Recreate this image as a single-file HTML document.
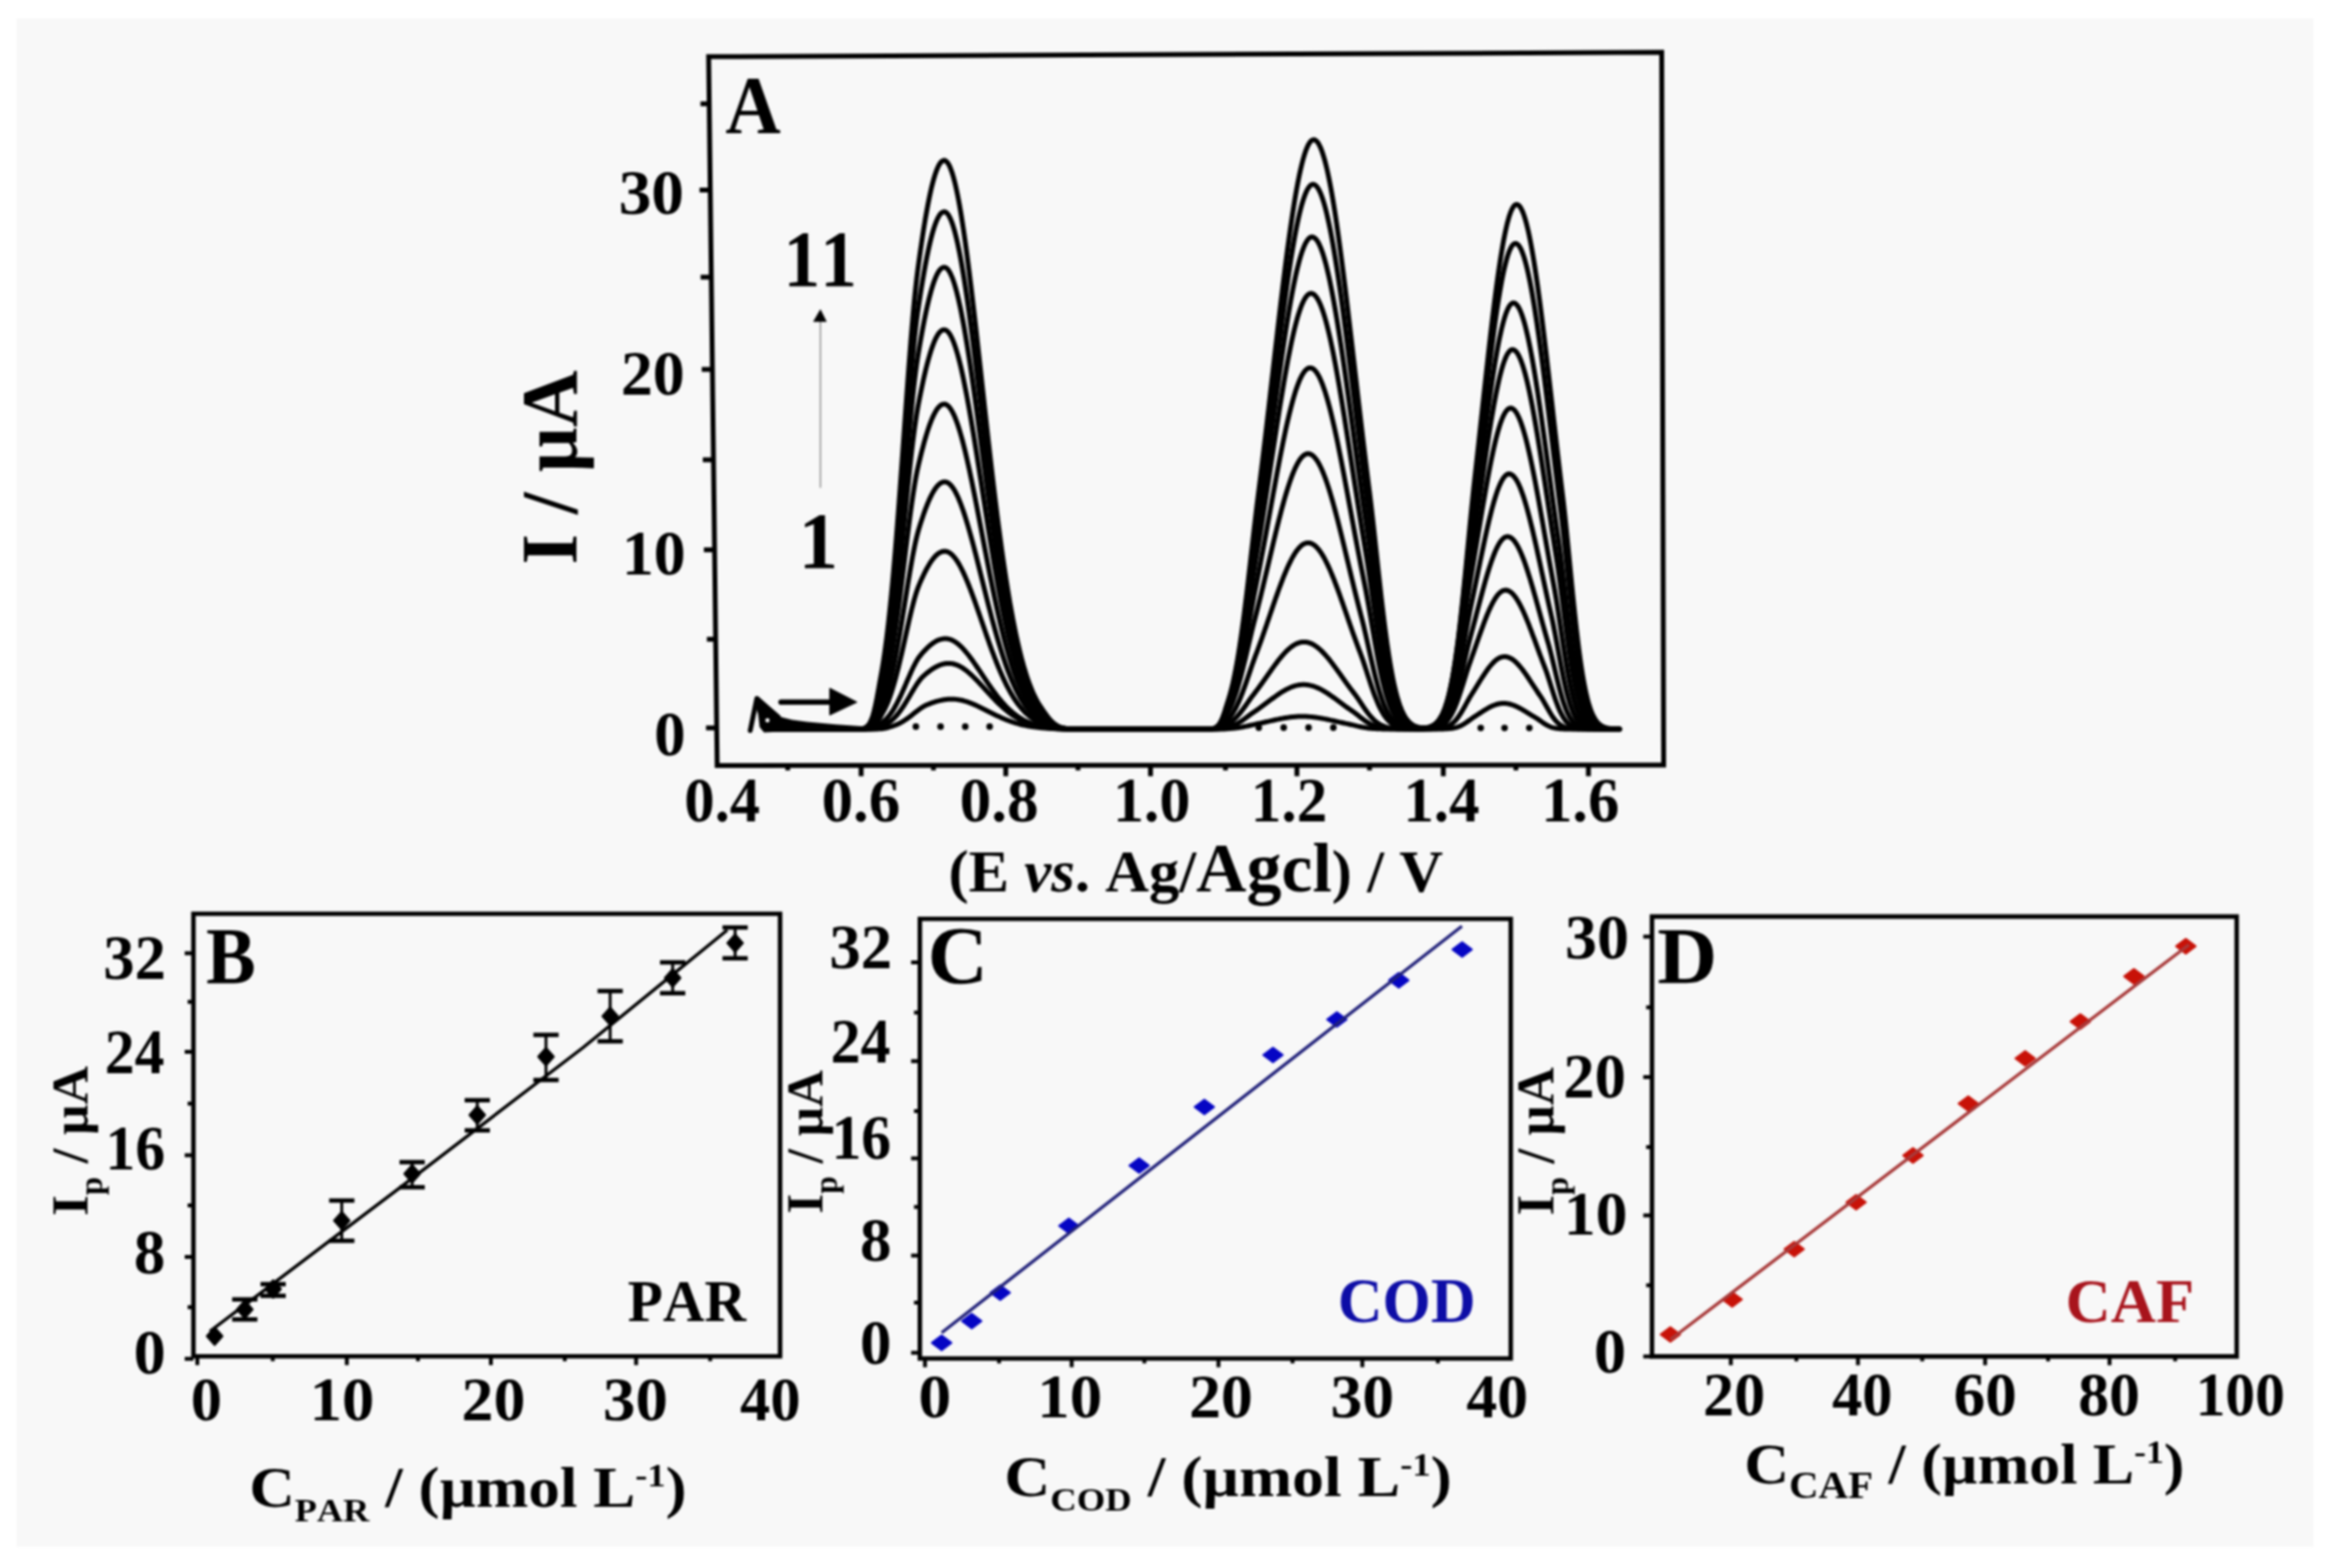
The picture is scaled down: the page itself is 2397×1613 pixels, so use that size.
<!DOCTYPE html>
<html><head><meta charset="utf-8"><title>Figure</title>
<style>html,body{margin:0;padding:0;background:#fff;} svg text{font-kerning:none;}</style>
</head><body>
<div style="width:2397px;height:1613px;overflow:hidden;filter:blur(0.8px)">
<svg xmlns="http://www.w3.org/2000/svg" width="2397" height="1613" viewBox="0 0 2397 1613" font-family="'Liberation Serif', 'Times New Roman', serif" font-weight="bold" style="display:block;font-kerning:none"><rect x="0" y="0" width="2397" height="1613" fill="#ffffff"/><rect x="17" y="19" width="2363" height="1572" fill="#f8f8f8"/><polygon points="729.02,58.30 1709.50,53.80 1711.50,787.00 737.79,787.50" fill="none" stroke="#000" stroke-width="5" stroke-linejoin="miter" stroke-linecap="butt"/><line x1="720.61" y1="106.80" x2="729.61" y2="106.80" stroke="#000" stroke-width="5" stroke-linecap="butt"/><line x1="719.67" y1="195.50" x2="730.67" y2="195.50" stroke="#000" stroke-width="5" stroke-linecap="butt"/><line x1="720.75" y1="285.10" x2="731.75" y2="285.10" stroke="#000" stroke-width="5" stroke-linecap="butt"/><line x1="721.89" y1="380.00" x2="732.89" y2="380.00" stroke="#000" stroke-width="5" stroke-linecap="butt"/><line x1="723.01" y1="473.00" x2="734.01" y2="473.00" stroke="#000" stroke-width="5" stroke-linecap="butt"/><line x1="724.12" y1="565.60" x2="735.12" y2="565.60" stroke="#000" stroke-width="5" stroke-linecap="butt"/><line x1="727.22" y1="657.60" x2="736.22" y2="657.60" stroke="#000" stroke-width="5" stroke-linecap="butt"/><line x1="726.32" y1="748.80" x2="737.32" y2="748.80" stroke="#000" stroke-width="5" stroke-linecap="butt"/><line x1="810.40" y1="786.00" x2="810.40" y2="792.50" stroke="#000" stroke-width="5" stroke-linecap="butt"/><line x1="885.90" y1="786.00" x2="885.90" y2="798.50" stroke="#000" stroke-width="5" stroke-linecap="butt"/><line x1="960.30" y1="786.00" x2="960.30" y2="792.50" stroke="#000" stroke-width="5" stroke-linecap="butt"/><line x1="1034.70" y1="786.00" x2="1034.70" y2="798.50" stroke="#000" stroke-width="5" stroke-linecap="butt"/><line x1="1109.00" y1="786.00" x2="1109.00" y2="792.50" stroke="#000" stroke-width="5" stroke-linecap="butt"/><line x1="1183.60" y1="786.00" x2="1183.60" y2="798.50" stroke="#000" stroke-width="5" stroke-linecap="butt"/><line x1="1260.70" y1="786.00" x2="1260.70" y2="792.50" stroke="#000" stroke-width="5" stroke-linecap="butt"/><line x1="1334.20" y1="786.00" x2="1334.20" y2="798.50" stroke="#000" stroke-width="5" stroke-linecap="butt"/><line x1="1408.90" y1="786.00" x2="1408.90" y2="792.50" stroke="#000" stroke-width="5" stroke-linecap="butt"/><line x1="1484.80" y1="786.00" x2="1484.80" y2="798.50" stroke="#000" stroke-width="5" stroke-linecap="butt"/><line x1="1559.50" y1="786.00" x2="1559.50" y2="792.50" stroke="#000" stroke-width="5" stroke-linecap="butt"/><line x1="1634.10" y1="786.00" x2="1634.10" y2="798.50" stroke="#000" stroke-width="5" stroke-linecap="butt"/><g fill="none" stroke="#000" stroke-width="5" stroke-linejoin="round" stroke-linecap="round"><path d="M790.0,750.00 L791.0,750.00 L792.0,750.00 L793.0,750.00 L794.0,750.00 L795.0,750.00 L796.0,750.00 L797.0,750.00 L798.0,750.00 L799.0,750.00 L800.0,750.00 L801.0,750.00 L802.0,750.00 L803.0,750.00 L804.0,750.00 L805.0,750.00 L806.0,750.00 L807.0,750.00 L808.0,750.00 L809.0,750.00 L810.0,750.00 L811.0,750.00 L812.0,750.00 L813.0,750.00 L814.0,750.00 L815.0,750.00 L816.0,750.00 L817.0,750.00 L818.0,750.00 L819.0,750.00 L820.0,750.00 L821.0,750.00 L822.0,750.00 L823.0,750.00 L824.0,750.00 L825.0,750.00 L826.0,750.00 L827.0,750.00 L828.0,750.00 L829.0,750.00 L830.0,750.00 L831.0,750.00 L832.0,750.00 L833.0,750.00 L834.0,750.00 L835.0,750.00 L836.0,750.00 L837.0,750.00 L838.0,750.00 L839.0,750.00 L840.0,750.00 L841.0,750.00 L842.0,750.00 L843.0,750.00 L844.0,750.00 L845.0,750.00 L846.0,750.00 L847.0,750.00 L848.0,750.00 L849.0,750.00 L850.0,750.00 L851.0,750.00 L852.0,750.00 L853.0,750.00 L854.0,750.00 L855.0,750.00 L856.0,750.00 L857.0,750.00 L858.0,750.00 L859.0,750.00 L860.0,750.00 L861.0,750.00 L862.0,750.00 L863.0,750.00 L864.0,750.00 L865.0,750.00 L866.0,750.00 L867.0,750.00 L868.0,750.00 L869.0,750.00 L870.0,750.00 L871.0,750.00 L872.0,750.00 L873.0,750.00 L874.0,750.00 L875.0,750.00 L876.0,750.00 L877.0,750.00 L878.0,750.00 L879.0,750.00 L880.0,750.00 L881.0,750.00 L882.0,750.00 L883.0,750.00 L884.0,750.00 L885.0,750.00 L886.0,750.00 L887.0,750.00 L888.0,750.00 L889.0,750.00 L890.0,750.00 L891.0,750.00 L892.0,750.00 L893.0,750.00 L894.0,750.00 L895.0,750.00 L896.0,750.00 L897.0,749.99 L898.0,749.99 L899.0,749.98 L900.0,749.97 L901.0,749.96 L902.0,749.94 L903.0,749.91 L904.0,749.87 L905.0,749.82 L906.0,749.75 L907.0,749.66 L908.0,749.55 L909.0,749.41 L910.0,749.24 L911.0,749.04 L912.0,748.81 L913.0,748.55 L914.0,748.26 L915.0,747.96 L916.0,747.64 L917.0,747.33 L918.0,747.02 L919.0,746.70 L920.0,746.36 L921.0,745.99 L922.0,745.59 L923.0,745.17 L924.0,744.72 L925.0,744.23 L926.0,743.72 L927.0,743.19 L928.0,742.62 L929.0,742.03 L930.0,741.40 L931.0,740.76 L932.0,740.08 L933.0,739.39 L934.0,738.67 L935.0,737.94 L936.0,737.19 L937.0,736.42 L938.0,735.65 L939.0,734.86 L940.0,734.07 L941.0,733.29 L942.0,732.50 L943.0,731.72 L944.0,730.96 L945.0,730.21 L946.0,729.48 L947.0,728.78 L948.0,728.10 L949.0,727.46 L950.0,726.86 L951.0,726.29 L952.0,725.78 L953.0,725.31 L954.0,724.89 L955.0,724.48 L956.0,724.09 L957.0,723.70 L958.0,723.33 L959.0,722.97 L960.0,722.63 L961.0,722.29 L962.0,721.97 L963.0,721.67 L964.0,721.38 L965.0,721.11 L966.0,720.85 L967.0,720.62 L968.0,720.39 L969.0,720.19 L970.0,720.00 L971.0,719.84 L972.0,719.69 L973.0,719.56 L974.0,719.45 L975.0,719.36 L976.0,719.29 L977.0,719.24 L978.0,719.21 L979.0,719.20 L980.0,719.21 L981.0,719.25 L982.0,719.30 L983.0,719.38 L984.0,719.48 L985.0,719.61 L986.0,719.75 L987.0,719.92 L988.0,720.11 L989.0,720.32 L990.0,720.55 L991.0,720.80 L992.0,721.07 L993.0,721.35 L994.0,721.66 L995.0,721.98 L996.0,722.32 L997.0,722.68 L998.0,723.05 L999.0,723.44 L1000.0,723.83 L1001.0,724.25 L1002.0,724.67 L1003.0,725.11 L1004.0,725.56 L1005.0,726.01 L1006.0,726.48 L1007.0,726.95 L1008.0,727.43 L1009.0,727.92 L1010.0,728.41 L1011.0,728.91 L1012.0,729.41 L1013.0,729.91 L1014.0,730.42 L1015.0,730.93 L1016.0,731.44 L1017.0,731.94 L1018.0,732.45 L1019.0,732.96 L1020.0,733.46 L1021.0,733.96 L1022.0,734.46 L1023.0,734.95 L1024.0,735.43 L1025.0,735.92 L1026.0,736.39 L1027.0,736.86 L1028.0,737.33 L1029.0,737.78 L1030.0,738.23 L1031.0,738.67 L1032.0,739.10 L1033.0,739.52 L1034.0,739.94 L1035.0,740.34 L1036.0,740.74 L1037.0,741.12 L1038.0,741.50 L1039.0,741.86 L1040.0,742.22 L1041.0,742.57 L1042.0,742.90 L1043.0,743.23 L1044.0,743.54 L1045.0,743.85 L1046.0,744.14 L1047.0,744.43 L1048.0,744.70 L1049.0,744.97 L1050.0,745.23 L1051.0,745.47 L1052.0,745.71 L1053.0,745.94 L1054.0,746.15 L1055.0,746.36 L1056.0,746.56 L1057.0,746.75 L1058.0,746.94 L1059.0,747.11 L1060.0,747.28 L1061.0,747.44 L1062.0,747.59 L1063.0,747.73 L1064.0,747.87 L1065.0,748.00 L1066.0,748.13 L1067.0,748.24 L1068.0,748.35 L1069.0,748.46 L1070.0,748.56 L1071.0,748.65 L1072.0,748.74 L1073.0,748.83 L1074.0,748.91 L1075.0,748.99 L1076.0,749.07 L1077.0,749.15 L1078.0,749.23 L1079.0,749.30 L1080.0,749.38 L1081.0,749.44 L1082.0,749.51 L1083.0,749.57 L1084.0,749.62 L1085.0,749.67 L1086.0,749.72 L1087.0,749.76 L1088.0,749.79 L1089.0,749.82 L1090.0,749.85 L1091.0,749.88 L1092.0,749.90 L1093.0,749.92 L1094.0,749.93 L1095.0,749.94 L1096.0,749.95 L1097.0,749.96 L1098.0,749.97 L1099.0,749.98 L1100.0,749.98 L1101.0,749.99 L1102.0,749.99 L1103.0,749.99 L1104.0,749.99 L1105.0,749.99 L1106.0,750.00 L1107.0,750.00 L1108.0,750.00 L1109.0,750.00 L1110.0,750.00 L1111.0,750.00 L1112.0,750.00 L1113.0,750.00 L1114.0,750.00 L1115.0,750.00 L1116.0,750.00 L1117.0,750.00 L1118.0,750.00 L1119.0,750.00 L1120.0,750.00 L1121.0,750.00 L1122.0,750.00 L1123.0,750.00 L1124.0,750.00 L1125.0,750.00 L1126.0,750.00 L1127.0,750.00 L1128.0,750.00 L1129.0,750.00 L1130.0,750.00 L1131.0,750.00 L1132.0,750.00 L1133.0,750.00 L1134.0,750.00 L1135.0,750.00 L1136.0,750.00 L1137.0,750.00 L1138.0,750.00 L1139.0,750.00 L1140.0,750.00 L1141.0,750.00 L1142.0,750.00 L1143.0,750.00 L1144.0,750.00 L1145.0,750.00 L1146.0,750.00 L1147.0,750.00 L1148.0,750.00 L1149.0,750.00 L1150.0,750.00 L1151.0,750.00 L1152.0,750.00 L1153.0,750.00 L1154.0,750.00 L1155.0,750.00 L1156.0,750.00 L1157.0,750.00 L1158.0,750.00 L1159.0,750.00 L1160.0,750.00 L1161.0,750.00 L1162.0,750.00 L1163.0,750.00 L1164.0,750.00 L1165.0,750.00 L1166.0,750.00 L1167.0,750.00 L1168.0,750.00 L1169.0,750.00 L1170.0,750.00 L1171.0,750.00 L1172.0,750.00 L1173.0,750.00 L1174.0,750.00 L1175.0,750.00 L1176.0,750.00 L1177.0,750.00 L1178.0,750.00 L1179.0,750.00 L1180.0,750.00 L1181.0,750.00 L1182.0,750.00 L1183.0,750.00 L1184.0,750.00 L1185.0,750.00 L1186.0,750.00 L1187.0,750.00 L1188.0,750.00 L1189.0,750.00 L1190.0,750.00 L1191.0,750.00 L1192.0,750.00 L1193.0,750.00 L1194.0,750.00 L1195.0,750.00 L1196.0,750.00 L1197.0,750.00 L1198.0,750.00 L1199.0,750.00 L1200.0,750.00 L1201.0,750.00 L1202.0,750.00 L1203.0,750.00 L1204.0,750.00 L1205.0,750.00 L1206.0,750.00 L1207.0,750.00 L1208.0,750.00 L1209.0,750.00 L1210.0,750.00 L1211.0,750.00 L1212.0,750.00 L1213.0,750.00 L1214.0,750.00 L1215.0,750.00 L1216.0,750.00 L1217.0,750.00 L1218.0,750.00 L1219.0,750.00 L1220.0,750.00 L1221.0,750.00 L1222.0,750.00 L1223.0,750.00 L1224.0,750.00 L1225.0,750.00 L1226.0,750.00 L1227.0,750.00 L1228.0,750.00 L1229.0,750.00 L1230.0,750.00 L1231.0,750.00 L1232.0,750.00 L1233.0,750.00 L1234.0,750.00 L1235.0,750.00 L1236.0,750.00 L1237.0,750.00 L1238.0,750.00 L1239.0,750.00 L1240.0,750.00 L1241.0,750.00 L1242.0,750.00 L1243.0,750.00 L1244.0,750.00 L1245.0,750.00 L1246.0,750.00 L1247.0,750.00 L1248.0,750.00 L1249.0,750.00 L1250.0,750.00 L1251.0,750.00 L1252.0,750.00 L1253.0,750.00 L1254.0,749.99 L1255.0,749.99 L1256.0,749.98 L1257.0,749.96 L1258.0,749.95 L1259.0,749.92 L1260.0,749.88 L1261.0,749.83 L1262.0,749.78 L1263.0,749.70 L1264.0,749.63 L1265.0,749.54 L1266.0,749.45 L1267.0,749.37 L1268.0,749.28 L1269.0,749.19 L1270.0,749.09 L1271.0,748.98 L1272.0,748.87 L1273.0,748.74 L1274.0,748.60 L1275.0,748.45 L1276.0,748.30 L1277.0,748.13 L1278.0,747.95 L1279.0,747.77 L1280.0,747.57 L1281.0,747.37 L1282.0,747.16 L1283.0,746.95 L1284.0,746.73 L1285.0,746.50 L1286.0,746.28 L1287.0,746.05 L1288.0,745.82 L1289.0,745.59 L1290.0,745.37 L1291.0,745.15 L1292.0,744.94 L1293.0,744.74 L1294.0,744.53 L1295.0,744.32 L1296.0,744.11 L1297.0,743.89 L1298.0,743.67 L1299.0,743.45 L1300.0,743.23 L1301.0,743.01 L1302.0,742.78 L1303.0,742.56 L1304.0,742.33 L1305.0,742.10 L1306.0,741.87 L1307.0,741.65 L1308.0,741.42 L1309.0,741.20 L1310.0,740.97 L1311.0,740.75 L1312.0,740.53 L1313.0,740.32 L1314.0,740.10 L1315.0,739.89 L1316.0,739.69 L1317.0,739.49 L1318.0,739.29 L1319.0,739.10 L1320.0,738.92 L1321.0,738.74 L1322.0,738.57 L1323.0,738.41 L1324.0,738.25 L1325.0,738.10 L1326.0,737.96 L1327.0,737.83 L1328.0,737.71 L1329.0,737.59 L1330.0,737.49 L1331.0,737.39 L1332.0,737.31 L1333.0,737.23 L1334.0,737.17 L1335.0,737.11 L1336.0,737.07 L1337.0,737.04 L1338.0,737.01 L1339.0,737.00 L1340.0,737.00 L1341.0,737.01 L1342.0,737.03 L1343.0,737.06 L1344.0,737.10 L1345.0,737.15 L1346.0,737.21 L1347.0,737.29 L1348.0,737.37 L1349.0,737.46 L1350.0,737.56 L1351.0,737.67 L1352.0,737.79 L1353.0,737.92 L1354.0,738.05 L1355.0,738.19 L1356.0,738.35 L1357.0,738.51 L1358.0,738.67 L1359.0,738.84 L1360.0,739.02 L1361.0,739.21 L1362.0,739.40 L1363.0,739.59 L1364.0,739.79 L1365.0,740.00 L1366.0,740.21 L1367.0,740.42 L1368.0,740.63 L1369.0,740.85 L1370.0,741.07 L1371.0,741.29 L1372.0,741.52 L1373.0,741.74 L1374.0,741.96 L1375.0,742.19 L1376.0,742.41 L1377.0,742.64 L1378.0,742.86 L1379.0,743.08 L1380.0,743.30 L1381.0,743.52 L1382.0,743.74 L1383.0,743.95 L1384.0,744.17 L1385.0,744.38 L1386.0,744.58 L1387.0,744.79 L1388.0,745.00 L1389.0,745.22 L1390.0,745.45 L1391.0,745.69 L1392.0,745.93 L1393.0,746.17 L1394.0,746.41 L1395.0,746.65 L1396.0,746.88 L1397.0,747.11 L1398.0,747.33 L1399.0,747.55 L1400.0,747.75 L1401.0,747.95 L1402.0,748.14 L1403.0,748.31 L1404.0,748.48 L1405.0,748.64 L1406.0,748.78 L1407.0,748.91 L1408.0,749.03 L1409.0,749.15 L1410.0,749.25 L1411.0,749.34 L1412.0,749.42 L1413.0,749.50 L1414.0,749.56 L1415.0,749.62 L1416.0,749.68 L1417.0,749.72 L1418.0,749.76 L1419.0,749.80 L1420.0,749.83 L1421.0,749.86 L1422.0,749.88 L1423.0,749.90 L1424.0,749.91 L1425.0,749.93 L1426.0,749.94 L1427.0,749.95 L1428.0,749.96 L1429.0,749.97 L1430.0,749.97 L1431.0,749.98 L1432.0,749.98 L1433.0,749.99 L1434.0,749.99 L1435.0,749.99 L1436.0,749.99 L1437.0,749.99 L1438.0,750.00 L1439.0,750.00 L1440.0,750.00 L1441.0,750.00 L1442.0,750.00 L1443.0,750.00 L1444.0,750.00 L1445.0,750.00 L1446.0,750.00 L1447.0,750.00 L1448.0,750.00 L1449.0,750.00 L1450.0,750.00 L1451.0,750.00 L1452.0,750.00 L1453.0,750.00 L1454.0,750.00 L1455.0,750.00 L1456.0,750.00 L1457.0,750.00 L1458.0,750.00 L1459.0,750.00 L1460.0,750.00 L1461.0,750.00 L1462.0,750.00 L1463.0,750.00 L1464.0,750.00 L1465.0,750.00 L1466.0,750.00 L1467.0,750.00 L1468.0,750.00 L1469.0,750.00 L1470.0,750.00 L1471.0,750.00 L1472.0,750.00 L1473.0,750.00 L1474.0,749.99 L1475.0,749.99 L1476.0,749.99 L1477.0,749.99 L1478.0,749.98 L1479.0,749.98 L1480.0,749.97 L1481.0,749.96 L1482.0,749.95 L1483.0,749.93 L1484.0,749.91 L1485.0,749.88 L1486.0,749.85 L1487.0,749.81 L1488.0,749.77 L1489.0,749.71 L1490.0,749.63 L1491.0,749.55 L1492.0,749.44 L1493.0,749.32 L1494.0,749.17 L1495.0,749.00 L1496.0,748.81 L1497.0,748.58 L1498.0,748.32 L1499.0,748.02 L1500.0,747.68 L1501.0,747.31 L1502.0,746.89 L1503.0,746.43 L1504.0,745.92 L1505.0,745.38 L1506.0,744.79 L1507.0,744.17 L1508.0,743.51 L1509.0,742.82 L1510.0,742.11 L1511.0,741.39 L1512.0,740.65 L1513.0,739.92 L1514.0,739.19 L1515.0,738.48 L1516.0,737.81 L1517.0,737.17 L1518.0,736.54 L1519.0,735.90 L1520.0,735.26 L1521.0,734.61 L1522.0,733.96 L1523.0,733.30 L1524.0,732.65 L1525.0,732.01 L1526.0,731.37 L1527.0,730.74 L1528.0,730.12 L1529.0,729.52 L1530.0,728.93 L1531.0,728.36 L1532.0,727.81 L1533.0,727.29 L1534.0,726.79 L1535.0,726.32 L1536.0,725.88 L1537.0,725.47 L1538.0,725.10 L1539.0,724.76 L1540.0,724.46 L1541.0,724.20 L1542.0,723.98 L1543.0,723.80 L1544.0,723.66 L1545.0,723.56 L1546.0,723.51 L1547.0,723.50 L1548.0,723.53 L1549.0,723.60 L1550.0,723.71 L1551.0,723.86 L1552.0,724.05 L1553.0,724.27 L1554.0,724.53 L1555.0,724.83 L1556.0,725.15 L1557.0,725.51 L1558.0,725.90 L1559.0,726.32 L1560.0,726.77 L1561.0,727.24 L1562.0,727.74 L1563.0,728.26 L1564.0,728.79 L1565.0,729.35 L1566.0,729.92 L1567.0,730.50 L1568.0,731.10 L1569.0,731.70 L1570.0,732.31 L1571.0,732.93 L1572.0,733.55 L1573.0,734.17 L1574.0,734.79 L1575.0,735.41 L1576.0,736.02 L1577.0,736.63 L1578.0,737.22 L1579.0,737.82 L1580.0,738.40 L1581.0,739.02 L1582.0,739.69 L1583.0,740.38 L1584.0,741.10 L1585.0,741.82 L1586.0,742.54 L1587.0,743.25 L1588.0,743.94 L1589.0,744.59 L1590.0,745.21 L1591.0,745.80 L1592.0,746.33 L1593.0,746.83 L1594.0,747.27 L1595.0,747.68 L1596.0,748.03 L1597.0,748.35 L1598.0,748.62 L1599.0,748.86 L1600.0,749.06 L1601.0,749.24 L1602.0,749.38 L1603.0,749.50 L1604.0,749.60 L1605.0,749.69 L1606.0,749.75 L1607.0,749.81 L1608.0,749.85 L1609.0,749.89 L1610.0,749.91 L1611.0,749.93 L1612.0,749.95 L1613.0,749.96 L1614.0,749.97 L1615.0,749.98 L1616.0,749.99 L1617.0,749.99 L1618.0,749.99 L1619.0,749.99 L1620.0,750.00 L1621.0,750.00 L1622.0,750.00 L1623.0,750.00 L1624.0,750.00 L1625.0,750.00 L1626.0,750.00 L1627.0,750.00 L1628.0,750.00 L1629.0,750.00 L1630.0,750.00 L1631.0,750.00 L1632.0,750.00 L1633.0,750.00 L1634.0,750.00 L1635.0,750.00 L1636.0,750.00 L1637.0,750.00 L1638.0,750.00 L1639.0,750.00 L1640.0,750.00 L1641.0,750.00 L1642.0,750.00 L1643.0,750.00 L1644.0,750.00 L1645.0,750.00 L1646.0,750.00 L1647.0,750.00 L1648.0,750.00 L1649.0,750.00 L1650.0,750.00 L1651.0,750.00 L1652.0,750.00 L1653.0,750.00 L1654.0,750.00 L1655.0,750.00 L1656.0,750.00 L1657.0,750.00 L1658.0,750.00 L1659.0,750.00 L1660.0,750.00 L1661.0,750.00 L1662.0,750.00 L1663.0,750.00 L1664.0,750.00 L1665.0,750.00 L1666.0,750.00"/><path d="M790.0,750.00 L791.0,750.00 L792.0,750.00 L793.0,750.00 L794.0,750.00 L795.0,750.00 L796.0,750.00 L797.0,750.00 L798.0,750.00 L799.0,750.00 L800.0,750.00 L801.0,750.00 L802.0,750.00 L803.0,750.00 L804.0,750.00 L805.0,750.00 L806.0,750.00 L807.0,750.00 L808.0,750.00 L809.0,750.00 L810.0,750.00 L811.0,750.00 L812.0,750.00 L813.0,750.00 L814.0,750.00 L815.0,750.00 L816.0,750.00 L817.0,750.00 L818.0,750.00 L819.0,750.00 L820.0,750.00 L821.0,750.00 L822.0,750.00 L823.0,750.00 L824.0,750.00 L825.0,750.00 L826.0,750.00 L827.0,750.00 L828.0,750.00 L829.0,750.00 L830.0,750.00 L831.0,750.00 L832.0,750.00 L833.0,750.00 L834.0,750.00 L835.0,750.00 L836.0,750.00 L837.0,750.00 L838.0,750.00 L839.0,750.00 L840.0,750.00 L841.0,750.00 L842.0,750.00 L843.0,750.00 L844.0,750.00 L845.0,750.00 L846.0,750.00 L847.0,750.00 L848.0,750.00 L849.0,750.00 L850.0,750.00 L851.0,750.00 L852.0,750.00 L853.0,750.00 L854.0,750.00 L855.0,750.00 L856.0,750.00 L857.0,750.00 L858.0,750.00 L859.0,750.00 L860.0,750.00 L861.0,750.00 L862.0,750.00 L863.0,750.00 L864.0,750.00 L865.0,750.00 L866.0,750.00 L867.0,750.00 L868.0,750.00 L869.0,750.00 L870.0,750.00 L871.0,750.00 L872.0,750.00 L873.0,750.00 L874.0,750.00 L875.0,750.00 L876.0,750.00 L877.0,750.00 L878.0,750.00 L879.0,750.00 L880.0,750.00 L881.0,750.00 L882.0,750.00 L883.0,750.00 L884.0,750.00 L885.0,750.00 L886.0,750.00 L887.0,750.00 L888.0,750.00 L889.0,750.00 L890.0,750.00 L891.0,749.99 L892.0,749.99 L893.0,749.98 L894.0,749.97 L895.0,749.96 L896.0,749.93 L897.0,749.90 L898.0,749.85 L899.0,749.79 L900.0,749.70 L901.0,749.58 L902.0,749.43 L903.0,749.23 L904.0,748.98 L905.0,748.67 L906.0,748.30 L907.0,747.86 L908.0,747.35 L909.0,746.79 L910.0,746.17 L911.0,745.51 L912.0,744.83 L913.0,744.15 L914.0,743.49 L915.0,742.80 L916.0,742.06 L917.0,741.27 L918.0,740.41 L919.0,739.50 L920.0,738.53 L921.0,737.50 L922.0,736.41 L923.0,735.25 L924.0,734.04 L925.0,732.77 L926.0,731.44 L927.0,730.05 L928.0,728.61 L929.0,727.12 L930.0,725.59 L931.0,724.01 L932.0,722.40 L933.0,720.76 L934.0,719.09 L935.0,717.40 L936.0,715.70 L937.0,713.99 L938.0,712.29 L939.0,710.61 L940.0,708.94 L941.0,707.31 L942.0,705.71 L943.0,704.16 L944.0,702.67 L945.0,701.25 L946.0,699.90 L947.0,698.64 L948.0,697.46 L949.0,696.39 L950.0,695.42 L951.0,694.53 L952.0,693.67 L953.0,692.82 L954.0,692.00 L955.0,691.21 L956.0,690.44 L957.0,689.70 L958.0,688.99 L959.0,688.31 L960.0,687.66 L961.0,687.05 L962.0,686.47 L963.0,685.92 L964.0,685.41 L965.0,684.94 L966.0,684.51 L967.0,684.11 L968.0,683.76 L969.0,683.44 L970.0,683.17 L971.0,682.93 L972.0,682.74 L973.0,682.59 L974.0,682.49 L975.0,682.42 L976.0,682.40 L977.0,682.42 L978.0,682.50 L979.0,682.62 L980.0,682.79 L981.0,683.00 L982.0,683.27 L983.0,683.58 L984.0,683.93 L985.0,684.33 L986.0,684.78 L987.0,685.27 L988.0,685.80 L989.0,686.37 L990.0,686.99 L991.0,687.64 L992.0,688.33 L993.0,689.05 L994.0,689.81 L995.0,690.60 L996.0,691.43 L997.0,692.28 L998.0,693.16 L999.0,694.07 L1000.0,695.01 L1001.0,695.97 L1002.0,696.94 L1003.0,697.94 L1004.0,698.96 L1005.0,699.99 L1006.0,701.04 L1007.0,702.10 L1008.0,703.16 L1009.0,704.24 L1010.0,705.33 L1011.0,706.42 L1012.0,707.51 L1013.0,708.61 L1014.0,709.71 L1015.0,710.81 L1016.0,711.90 L1017.0,712.99 L1018.0,714.07 L1019.0,715.15 L1020.0,716.22 L1021.0,717.28 L1022.0,718.33 L1023.0,719.37 L1024.0,720.40 L1025.0,721.41 L1026.0,722.40 L1027.0,723.38 L1028.0,724.35 L1029.0,725.30 L1030.0,726.23 L1031.0,727.14 L1032.0,728.03 L1033.0,728.90 L1034.0,729.75 L1035.0,730.58 L1036.0,731.39 L1037.0,732.18 L1038.0,732.95 L1039.0,733.70 L1040.0,734.42 L1041.0,735.13 L1042.0,735.81 L1043.0,736.47 L1044.0,737.11 L1045.0,737.73 L1046.0,738.32 L1047.0,738.90 L1048.0,739.45 L1049.0,739.99 L1050.0,740.50 L1051.0,740.99 L1052.0,741.47 L1053.0,741.92 L1054.0,742.36 L1055.0,742.78 L1056.0,743.18 L1057.0,743.56 L1058.0,743.93 L1059.0,744.28 L1060.0,744.61 L1061.0,744.92 L1062.0,745.23 L1063.0,745.51 L1064.0,745.79 L1065.0,746.05 L1066.0,746.29 L1067.0,746.52 L1068.0,746.74 L1069.0,746.95 L1070.0,747.15 L1071.0,747.34 L1072.0,747.51 L1073.0,747.69 L1074.0,747.87 L1075.0,748.04 L1076.0,748.21 L1077.0,748.38 L1078.0,748.54 L1079.0,748.69 L1080.0,748.83 L1081.0,748.97 L1082.0,749.09 L1083.0,749.21 L1084.0,749.31 L1085.0,749.41 L1086.0,749.49 L1087.0,749.57 L1088.0,749.63 L1089.0,749.69 L1090.0,749.74 L1091.0,749.78 L1092.0,749.82 L1093.0,749.85 L1094.0,749.88 L1095.0,749.90 L1096.0,749.92 L1097.0,749.94 L1098.0,749.95 L1099.0,749.96 L1100.0,749.97 L1101.0,749.98 L1102.0,749.98 L1103.0,749.99 L1104.0,749.99 L1105.0,749.99 L1106.0,749.99 L1107.0,750.00 L1108.0,750.00 L1109.0,750.00 L1110.0,750.00 L1111.0,750.00 L1112.0,750.00 L1113.0,750.00 L1114.0,750.00 L1115.0,750.00 L1116.0,750.00 L1117.0,750.00 L1118.0,750.00 L1119.0,750.00 L1120.0,750.00 L1121.0,750.00 L1122.0,750.00 L1123.0,750.00 L1124.0,750.00 L1125.0,750.00 L1126.0,750.00 L1127.0,750.00 L1128.0,750.00 L1129.0,750.00 L1130.0,750.00 L1131.0,750.00 L1132.0,750.00 L1133.0,750.00 L1134.0,750.00 L1135.0,750.00 L1136.0,750.00 L1137.0,750.00 L1138.0,750.00 L1139.0,750.00 L1140.0,750.00 L1141.0,750.00 L1142.0,750.00 L1143.0,750.00 L1144.0,750.00 L1145.0,750.00 L1146.0,750.00 L1147.0,750.00 L1148.0,750.00 L1149.0,750.00 L1150.0,750.00 L1151.0,750.00 L1152.0,750.00 L1153.0,750.00 L1154.0,750.00 L1155.0,750.00 L1156.0,750.00 L1157.0,750.00 L1158.0,750.00 L1159.0,750.00 L1160.0,750.00 L1161.0,750.00 L1162.0,750.00 L1163.0,750.00 L1164.0,750.00 L1165.0,750.00 L1166.0,750.00 L1167.0,750.00 L1168.0,750.00 L1169.0,750.00 L1170.0,750.00 L1171.0,750.00 L1172.0,750.00 L1173.0,750.00 L1174.0,750.00 L1175.0,750.00 L1176.0,750.00 L1177.0,750.00 L1178.0,750.00 L1179.0,750.00 L1180.0,750.00 L1181.0,750.00 L1182.0,750.00 L1183.0,750.00 L1184.0,750.00 L1185.0,750.00 L1186.0,750.00 L1187.0,750.00 L1188.0,750.00 L1189.0,750.00 L1190.0,750.00 L1191.0,750.00 L1192.0,750.00 L1193.0,750.00 L1194.0,750.00 L1195.0,750.00 L1196.0,750.00 L1197.0,750.00 L1198.0,750.00 L1199.0,750.00 L1200.0,750.00 L1201.0,750.00 L1202.0,750.00 L1203.0,750.00 L1204.0,750.00 L1205.0,750.00 L1206.0,750.00 L1207.0,750.00 L1208.0,750.00 L1209.0,750.00 L1210.0,750.00 L1211.0,750.00 L1212.0,750.00 L1213.0,750.00 L1214.0,750.00 L1215.0,750.00 L1216.0,750.00 L1217.0,750.00 L1218.0,750.00 L1219.0,750.00 L1220.0,750.00 L1221.0,750.00 L1222.0,750.00 L1223.0,750.00 L1224.0,750.00 L1225.0,750.00 L1226.0,750.00 L1227.0,750.00 L1228.0,750.00 L1229.0,750.00 L1230.0,750.00 L1231.0,750.00 L1232.0,750.00 L1233.0,750.00 L1234.0,750.00 L1235.0,750.00 L1236.0,750.00 L1237.0,750.00 L1238.0,750.00 L1239.0,750.00 L1240.0,750.00 L1241.0,750.00 L1242.0,750.00 L1243.0,750.00 L1244.0,750.00 L1245.0,750.00 L1246.0,750.00 L1247.0,749.99 L1248.0,749.99 L1249.0,749.98 L1250.0,749.97 L1251.0,749.95 L1252.0,749.92 L1253.0,749.88 L1254.0,749.82 L1255.0,749.73 L1256.0,749.62 L1257.0,749.47 L1258.0,749.29 L1259.0,749.07 L1260.0,748.82 L1261.0,748.54 L1262.0,748.25 L1263.0,747.97 L1264.0,747.70 L1265.0,747.41 L1266.0,747.11 L1267.0,746.77 L1268.0,746.41 L1269.0,746.02 L1270.0,745.60 L1271.0,745.15 L1272.0,744.67 L1273.0,744.16 L1274.0,743.62 L1275.0,743.04 L1276.0,742.45 L1277.0,741.82 L1278.0,741.17 L1279.0,740.49 L1280.0,739.80 L1281.0,739.08 L1282.0,738.35 L1283.0,737.61 L1284.0,736.86 L1285.0,736.10 L1286.0,735.35 L1287.0,734.60 L1288.0,733.86 L1289.0,733.13 L1290.0,732.43 L1291.0,731.75 L1292.0,731.07 L1293.0,730.38 L1294.0,729.69 L1295.0,728.98 L1296.0,728.27 L1297.0,727.55 L1298.0,726.82 L1299.0,726.08 L1300.0,725.34 L1301.0,724.60 L1302.0,723.85 L1303.0,723.10 L1304.0,722.35 L1305.0,721.60 L1306.0,720.85 L1307.0,720.10 L1308.0,719.36 L1309.0,718.62 L1310.0,717.88 L1311.0,717.16 L1312.0,716.44 L1313.0,715.73 L1314.0,715.03 L1315.0,714.34 L1316.0,713.67 L1317.0,713.01 L1318.0,712.37 L1319.0,711.74 L1320.0,711.13 L1321.0,710.54 L1322.0,709.97 L1323.0,709.42 L1324.0,708.90 L1325.0,708.40 L1326.0,707.92 L1327.0,707.47 L1328.0,707.05 L1329.0,706.65 L1330.0,706.29 L1331.0,705.95 L1332.0,705.64 L1333.0,705.36 L1334.0,705.11 L1335.0,704.90 L1336.0,704.72 L1337.0,704.57 L1338.0,704.45 L1339.0,704.37 L1340.0,704.32 L1341.0,704.30 L1342.0,704.32 L1343.0,704.37 L1344.0,704.45 L1345.0,704.56 L1346.0,704.71 L1347.0,704.89 L1348.0,705.10 L1349.0,705.34 L1350.0,705.61 L1351.0,705.91 L1352.0,706.24 L1353.0,706.60 L1354.0,706.99 L1355.0,707.40 L1356.0,707.84 L1357.0,708.31 L1358.0,708.80 L1359.0,709.31 L1360.0,709.85 L1361.0,710.40 L1362.0,710.98 L1363.0,711.58 L1364.0,712.19 L1365.0,712.83 L1366.0,713.47 L1367.0,714.13 L1368.0,714.81 L1369.0,715.50 L1370.0,716.19 L1371.0,716.90 L1372.0,717.62 L1373.0,718.34 L1374.0,719.07 L1375.0,719.80 L1376.0,720.54 L1377.0,721.28 L1378.0,722.02 L1379.0,722.77 L1380.0,723.51 L1381.0,724.25 L1382.0,724.98 L1383.0,725.72 L1384.0,726.45 L1385.0,727.17 L1386.0,727.89 L1387.0,728.60 L1388.0,729.30 L1389.0,729.99 L1390.0,730.68 L1391.0,731.35 L1392.0,732.03 L1393.0,732.75 L1394.0,733.49 L1395.0,734.26 L1396.0,735.04 L1397.0,735.83 L1398.0,736.63 L1399.0,737.42 L1400.0,738.21 L1401.0,738.99 L1402.0,739.75 L1403.0,740.48 L1404.0,741.20 L1405.0,741.89 L1406.0,742.55 L1407.0,743.18 L1408.0,743.78 L1409.0,744.35 L1410.0,744.88 L1411.0,745.38 L1412.0,745.84 L1413.0,746.27 L1414.0,746.67 L1415.0,747.03 L1416.0,747.36 L1417.0,747.67 L1418.0,747.94 L1419.0,748.19 L1420.0,748.42 L1421.0,748.62 L1422.0,748.80 L1423.0,748.96 L1424.0,749.10 L1425.0,749.23 L1426.0,749.34 L1427.0,749.43 L1428.0,749.52 L1429.0,749.59 L1430.0,749.65 L1431.0,749.71 L1432.0,749.75 L1433.0,749.79 L1434.0,749.83 L1435.0,749.86 L1436.0,749.88 L1437.0,749.90 L1438.0,749.92 L1439.0,749.93 L1440.0,749.95 L1441.0,749.96 L1442.0,749.96 L1443.0,749.97 L1444.0,749.98 L1445.0,749.98 L1446.0,749.98 L1447.0,749.99 L1448.0,749.99 L1449.0,749.99 L1450.0,749.99 L1451.0,750.00 L1452.0,750.00 L1453.0,750.00 L1454.0,750.00 L1455.0,750.00 L1456.0,750.00 L1457.0,750.00 L1458.0,750.00 L1459.0,750.00 L1460.0,750.00 L1461.0,750.00 L1462.0,749.99 L1463.0,749.99 L1464.0,749.99 L1465.0,749.99 L1466.0,749.98 L1467.0,749.98 L1468.0,749.97 L1469.0,749.96 L1470.0,749.95 L1471.0,749.94 L1472.0,749.92 L1473.0,749.90 L1474.0,749.87 L1475.0,749.83 L1476.0,749.79 L1477.0,749.74 L1478.0,749.67 L1479.0,749.59 L1480.0,749.50 L1481.0,749.39 L1482.0,749.25 L1483.0,749.09 L1484.0,748.89 L1485.0,748.67 L1486.0,748.40 L1487.0,748.09 L1488.0,747.74 L1489.0,747.32 L1490.0,746.85 L1491.0,746.32 L1492.0,745.71 L1493.0,745.03 L1494.0,744.27 L1495.0,743.42 L1496.0,742.49 L1497.0,741.46 L1498.0,740.34 L1499.0,739.13 L1500.0,737.82 L1501.0,736.43 L1502.0,734.94 L1503.0,733.38 L1504.0,731.74 L1505.0,730.04 L1506.0,728.28 L1507.0,726.49 L1508.0,724.67 L1509.0,722.84 L1510.0,721.02 L1511.0,719.22 L1512.0,717.48 L1513.0,715.80 L1514.0,714.21 L1515.0,712.65 L1516.0,711.07 L1517.0,709.47 L1518.0,707.86 L1519.0,706.25 L1520.0,704.63 L1521.0,703.01 L1522.0,701.40 L1523.0,699.80 L1524.0,698.21 L1525.0,696.63 L1526.0,695.08 L1527.0,693.56 L1528.0,692.07 L1529.0,690.62 L1530.0,689.21 L1531.0,687.84 L1532.0,686.53 L1533.0,685.27 L1534.0,684.07 L1535.0,682.94 L1536.0,681.87 L1537.0,680.87 L1538.0,679.95 L1539.0,679.11 L1540.0,678.35 L1541.0,677.68 L1542.0,677.09 L1543.0,676.59 L1544.0,676.19 L1545.0,675.87 L1546.0,675.65 L1547.0,675.53 L1548.0,675.50 L1549.0,675.56 L1550.0,675.71 L1551.0,675.94 L1552.0,676.26 L1553.0,676.66 L1554.0,677.15 L1555.0,677.71 L1556.0,678.36 L1557.0,679.08 L1558.0,679.87 L1559.0,680.74 L1560.0,681.67 L1561.0,682.67 L1562.0,683.74 L1563.0,684.86 L1564.0,686.04 L1565.0,687.27 L1566.0,688.55 L1567.0,689.87 L1568.0,691.23 L1569.0,692.62 L1570.0,694.05 L1571.0,695.51 L1572.0,696.99 L1573.0,698.49 L1574.0,700.01 L1575.0,701.53 L1576.0,703.07 L1577.0,704.61 L1578.0,706.15 L1579.0,707.69 L1580.0,709.22 L1581.0,710.74 L1582.0,712.25 L1583.0,713.74 L1584.0,715.21 L1585.0,716.67 L1586.0,718.15 L1587.0,719.73 L1588.0,721.41 L1589.0,723.15 L1590.0,724.93 L1591.0,726.73 L1592.0,728.52 L1593.0,730.29 L1594.0,732.02 L1595.0,733.69 L1596.0,735.30 L1597.0,736.82 L1598.0,738.25 L1599.0,739.59 L1600.0,740.83 L1601.0,741.97 L1602.0,743.00 L1603.0,743.94 L1604.0,744.79 L1605.0,745.54 L1606.0,746.20 L1607.0,746.79 L1608.0,747.30 L1609.0,747.74 L1610.0,748.12 L1611.0,748.45 L1612.0,748.73 L1613.0,748.96 L1614.0,749.15 L1615.0,749.32 L1616.0,749.45 L1617.0,749.56 L1618.0,749.65 L1619.0,749.73 L1620.0,749.79 L1621.0,749.83 L1622.0,749.87 L1623.0,749.90 L1624.0,749.92 L1625.0,749.94 L1626.0,749.96 L1627.0,749.97 L1628.0,749.98 L1629.0,749.98 L1630.0,749.99 L1631.0,749.99 L1632.0,749.99 L1633.0,749.99 L1634.0,750.00 L1635.0,750.00 L1636.0,750.00 L1637.0,750.00 L1638.0,750.00 L1639.0,750.00 L1640.0,750.00 L1641.0,750.00 L1642.0,750.00 L1643.0,750.00 L1644.0,750.00 L1645.0,750.00 L1646.0,750.00 L1647.0,750.00 L1648.0,750.00 L1649.0,750.00 L1650.0,750.00 L1651.0,750.00 L1652.0,750.00 L1653.0,750.00 L1654.0,750.00 L1655.0,750.00 L1656.0,750.00 L1657.0,750.00 L1658.0,750.00 L1659.0,750.00 L1660.0,750.00 L1661.0,750.00 L1662.0,750.00 L1663.0,750.00 L1664.0,750.00 L1665.0,750.00 L1666.0,750.00"/><path d="M790.0,750.00 L791.0,750.00 L792.0,750.00 L793.0,750.00 L794.0,750.00 L795.0,750.00 L796.0,750.00 L797.0,750.00 L798.0,750.00 L799.0,750.00 L800.0,750.00 L801.0,750.00 L802.0,750.00 L803.0,750.00 L804.0,750.00 L805.0,750.00 L806.0,750.00 L807.0,750.00 L808.0,750.00 L809.0,750.00 L810.0,750.00 L811.0,750.00 L812.0,750.00 L813.0,750.00 L814.0,750.00 L815.0,750.00 L816.0,750.00 L817.0,750.00 L818.0,750.00 L819.0,750.00 L820.0,750.00 L821.0,750.00 L822.0,750.00 L823.0,750.00 L824.0,750.00 L825.0,750.00 L826.0,750.00 L827.0,750.00 L828.0,750.00 L829.0,750.00 L830.0,750.00 L831.0,750.00 L832.0,750.00 L833.0,750.00 L834.0,750.00 L835.0,750.00 L836.0,750.00 L837.0,750.00 L838.0,750.00 L839.0,750.00 L840.0,750.00 L841.0,750.00 L842.0,750.00 L843.0,750.00 L844.0,750.00 L845.0,750.00 L846.0,750.00 L847.0,750.00 L848.0,750.00 L849.0,750.00 L850.0,750.00 L851.0,750.00 L852.0,750.00 L853.0,750.00 L854.0,750.00 L855.0,750.00 L856.0,750.00 L857.0,750.00 L858.0,750.00 L859.0,750.00 L860.0,750.00 L861.0,750.00 L862.0,750.00 L863.0,750.00 L864.0,750.00 L865.0,750.00 L866.0,750.00 L867.0,750.00 L868.0,750.00 L869.0,750.00 L870.0,750.00 L871.0,750.00 L872.0,750.00 L873.0,750.00 L874.0,750.00 L875.0,750.00 L876.0,750.00 L877.0,750.00 L878.0,750.00 L879.0,750.00 L880.0,750.00 L881.0,750.00 L882.0,750.00 L883.0,750.00 L884.0,750.00 L885.0,750.00 L886.0,749.99 L887.0,749.99 L888.0,749.98 L889.0,749.98 L890.0,749.96 L891.0,749.94 L892.0,749.91 L893.0,749.86 L894.0,749.80 L895.0,749.71 L896.0,749.59 L897.0,749.43 L898.0,749.22 L899.0,748.95 L900.0,748.61 L901.0,748.19 L902.0,747.69 L903.0,747.09 L904.0,746.41 L905.0,745.64 L906.0,744.80 L907.0,743.90 L908.0,742.97 L909.0,742.04 L910.0,741.14 L911.0,740.20 L912.0,739.20 L913.0,738.12 L914.0,736.97 L915.0,735.73 L916.0,734.41 L917.0,733.02 L918.0,731.54 L919.0,729.97 L920.0,728.33 L921.0,726.60 L922.0,724.80 L923.0,722.92 L924.0,720.96 L925.0,718.94 L926.0,716.85 L927.0,714.71 L928.0,712.52 L929.0,710.28 L930.0,708.00 L931.0,705.70 L932.0,703.38 L933.0,701.05 L934.0,698.72 L935.0,696.41 L936.0,694.13 L937.0,691.88 L938.0,689.68 L939.0,687.54 L940.0,685.48 L941.0,683.51 L942.0,681.63 L943.0,679.87 L944.0,678.22 L945.0,676.71 L946.0,675.34 L947.0,674.10 L948.0,672.91 L949.0,671.74 L950.0,670.61 L951.0,669.51 L952.0,668.44 L953.0,667.42 L954.0,666.43 L955.0,665.49 L956.0,664.58 L957.0,663.73 L958.0,662.91 L959.0,662.15 L960.0,661.43 L961.0,660.76 L962.0,660.15 L963.0,659.59 L964.0,659.08 L965.0,658.62 L966.0,658.22 L967.0,657.87 L968.0,657.59 L969.0,657.36 L970.0,657.18 L971.0,657.07 L972.0,657.01 L973.0,657.01 L974.0,657.07 L975.0,657.21 L976.0,657.40 L977.0,657.66 L978.0,657.99 L979.0,658.38 L980.0,658.83 L981.0,659.35 L982.0,659.92 L983.0,660.56 L984.0,661.25 L985.0,662.00 L986.0,662.81 L987.0,663.67 L988.0,664.58 L989.0,665.54 L990.0,666.55 L991.0,667.61 L992.0,668.71 L993.0,669.85 L994.0,671.03 L995.0,672.25 L996.0,673.51 L997.0,674.80 L998.0,676.11 L999.0,677.46 L1000.0,678.83 L1001.0,680.23 L1002.0,681.65 L1003.0,683.08 L1004.0,684.53 L1005.0,686.00 L1006.0,687.48 L1007.0,688.96 L1008.0,690.46 L1009.0,691.96 L1010.0,693.46 L1011.0,694.96 L1012.0,696.45 L1013.0,697.95 L1014.0,699.44 L1015.0,700.92 L1016.0,702.39 L1017.0,703.85 L1018.0,705.29 L1019.0,706.73 L1020.0,708.14 L1021.0,709.54 L1022.0,710.92 L1023.0,712.28 L1024.0,713.61 L1025.0,714.93 L1026.0,716.22 L1027.0,717.49 L1028.0,718.73 L1029.0,719.94 L1030.0,721.13 L1031.0,722.29 L1032.0,723.42 L1033.0,724.53 L1034.0,725.61 L1035.0,726.65 L1036.0,727.67 L1037.0,728.66 L1038.0,729.62 L1039.0,730.55 L1040.0,731.45 L1041.0,732.32 L1042.0,733.16 L1043.0,733.98 L1044.0,734.76 L1045.0,735.52 L1046.0,736.25 L1047.0,736.95 L1048.0,737.62 L1049.0,738.27 L1050.0,738.89 L1051.0,739.49 L1052.0,740.06 L1053.0,740.61 L1054.0,741.13 L1055.0,741.63 L1056.0,742.11 L1057.0,742.56 L1058.0,743.00 L1059.0,743.41 L1060.0,743.81 L1061.0,744.18 L1062.0,744.53 L1063.0,744.87 L1064.0,745.19 L1065.0,745.49 L1066.0,745.78 L1067.0,746.05 L1068.0,746.31 L1069.0,746.55 L1070.0,746.79 L1071.0,747.03 L1072.0,747.27 L1073.0,747.51 L1074.0,747.74 L1075.0,747.96 L1076.0,748.17 L1077.0,748.36 L1078.0,748.55 L1079.0,748.72 L1080.0,748.88 L1081.0,749.03 L1082.0,749.16 L1083.0,749.28 L1084.0,749.38 L1085.0,749.47 L1086.0,749.56 L1087.0,749.63 L1088.0,749.69 L1089.0,749.74 L1090.0,749.79 L1091.0,749.83 L1092.0,749.86 L1093.0,749.89 L1094.0,749.91 L1095.0,749.93 L1096.0,749.94 L1097.0,749.95 L1098.0,749.96 L1099.0,749.97 L1100.0,749.98 L1101.0,749.98 L1102.0,749.99 L1103.0,749.99 L1104.0,749.99 L1105.0,749.99 L1106.0,750.00 L1107.0,750.00 L1108.0,750.00 L1109.0,750.00 L1110.0,750.00 L1111.0,750.00 L1112.0,750.00 L1113.0,750.00 L1114.0,750.00 L1115.0,750.00 L1116.0,750.00 L1117.0,750.00 L1118.0,750.00 L1119.0,750.00 L1120.0,750.00 L1121.0,750.00 L1122.0,750.00 L1123.0,750.00 L1124.0,750.00 L1125.0,750.00 L1126.0,750.00 L1127.0,750.00 L1128.0,750.00 L1129.0,750.00 L1130.0,750.00 L1131.0,750.00 L1132.0,750.00 L1133.0,750.00 L1134.0,750.00 L1135.0,750.00 L1136.0,750.00 L1137.0,750.00 L1138.0,750.00 L1139.0,750.00 L1140.0,750.00 L1141.0,750.00 L1142.0,750.00 L1143.0,750.00 L1144.0,750.00 L1145.0,750.00 L1146.0,750.00 L1147.0,750.00 L1148.0,750.00 L1149.0,750.00 L1150.0,750.00 L1151.0,750.00 L1152.0,750.00 L1153.0,750.00 L1154.0,750.00 L1155.0,750.00 L1156.0,750.00 L1157.0,750.00 L1158.0,750.00 L1159.0,750.00 L1160.0,750.00 L1161.0,750.00 L1162.0,750.00 L1163.0,750.00 L1164.0,750.00 L1165.0,750.00 L1166.0,750.00 L1167.0,750.00 L1168.0,750.00 L1169.0,750.00 L1170.0,750.00 L1171.0,750.00 L1172.0,750.00 L1173.0,750.00 L1174.0,750.00 L1175.0,750.00 L1176.0,750.00 L1177.0,750.00 L1178.0,750.00 L1179.0,750.00 L1180.0,750.00 L1181.0,750.00 L1182.0,750.00 L1183.0,750.00 L1184.0,750.00 L1185.0,750.00 L1186.0,750.00 L1187.0,750.00 L1188.0,750.00 L1189.0,750.00 L1190.0,750.00 L1191.0,750.00 L1192.0,750.00 L1193.0,750.00 L1194.0,750.00 L1195.0,750.00 L1196.0,750.00 L1197.0,750.00 L1198.0,750.00 L1199.0,750.00 L1200.0,750.00 L1201.0,750.00 L1202.0,750.00 L1203.0,750.00 L1204.0,750.00 L1205.0,750.00 L1206.0,750.00 L1207.0,750.00 L1208.0,750.00 L1209.0,750.00 L1210.0,750.00 L1211.0,750.00 L1212.0,750.00 L1213.0,750.00 L1214.0,750.00 L1215.0,750.00 L1216.0,750.00 L1217.0,750.00 L1218.0,750.00 L1219.0,750.00 L1220.0,750.00 L1221.0,750.00 L1222.0,750.00 L1223.0,750.00 L1224.0,750.00 L1225.0,750.00 L1226.0,750.00 L1227.0,750.00 L1228.0,750.00 L1229.0,750.00 L1230.0,750.00 L1231.0,750.00 L1232.0,750.00 L1233.0,750.00 L1234.0,750.00 L1235.0,750.00 L1236.0,750.00 L1237.0,750.00 L1238.0,750.00 L1239.0,750.00 L1240.0,750.00 L1241.0,750.00 L1242.0,750.00 L1243.0,749.99 L1244.0,749.99 L1245.0,749.98 L1246.0,749.97 L1247.0,749.95 L1248.0,749.92 L1249.0,749.87 L1250.0,749.81 L1251.0,749.71 L1252.0,749.57 L1253.0,749.38 L1254.0,749.14 L1255.0,748.84 L1256.0,748.47 L1257.0,748.03 L1258.0,747.54 L1259.0,747.01 L1260.0,746.46 L1261.0,745.92 L1262.0,745.41 L1263.0,744.87 L1264.0,744.29 L1265.0,743.65 L1266.0,742.96 L1267.0,742.22 L1268.0,741.43 L1269.0,740.58 L1270.0,739.67 L1271.0,738.71 L1272.0,737.70 L1273.0,736.63 L1274.0,735.51 L1275.0,734.33 L1276.0,733.11 L1277.0,731.85 L1278.0,730.54 L1279.0,729.20 L1280.0,727.83 L1281.0,726.43 L1282.0,725.01 L1283.0,723.58 L1284.0,722.15 L1285.0,720.72 L1286.0,719.31 L1287.0,717.91 L1288.0,716.55 L1289.0,715.22 L1290.0,713.94 L1291.0,712.66 L1292.0,711.35 L1293.0,710.03 L1294.0,708.69 L1295.0,707.34 L1296.0,705.97 L1297.0,704.59 L1298.0,703.19 L1299.0,701.79 L1300.0,700.38 L1301.0,698.97 L1302.0,697.55 L1303.0,696.12 L1304.0,694.70 L1305.0,693.28 L1306.0,691.86 L1307.0,690.45 L1308.0,689.04 L1309.0,687.64 L1310.0,686.26 L1311.0,684.89 L1312.0,683.53 L1313.0,682.20 L1314.0,680.88 L1315.0,679.59 L1316.0,678.32 L1317.0,677.08 L1318.0,675.87 L1319.0,674.69 L1320.0,673.54 L1321.0,672.43 L1322.0,671.36 L1323.0,670.33 L1324.0,669.34 L1325.0,668.39 L1326.0,667.49 L1327.0,666.64 L1328.0,665.83 L1329.0,665.08 L1330.0,664.38 L1331.0,663.73 L1332.0,663.13 L1333.0,662.59 L1334.0,662.11 L1335.0,661.69 L1336.0,661.33 L1337.0,661.02 L1338.0,660.78 L1339.0,660.59 L1340.0,660.47 L1341.0,660.41 L1342.0,660.41 L1343.0,660.47 L1344.0,660.59 L1345.0,660.77 L1346.0,661.01 L1347.0,661.30 L1348.0,661.66 L1349.0,662.07 L1350.0,662.54 L1351.0,663.07 L1352.0,663.65 L1353.0,664.28 L1354.0,664.97 L1355.0,665.71 L1356.0,666.50 L1357.0,667.33 L1358.0,668.21 L1359.0,669.14 L1360.0,670.11 L1361.0,671.12 L1362.0,672.17 L1363.0,673.26 L1364.0,674.38 L1365.0,675.54 L1366.0,676.73 L1367.0,677.95 L1368.0,679.19 L1369.0,680.46 L1370.0,681.75 L1371.0,683.07 L1372.0,684.40 L1373.0,685.75 L1374.0,687.11 L1375.0,688.49 L1376.0,689.87 L1377.0,691.27 L1378.0,692.67 L1379.0,694.07 L1380.0,695.48 L1381.0,696.89 L1382.0,698.29 L1383.0,699.69 L1384.0,701.09 L1385.0,702.48 L1386.0,703.86 L1387.0,705.23 L1388.0,706.59 L1389.0,707.94 L1390.0,709.27 L1391.0,710.58 L1392.0,711.88 L1393.0,713.16 L1394.0,714.45 L1395.0,715.79 L1396.0,717.19 L1397.0,718.63 L1398.0,720.10 L1399.0,721.60 L1400.0,723.11 L1401.0,724.61 L1402.0,726.11 L1403.0,727.59 L1404.0,729.05 L1405.0,730.48 L1406.0,731.86 L1407.0,733.20 L1408.0,734.50 L1409.0,735.73 L1410.0,736.91 L1411.0,738.04 L1412.0,739.10 L1413.0,740.09 L1414.0,741.03 L1415.0,741.90 L1416.0,742.71 L1417.0,743.46 L1418.0,744.15 L1419.0,744.79 L1420.0,745.37 L1421.0,745.90 L1422.0,746.38 L1423.0,746.82 L1424.0,747.21 L1425.0,747.56 L1426.0,747.87 L1427.0,748.15 L1428.0,748.40 L1429.0,748.62 L1430.0,748.81 L1431.0,748.98 L1432.0,749.13 L1433.0,749.26 L1434.0,749.37 L1435.0,749.46 L1436.0,749.55 L1437.0,749.62 L1438.0,749.68 L1439.0,749.73 L1440.0,749.78 L1441.0,749.82 L1442.0,749.85 L1443.0,749.87 L1444.0,749.90 L1445.0,749.91 L1446.0,749.93 L1447.0,749.94 L1448.0,749.95 L1449.0,749.96 L1450.0,749.97 L1451.0,749.97 L1452.0,749.98 L1453.0,749.98 L1454.0,749.98 L1455.0,749.98 L1456.0,749.98 L1457.0,749.98 L1458.0,749.98 L1459.0,749.97 L1460.0,749.97 L1461.0,749.96 L1462.0,749.95 L1463.0,749.94 L1464.0,749.92 L1465.0,749.90 L1466.0,749.87 L1467.0,749.84 L1468.0,749.80 L1469.0,749.75 L1470.0,749.69 L1471.0,749.61 L1472.0,749.52 L1473.0,749.41 L1474.0,749.28 L1475.0,749.13 L1476.0,748.94 L1477.0,748.72 L1478.0,748.46 L1479.0,748.16 L1480.0,747.81 L1481.0,747.40 L1482.0,746.92 L1483.0,746.37 L1484.0,745.75 L1485.0,745.04 L1486.0,744.23 L1487.0,743.31 L1488.0,742.29 L1489.0,741.14 L1490.0,739.87 L1491.0,738.46 L1492.0,736.91 L1493.0,735.22 L1494.0,733.37 L1495.0,731.37 L1496.0,729.22 L1497.0,726.92 L1498.0,724.46 L1499.0,721.86 L1500.0,719.13 L1501.0,716.27 L1502.0,713.30 L1503.0,710.23 L1504.0,707.08 L1505.0,703.88 L1506.0,700.64 L1507.0,697.40 L1508.0,694.17 L1509.0,690.99 L1510.0,687.89 L1511.0,684.90 L1512.0,682.05 L1513.0,679.28 L1514.0,676.49 L1515.0,673.67 L1516.0,670.83 L1517.0,667.97 L1518.0,665.10 L1519.0,662.23 L1520.0,659.36 L1521.0,656.50 L1522.0,653.66 L1523.0,650.83 L1524.0,648.04 L1525.0,645.29 L1526.0,642.57 L1527.0,639.91 L1528.0,637.31 L1529.0,634.77 L1530.0,632.30 L1531.0,629.91 L1532.0,627.61 L1533.0,625.40 L1534.0,623.29 L1535.0,621.28 L1536.0,619.39 L1537.0,617.61 L1538.0,615.96 L1539.0,614.44 L1540.0,613.05 L1541.0,611.79 L1542.0,610.68 L1543.0,609.71 L1544.0,608.90 L1545.0,608.23 L1546.0,607.71 L1547.0,607.35 L1548.0,607.15 L1549.0,607.10 L1550.0,607.20 L1551.0,607.44 L1552.0,607.83 L1553.0,608.35 L1554.0,609.01 L1555.0,609.80 L1556.0,610.74 L1557.0,611.80 L1558.0,612.99 L1559.0,614.30 L1560.0,615.74 L1561.0,617.29 L1562.0,618.96 L1563.0,620.73 L1564.0,622.60 L1565.0,624.58 L1566.0,626.64 L1567.0,628.79 L1568.0,631.02 L1569.0,633.33 L1570.0,635.71 L1571.0,638.15 L1572.0,640.64 L1573.0,643.19 L1574.0,645.78 L1575.0,648.41 L1576.0,651.07 L1577.0,653.76 L1578.0,656.46 L1579.0,659.19 L1580.0,661.91 L1581.0,664.65 L1582.0,667.38 L1583.0,670.10 L1584.0,672.81 L1585.0,675.50 L1586.0,678.17 L1587.0,680.81 L1588.0,683.42 L1589.0,686.00 L1590.0,688.61 L1591.0,691.41 L1592.0,694.35 L1593.0,697.41 L1594.0,700.54 L1595.0,703.72 L1596.0,706.91 L1597.0,710.08 L1598.0,713.20 L1599.0,716.25 L1600.0,719.19 L1601.0,722.02 L1602.0,724.71 L1603.0,727.26 L1604.0,729.66 L1605.0,731.89 L1606.0,733.95 L1607.0,735.86 L1608.0,737.59 L1609.0,739.17 L1610.0,740.60 L1611.0,741.87 L1612.0,743.01 L1613.0,744.02 L1614.0,744.91 L1615.0,745.69 L1616.0,746.37 L1617.0,746.95 L1618.0,747.46 L1619.0,747.89 L1620.0,748.25 L1621.0,748.56 L1622.0,748.83 L1623.0,749.04 L1624.0,749.23 L1625.0,749.38 L1626.0,749.50 L1627.0,749.60 L1628.0,749.68 L1629.0,749.75 L1630.0,749.80 L1631.0,749.85 L1632.0,749.88 L1633.0,749.91 L1634.0,749.93 L1635.0,749.95 L1636.0,749.96 L1637.0,749.97 L1638.0,749.98 L1639.0,749.98 L1640.0,749.99 L1641.0,749.99 L1642.0,749.99 L1643.0,749.99 L1644.0,750.00 L1645.0,750.00 L1646.0,750.00 L1647.0,750.00 L1648.0,750.00 L1649.0,750.00 L1650.0,750.00 L1651.0,750.00 L1652.0,750.00 L1653.0,750.00 L1654.0,750.00 L1655.0,750.00 L1656.0,750.00 L1657.0,750.00 L1658.0,750.00 L1659.0,750.00 L1660.0,750.00 L1661.0,750.00 L1662.0,750.00 L1663.0,750.00 L1664.0,750.00 L1665.0,750.00 L1666.0,750.00"/><path d="M790.0,750.00 L791.0,750.00 L792.0,750.00 L793.0,750.00 L794.0,750.00 L795.0,750.00 L796.0,750.00 L797.0,750.00 L798.0,750.00 L799.0,750.00 L800.0,750.00 L801.0,750.00 L802.0,750.00 L803.0,750.00 L804.0,750.00 L805.0,750.00 L806.0,750.00 L807.0,750.00 L808.0,750.00 L809.0,750.00 L810.0,750.00 L811.0,750.00 L812.0,750.00 L813.0,750.00 L814.0,750.00 L815.0,750.00 L816.0,750.00 L817.0,750.00 L818.0,750.00 L819.0,750.00 L820.0,750.00 L821.0,750.00 L822.0,750.00 L823.0,750.00 L824.0,750.00 L825.0,750.00 L826.0,750.00 L827.0,750.00 L828.0,750.00 L829.0,750.00 L830.0,750.00 L831.0,750.00 L832.0,750.00 L833.0,750.00 L834.0,750.00 L835.0,750.00 L836.0,750.00 L837.0,750.00 L838.0,750.00 L839.0,750.00 L840.0,750.00 L841.0,750.00 L842.0,750.00 L843.0,750.00 L844.0,750.00 L845.0,750.00 L846.0,750.00 L847.0,750.00 L848.0,750.00 L849.0,750.00 L850.0,750.00 L851.0,750.00 L852.0,750.00 L853.0,750.00 L854.0,750.00 L855.0,750.00 L856.0,750.00 L857.0,750.00 L858.0,750.00 L859.0,750.00 L860.0,750.00 L861.0,750.00 L862.0,750.00 L863.0,750.00 L864.0,750.00 L865.0,750.00 L866.0,750.00 L867.0,750.00 L868.0,750.00 L869.0,750.00 L870.0,750.00 L871.0,750.00 L872.0,750.00 L873.0,750.00 L874.0,750.00 L875.0,750.00 L876.0,750.00 L877.0,750.00 L878.0,750.00 L879.0,750.00 L880.0,750.00 L881.0,750.00 L882.0,750.00 L883.0,749.99 L884.0,749.99 L885.0,749.98 L886.0,749.97 L887.0,749.95 L888.0,749.93 L889.0,749.89 L890.0,749.83 L891.0,749.75 L892.0,749.64 L893.0,749.48 L894.0,749.26 L895.0,748.97 L896.0,748.59 L897.0,748.10 L898.0,747.48 L899.0,746.72 L900.0,745.80 L901.0,744.71 L902.0,743.44 L903.0,742.01 L904.0,740.43 L905.0,738.73 L906.0,736.94 L907.0,735.13 L908.0,733.34 L909.0,731.59 L910.0,729.71 L911.0,727.68 L912.0,725.51 L913.0,723.20 L914.0,720.72 L915.0,718.09 L916.0,715.31 L917.0,712.37 L918.0,709.26 L919.0,706.01 L920.0,702.60 L921.0,699.04 L922.0,695.33 L923.0,691.49 L924.0,687.53 L925.0,683.44 L926.0,679.25 L927.0,674.96 L928.0,670.59 L929.0,666.16 L930.0,661.68 L931.0,657.17 L932.0,652.65 L933.0,648.14 L934.0,643.67 L935.0,639.25 L936.0,634.90 L937.0,630.66 L938.0,626.53 L939.0,622.56 L940.0,618.75 L941.0,615.14 L942.0,611.73 L943.0,608.57 L944.0,605.65 L945.0,603.01 L946.0,600.62 L947.0,598.30 L948.0,596.04 L949.0,593.85 L950.0,591.71 L951.0,589.65 L952.0,587.66 L953.0,585.74 L954.0,583.90 L955.0,582.15 L956.0,580.47 L957.0,578.89 L958.0,577.39 L959.0,575.99 L960.0,574.68 L961.0,573.47 L962.0,572.37 L963.0,571.36 L964.0,570.45 L965.0,569.65 L966.0,568.96 L967.0,568.38 L968.0,567.90 L969.0,567.54 L970.0,567.28 L971.0,567.14 L972.0,567.10 L973.0,567.19 L974.0,567.40 L975.0,567.74 L976.0,568.21 L977.0,568.80 L978.0,569.51 L979.0,570.34 L980.0,571.29 L981.0,572.35 L982.0,573.54 L983.0,574.83 L984.0,576.24 L985.0,577.75 L986.0,579.37 L987.0,581.09 L988.0,582.91 L989.0,584.82 L990.0,586.82 L991.0,588.91 L992.0,591.08 L993.0,593.33 L994.0,595.65 L995.0,598.05 L996.0,600.51 L997.0,603.03 L998.0,605.61 L999.0,608.24 L1000.0,610.92 L1001.0,613.64 L1002.0,616.40 L1003.0,619.20 L1004.0,622.02 L1005.0,624.87 L1006.0,627.74 L1007.0,630.63 L1008.0,633.53 L1009.0,636.44 L1010.0,639.35 L1011.0,642.26 L1012.0,645.16 L1013.0,648.06 L1014.0,650.95 L1015.0,653.82 L1016.0,656.67 L1017.0,659.50 L1018.0,662.30 L1019.0,665.08 L1020.0,667.82 L1021.0,670.53 L1022.0,673.21 L1023.0,675.84 L1024.0,678.44 L1025.0,680.99 L1026.0,683.50 L1027.0,685.95 L1028.0,688.36 L1029.0,690.73 L1030.0,693.03 L1031.0,695.29 L1032.0,697.50 L1033.0,699.65 L1034.0,701.74 L1035.0,703.78 L1036.0,705.76 L1037.0,707.69 L1038.0,709.56 L1039.0,711.38 L1040.0,713.14 L1041.0,714.84 L1042.0,716.49 L1043.0,718.08 L1044.0,719.62 L1045.0,721.11 L1046.0,722.54 L1047.0,723.91 L1048.0,725.24 L1049.0,726.51 L1050.0,727.74 L1051.0,728.91 L1052.0,730.04 L1053.0,731.12 L1054.0,732.15 L1055.0,733.14 L1056.0,734.08 L1057.0,734.98 L1058.0,735.85 L1059.0,736.67 L1060.0,737.45 L1061.0,738.19 L1062.0,738.90 L1063.0,739.57 L1064.0,740.21 L1065.0,740.82 L1066.0,741.39 L1067.0,741.93 L1068.0,742.45 L1069.0,742.93 L1070.0,743.40 L1071.0,743.86 L1072.0,744.33 L1073.0,744.79 L1074.0,745.25 L1075.0,745.69 L1076.0,746.11 L1077.0,746.51 L1078.0,746.89 L1079.0,747.24 L1080.0,747.57 L1081.0,747.87 L1082.0,748.15 L1083.0,748.39 L1084.0,748.62 L1085.0,748.82 L1086.0,749.00 L1087.0,749.15 L1088.0,749.29 L1089.0,749.40 L1090.0,749.50 L1091.0,749.59 L1092.0,749.66 L1093.0,749.73 L1094.0,749.78 L1095.0,749.82 L1096.0,749.86 L1097.0,749.89 L1098.0,749.91 L1099.0,749.93 L1100.0,749.94 L1101.0,749.96 L1102.0,749.97 L1103.0,749.97 L1104.0,749.98 L1105.0,749.99 L1106.0,749.99 L1107.0,749.99 L1108.0,749.99 L1109.0,750.00 L1110.0,750.00 L1111.0,750.00 L1112.0,750.00 L1113.0,750.00 L1114.0,750.00 L1115.0,750.00 L1116.0,750.00 L1117.0,750.00 L1118.0,750.00 L1119.0,750.00 L1120.0,750.00 L1121.0,750.00 L1122.0,750.00 L1123.0,750.00 L1124.0,750.00 L1125.0,750.00 L1126.0,750.00 L1127.0,750.00 L1128.0,750.00 L1129.0,750.00 L1130.0,750.00 L1131.0,750.00 L1132.0,750.00 L1133.0,750.00 L1134.0,750.00 L1135.0,750.00 L1136.0,750.00 L1137.0,750.00 L1138.0,750.00 L1139.0,750.00 L1140.0,750.00 L1141.0,750.00 L1142.0,750.00 L1143.0,750.00 L1144.0,750.00 L1145.0,750.00 L1146.0,750.00 L1147.0,750.00 L1148.0,750.00 L1149.0,750.00 L1150.0,750.00 L1151.0,750.00 L1152.0,750.00 L1153.0,750.00 L1154.0,750.00 L1155.0,750.00 L1156.0,750.00 L1157.0,750.00 L1158.0,750.00 L1159.0,750.00 L1160.0,750.00 L1161.0,750.00 L1162.0,750.00 L1163.0,750.00 L1164.0,750.00 L1165.0,750.00 L1166.0,750.00 L1167.0,750.00 L1168.0,750.00 L1169.0,750.00 L1170.0,750.00 L1171.0,750.00 L1172.0,750.00 L1173.0,750.00 L1174.0,750.00 L1175.0,750.00 L1176.0,750.00 L1177.0,750.00 L1178.0,750.00 L1179.0,750.00 L1180.0,750.00 L1181.0,750.00 L1182.0,750.00 L1183.0,750.00 L1184.0,750.00 L1185.0,750.00 L1186.0,750.00 L1187.0,750.00 L1188.0,750.00 L1189.0,750.00 L1190.0,750.00 L1191.0,750.00 L1192.0,750.00 L1193.0,750.00 L1194.0,750.00 L1195.0,750.00 L1196.0,750.00 L1197.0,750.00 L1198.0,750.00 L1199.0,750.00 L1200.0,750.00 L1201.0,750.00 L1202.0,750.00 L1203.0,750.00 L1204.0,750.00 L1205.0,750.00 L1206.0,750.00 L1207.0,750.00 L1208.0,750.00 L1209.0,750.00 L1210.0,750.00 L1211.0,750.00 L1212.0,750.00 L1213.0,750.00 L1214.0,750.00 L1215.0,750.00 L1216.0,750.00 L1217.0,750.00 L1218.0,750.00 L1219.0,750.00 L1220.0,750.00 L1221.0,750.00 L1222.0,750.00 L1223.0,750.00 L1224.0,750.00 L1225.0,750.00 L1226.0,750.00 L1227.0,750.00 L1228.0,750.00 L1229.0,750.00 L1230.0,750.00 L1231.0,750.00 L1232.0,750.00 L1233.0,750.00 L1234.0,750.00 L1235.0,750.00 L1236.0,750.00 L1237.0,750.00 L1238.0,750.00 L1239.0,750.00 L1240.0,750.00 L1241.0,750.00 L1242.0,750.00 L1243.0,749.99 L1244.0,749.98 L1245.0,749.97 L1246.0,749.95 L1247.0,749.92 L1248.0,749.87 L1249.0,749.80 L1250.0,749.68 L1251.0,749.52 L1252.0,749.29 L1253.0,748.99 L1254.0,748.58 L1255.0,748.05 L1256.0,747.41 L1257.0,746.63 L1258.0,745.72 L1259.0,744.70 L1260.0,743.61 L1261.0,742.48 L1262.0,741.37 L1263.0,740.32 L1264.0,739.22 L1265.0,738.03 L1266.0,736.74 L1267.0,735.35 L1268.0,733.86 L1269.0,732.26 L1270.0,730.55 L1271.0,728.74 L1272.0,726.81 L1273.0,724.77 L1274.0,722.62 L1275.0,720.37 L1276.0,718.02 L1277.0,715.56 L1278.0,713.02 L1279.0,710.39 L1280.0,707.68 L1281.0,704.90 L1282.0,702.06 L1283.0,699.18 L1284.0,696.26 L1285.0,693.32 L1286.0,690.37 L1287.0,687.43 L1288.0,684.51 L1289.0,681.64 L1290.0,678.82 L1291.0,676.08 L1292.0,673.43 L1293.0,670.79 L1294.0,668.12 L1295.0,665.41 L1296.0,662.66 L1297.0,659.89 L1298.0,657.08 L1299.0,654.25 L1300.0,651.39 L1301.0,648.52 L1302.0,645.62 L1303.0,642.71 L1304.0,639.79 L1305.0,636.87 L1306.0,633.94 L1307.0,631.01 L1308.0,628.08 L1309.0,625.16 L1310.0,622.25 L1311.0,619.36 L1312.0,616.49 L1313.0,613.64 L1314.0,610.82 L1315.0,608.03 L1316.0,605.27 L1317.0,602.56 L1318.0,599.89 L1319.0,597.27 L1320.0,594.70 L1321.0,592.19 L1322.0,589.75 L1323.0,587.36 L1324.0,585.05 L1325.0,582.81 L1326.0,580.65 L1327.0,578.57 L1328.0,576.57 L1329.0,574.66 L1330.0,572.85 L1331.0,571.13 L1332.0,569.50 L1333.0,567.98 L1334.0,566.56 L1335.0,565.25 L1336.0,564.05 L1337.0,562.96 L1338.0,561.98 L1339.0,561.12 L1340.0,560.37 L1341.0,559.74 L1342.0,559.23 L1343.0,558.84 L1344.0,558.58 L1345.0,558.43 L1346.0,558.41 L1347.0,558.50 L1348.0,558.71 L1349.0,559.05 L1350.0,559.50 L1351.0,560.06 L1352.0,560.75 L1353.0,561.55 L1354.0,562.46 L1355.0,563.48 L1356.0,564.61 L1357.0,565.85 L1358.0,567.20 L1359.0,568.64 L1360.0,570.19 L1361.0,571.84 L1362.0,573.58 L1363.0,575.41 L1364.0,577.33 L1365.0,579.33 L1366.0,581.42 L1367.0,583.58 L1368.0,585.82 L1369.0,588.13 L1370.0,590.51 L1371.0,592.95 L1372.0,595.44 L1373.0,598.00 L1374.0,600.60 L1375.0,603.25 L1376.0,605.94 L1377.0,608.67 L1378.0,611.43 L1379.0,614.23 L1380.0,617.05 L1381.0,619.89 L1382.0,622.75 L1383.0,625.63 L1384.0,628.52 L1385.0,631.41 L1386.0,634.31 L1387.0,637.20 L1388.0,640.09 L1389.0,642.98 L1390.0,645.85 L1391.0,648.71 L1392.0,651.55 L1393.0,654.37 L1394.0,657.17 L1395.0,659.94 L1396.0,662.68 L1397.0,665.40 L1398.0,668.08 L1399.0,670.72 L1400.0,673.35 L1401.0,676.08 L1402.0,678.93 L1403.0,681.87 L1404.0,684.89 L1405.0,687.95 L1406.0,691.04 L1407.0,694.15 L1408.0,697.25 L1409.0,700.32 L1410.0,703.35 L1411.0,706.33 L1412.0,709.23 L1413.0,712.06 L1414.0,714.79 L1415.0,717.43 L1416.0,719.95 L1417.0,722.36 L1418.0,724.66 L1419.0,726.83 L1420.0,728.88 L1421.0,730.80 L1422.0,732.60 L1423.0,734.28 L1424.0,735.84 L1425.0,737.28 L1426.0,738.61 L1427.0,739.82 L1428.0,740.94 L1429.0,741.96 L1430.0,742.88 L1431.0,743.72 L1432.0,744.47 L1433.0,745.15 L1434.0,745.76 L1435.0,746.30 L1436.0,746.78 L1437.0,747.21 L1438.0,747.59 L1439.0,747.92 L1440.0,748.22 L1441.0,748.47 L1442.0,748.69 L1443.0,748.89 L1444.0,749.05 L1445.0,749.20 L1446.0,749.32 L1447.0,749.43 L1448.0,749.52 L1449.0,749.60 L1450.0,749.66 L1451.0,749.72 L1452.0,749.76 L1453.0,749.80 L1454.0,749.83 L1455.0,749.85 L1456.0,749.87 L1457.0,749.89 L1458.0,749.89 L1459.0,749.90 L1460.0,749.89 L1461.0,749.89 L1462.0,749.87 L1463.0,749.85 L1464.0,749.83 L1465.0,749.79 L1466.0,749.75 L1467.0,749.70 L1468.0,749.63 L1469.0,749.55 L1470.0,749.45 L1471.0,749.33 L1472.0,749.18 L1473.0,749.01 L1474.0,748.80 L1475.0,748.56 L1476.0,748.27 L1477.0,747.93 L1478.0,747.54 L1479.0,747.09 L1480.0,746.56 L1481.0,745.96 L1482.0,745.26 L1483.0,744.47 L1484.0,743.57 L1485.0,742.55 L1486.0,741.40 L1487.0,740.12 L1488.0,738.69 L1489.0,737.10 L1490.0,735.34 L1491.0,733.40 L1492.0,731.29 L1493.0,728.98 L1494.0,726.48 L1495.0,723.78 L1496.0,720.89 L1497.0,717.80 L1498.0,714.52 L1499.0,711.06 L1500.0,707.42 L1501.0,703.62 L1502.0,699.68 L1503.0,695.60 L1504.0,691.43 L1505.0,687.18 L1506.0,682.87 L1507.0,678.55 L1508.0,674.24 L1509.0,669.97 L1510.0,665.79 L1511.0,661.74 L1512.0,657.84 L1513.0,654.12 L1514.0,650.42 L1515.0,646.69 L1516.0,642.92 L1517.0,639.12 L1518.0,635.31 L1519.0,631.49 L1520.0,627.66 L1521.0,623.84 L1522.0,620.03 L1523.0,616.24 L1524.0,612.49 L1525.0,608.77 L1526.0,605.09 L1527.0,601.47 L1528.0,597.92 L1529.0,594.44 L1530.0,591.04 L1531.0,587.73 L1532.0,584.52 L1533.0,581.41 L1534.0,578.43 L1535.0,575.56 L1536.0,572.83 L1537.0,570.24 L1538.0,567.80 L1539.0,565.51 L1540.0,563.38 L1541.0,561.42 L1542.0,559.63 L1543.0,558.02 L1544.0,556.59 L1545.0,555.35 L1546.0,554.30 L1547.0,553.45 L1548.0,552.79 L1549.0,552.33 L1550.0,552.06 L1551.0,552.00 L1552.0,552.13 L1553.0,552.44 L1554.0,552.93 L1555.0,553.60 L1556.0,554.45 L1557.0,555.47 L1558.0,556.66 L1559.0,558.03 L1560.0,559.55 L1561.0,561.25 L1562.0,563.09 L1563.0,565.09 L1564.0,567.24 L1565.0,569.53 L1566.0,571.95 L1567.0,574.50 L1568.0,577.17 L1569.0,579.96 L1570.0,582.86 L1571.0,585.86 L1572.0,588.95 L1573.0,592.13 L1574.0,595.39 L1575.0,598.73 L1576.0,602.12 L1577.0,605.57 L1578.0,609.08 L1579.0,612.62 L1580.0,616.20 L1581.0,619.80 L1582.0,623.42 L1583.0,627.06 L1584.0,630.70 L1585.0,634.34 L1586.0,637.97 L1587.0,641.59 L1588.0,645.18 L1589.0,648.75 L1590.0,652.29 L1591.0,655.79 L1592.0,659.25 L1593.0,662.67 L1594.0,666.24 L1595.0,670.03 L1596.0,674.00 L1597.0,678.11 L1598.0,682.30 L1599.0,686.54 L1600.0,690.79 L1601.0,695.01 L1602.0,699.16 L1603.0,703.22 L1604.0,707.15 L1605.0,710.92 L1606.0,714.53 L1607.0,717.96 L1608.0,721.18 L1609.0,724.20 L1610.0,727.01 L1611.0,729.61 L1612.0,731.99 L1613.0,734.18 L1614.0,736.16 L1615.0,737.94 L1616.0,739.55 L1617.0,740.98 L1618.0,742.25 L1619.0,743.38 L1620.0,744.36 L1621.0,745.22 L1622.0,745.97 L1623.0,746.62 L1624.0,747.18 L1625.0,747.65 L1626.0,748.06 L1627.0,748.40 L1628.0,748.69 L1629.0,748.93 L1630.0,749.13 L1631.0,749.29 L1632.0,749.43 L1633.0,749.54 L1634.0,749.64 L1635.0,749.71 L1636.0,749.77 L1637.0,749.82 L1638.0,749.86 L1639.0,749.89 L1640.0,749.91 L1641.0,749.93 L1642.0,749.95 L1643.0,749.96 L1644.0,749.97 L1645.0,749.98 L1646.0,749.98 L1647.0,749.99 L1648.0,749.99 L1649.0,749.99 L1650.0,749.99 L1651.0,750.00 L1652.0,750.00 L1653.0,750.00 L1654.0,750.00 L1655.0,750.00 L1656.0,750.00 L1657.0,750.00 L1658.0,750.00 L1659.0,750.00 L1660.0,750.00 L1661.0,750.00 L1662.0,750.00 L1663.0,750.00 L1664.0,750.00 L1665.0,750.00 L1666.0,750.00"/><path d="M790.0,750.00 L791.0,750.00 L792.0,750.00 L793.0,750.00 L794.0,750.00 L795.0,750.00 L796.0,750.00 L797.0,750.00 L798.0,750.00 L799.0,750.00 L800.0,750.00 L801.0,750.00 L802.0,750.00 L803.0,750.00 L804.0,750.00 L805.0,750.00 L806.0,750.00 L807.0,750.00 L808.0,750.00 L809.0,750.00 L810.0,750.00 L811.0,750.00 L812.0,750.00 L813.0,750.00 L814.0,750.00 L815.0,750.00 L816.0,750.00 L817.0,750.00 L818.0,750.00 L819.0,750.00 L820.0,750.00 L821.0,750.00 L822.0,750.00 L823.0,750.00 L824.0,750.00 L825.0,750.00 L826.0,750.00 L827.0,750.00 L828.0,750.00 L829.0,750.00 L830.0,750.00 L831.0,750.00 L832.0,750.00 L833.0,750.00 L834.0,750.00 L835.0,750.00 L836.0,750.00 L837.0,750.00 L838.0,750.00 L839.0,750.00 L840.0,750.00 L841.0,750.00 L842.0,750.00 L843.0,750.00 L844.0,750.00 L845.0,750.00 L846.0,750.00 L847.0,750.00 L848.0,750.00 L849.0,750.00 L850.0,750.00 L851.0,750.00 L852.0,750.00 L853.0,750.00 L854.0,750.00 L855.0,750.00 L856.0,750.00 L857.0,750.00 L858.0,750.00 L859.0,750.00 L860.0,750.00 L861.0,750.00 L862.0,750.00 L863.0,750.00 L864.0,750.00 L865.0,750.00 L866.0,750.00 L867.0,750.00 L868.0,750.00 L869.0,750.00 L870.0,750.00 L871.0,750.00 L872.0,750.00 L873.0,750.00 L874.0,750.00 L875.0,750.00 L876.0,750.00 L877.0,750.00 L878.0,750.00 L879.0,750.00 L880.0,750.00 L881.0,750.00 L882.0,749.99 L883.0,749.99 L884.0,749.98 L885.0,749.97 L886.0,749.95 L887.0,749.92 L888.0,749.87 L889.0,749.81 L890.0,749.71 L891.0,749.58 L892.0,749.39 L893.0,749.13 L894.0,748.78 L895.0,748.32 L896.0,747.72 L897.0,746.96 L898.0,746.01 L899.0,744.86 L900.0,743.47 L901.0,741.85 L902.0,740.00 L903.0,737.92 L904.0,735.66 L905.0,733.25 L906.0,730.76 L907.0,728.26 L908.0,725.83 L909.0,723.34 L910.0,720.67 L911.0,717.79 L912.0,714.71 L913.0,711.43 L914.0,707.93 L915.0,704.22 L916.0,700.29 L917.0,696.15 L918.0,691.79 L919.0,687.21 L920.0,682.43 L921.0,677.44 L922.0,672.27 L923.0,666.90 L924.0,661.37 L925.0,655.68 L926.0,649.84 L927.0,643.89 L928.0,637.83 L929.0,631.68 L930.0,625.48 L931.0,619.25 L932.0,613.01 L933.0,606.79 L934.0,600.62 L935.0,594.54 L936.0,588.57 L937.0,582.74 L938.0,577.09 L939.0,571.65 L940.0,566.44 L941.0,561.51 L942.0,556.87 L943.0,552.56 L944.0,548.60 L945.0,545.03 L946.0,541.75 L947.0,538.57 L948.0,535.46 L949.0,532.44 L950.0,529.51 L951.0,526.67 L952.0,523.93 L953.0,521.30 L954.0,518.77 L955.0,516.36 L956.0,514.06 L957.0,511.88 L958.0,509.83 L959.0,507.90 L960.0,506.11 L961.0,504.45 L962.0,502.93 L963.0,501.54 L964.0,500.30 L965.0,499.21 L966.0,498.25 L967.0,497.45 L968.0,496.80 L969.0,496.30 L970.0,495.95 L971.0,495.75 L972.0,495.70 L973.0,495.82 L974.0,496.12 L975.0,496.58 L976.0,497.22 L977.0,498.03 L978.0,499.00 L979.0,500.14 L980.0,501.45 L981.0,502.91 L982.0,504.53 L983.0,506.31 L984.0,508.24 L985.0,510.32 L986.0,512.54 L987.0,514.90 L988.0,517.40 L989.0,520.03 L990.0,522.78 L991.0,525.65 L992.0,528.63 L993.0,531.72 L994.0,534.92 L995.0,538.21 L996.0,541.60 L997.0,545.07 L998.0,548.62 L999.0,552.24 L1000.0,555.93 L1001.0,559.68 L1002.0,563.48 L1003.0,567.33 L1004.0,571.23 L1005.0,575.16 L1006.0,579.12 L1007.0,583.10 L1008.0,587.10 L1009.0,591.11 L1010.0,595.13 L1011.0,599.15 L1012.0,603.17 L1013.0,607.18 L1014.0,611.17 L1015.0,615.14 L1016.0,619.09 L1017.0,623.01 L1018.0,626.89 L1019.0,630.74 L1020.0,634.54 L1021.0,638.30 L1022.0,642.01 L1023.0,645.67 L1024.0,649.27 L1025.0,652.82 L1026.0,656.30 L1027.0,659.72 L1028.0,663.07 L1029.0,666.36 L1030.0,669.58 L1031.0,672.72 L1032.0,675.80 L1033.0,678.80 L1034.0,681.72 L1035.0,684.57 L1036.0,687.34 L1037.0,690.04 L1038.0,692.66 L1039.0,695.20 L1040.0,697.66 L1041.0,700.05 L1042.0,702.36 L1043.0,704.60 L1044.0,706.76 L1045.0,708.84 L1046.0,710.85 L1047.0,712.79 L1048.0,714.66 L1049.0,716.45 L1050.0,718.18 L1051.0,719.84 L1052.0,721.43 L1053.0,722.95 L1054.0,724.41 L1055.0,725.81 L1056.0,727.15 L1057.0,728.43 L1058.0,729.65 L1059.0,730.81 L1060.0,731.92 L1061.0,732.98 L1062.0,733.99 L1063.0,734.95 L1064.0,735.86 L1065.0,736.72 L1066.0,737.54 L1067.0,738.32 L1068.0,739.05 L1069.0,739.75 L1070.0,740.41 L1071.0,741.05 L1072.0,741.69 L1073.0,742.33 L1074.0,742.97 L1075.0,743.59 L1076.0,744.19 L1077.0,744.76 L1078.0,745.31 L1079.0,745.82 L1080.0,746.30 L1081.0,746.74 L1082.0,747.15 L1083.0,747.52 L1084.0,747.85 L1085.0,748.15 L1086.0,748.42 L1087.0,748.66 L1088.0,748.87 L1089.0,749.05 L1090.0,749.20 L1091.0,749.34 L1092.0,749.45 L1093.0,749.55 L1094.0,749.63 L1095.0,749.70 L1096.0,749.76 L1097.0,749.81 L1098.0,749.85 L1099.0,749.88 L1100.0,749.90 L1101.0,749.93 L1102.0,749.94 L1103.0,749.96 L1104.0,749.97 L1105.0,749.97 L1106.0,749.98 L1107.0,749.98 L1108.0,749.99 L1109.0,749.99 L1110.0,749.99 L1111.0,750.00 L1112.0,750.00 L1113.0,750.00 L1114.0,750.00 L1115.0,750.00 L1116.0,750.00 L1117.0,750.00 L1118.0,750.00 L1119.0,750.00 L1120.0,750.00 L1121.0,750.00 L1122.0,750.00 L1123.0,750.00 L1124.0,750.00 L1125.0,750.00 L1126.0,750.00 L1127.0,750.00 L1128.0,750.00 L1129.0,750.00 L1130.0,750.00 L1131.0,750.00 L1132.0,750.00 L1133.0,750.00 L1134.0,750.00 L1135.0,750.00 L1136.0,750.00 L1137.0,750.00 L1138.0,750.00 L1139.0,750.00 L1140.0,750.00 L1141.0,750.00 L1142.0,750.00 L1143.0,750.00 L1144.0,750.00 L1145.0,750.00 L1146.0,750.00 L1147.0,750.00 L1148.0,750.00 L1149.0,750.00 L1150.0,750.00 L1151.0,750.00 L1152.0,750.00 L1153.0,750.00 L1154.0,750.00 L1155.0,750.00 L1156.0,750.00 L1157.0,750.00 L1158.0,750.00 L1159.0,750.00 L1160.0,750.00 L1161.0,750.00 L1162.0,750.00 L1163.0,750.00 L1164.0,750.00 L1165.0,750.00 L1166.0,750.00 L1167.0,750.00 L1168.0,750.00 L1169.0,750.00 L1170.0,750.00 L1171.0,750.00 L1172.0,750.00 L1173.0,750.00 L1174.0,750.00 L1175.0,750.00 L1176.0,750.00 L1177.0,750.00 L1178.0,750.00 L1179.0,750.00 L1180.0,750.00 L1181.0,750.00 L1182.0,750.00 L1183.0,750.00 L1184.0,750.00 L1185.0,750.00 L1186.0,750.00 L1187.0,750.00 L1188.0,750.00 L1189.0,750.00 L1190.0,750.00 L1191.0,750.00 L1192.0,750.00 L1193.0,750.00 L1194.0,750.00 L1195.0,750.00 L1196.0,750.00 L1197.0,750.00 L1198.0,750.00 L1199.0,750.00 L1200.0,750.00 L1201.0,750.00 L1202.0,750.00 L1203.0,750.00 L1204.0,750.00 L1205.0,750.00 L1206.0,750.00 L1207.0,750.00 L1208.0,750.00 L1209.0,750.00 L1210.0,750.00 L1211.0,750.00 L1212.0,750.00 L1213.0,750.00 L1214.0,750.00 L1215.0,750.00 L1216.0,750.00 L1217.0,750.00 L1218.0,750.00 L1219.0,750.00 L1220.0,750.00 L1221.0,750.00 L1222.0,750.00 L1223.0,750.00 L1224.0,750.00 L1225.0,750.00 L1226.0,750.00 L1227.0,750.00 L1228.0,750.00 L1229.0,750.00 L1230.0,750.00 L1231.0,750.00 L1232.0,750.00 L1233.0,750.00 L1234.0,750.00 L1235.0,750.00 L1236.0,750.00 L1237.0,750.00 L1238.0,750.00 L1239.0,750.00 L1240.0,749.99 L1241.0,749.99 L1242.0,749.98 L1243.0,749.96 L1244.0,749.93 L1245.0,749.89 L1246.0,749.82 L1247.0,749.71 L1248.0,749.55 L1249.0,749.33 L1250.0,749.01 L1251.0,748.59 L1252.0,748.02 L1253.0,747.30 L1254.0,746.40 L1255.0,745.31 L1256.0,744.04 L1257.0,742.61 L1258.0,741.05 L1259.0,739.42 L1260.0,737.79 L1261.0,736.24 L1262.0,734.70 L1263.0,733.02 L1264.0,731.21 L1265.0,729.26 L1266.0,727.16 L1267.0,724.92 L1268.0,722.52 L1269.0,719.96 L1270.0,717.25 L1271.0,714.38 L1272.0,711.36 L1273.0,708.18 L1274.0,704.86 L1275.0,701.39 L1276.0,697.78 L1277.0,694.05 L1278.0,690.20 L1279.0,686.23 L1280.0,682.18 L1281.0,678.05 L1282.0,673.85 L1283.0,669.61 L1284.0,665.34 L1285.0,661.07 L1286.0,656.81 L1287.0,652.59 L1288.0,648.43 L1289.0,644.35 L1290.0,640.39 L1291.0,636.55 L1292.0,632.73 L1293.0,628.85 L1294.0,624.92 L1295.0,620.94 L1296.0,616.91 L1297.0,612.84 L1298.0,608.74 L1299.0,604.60 L1300.0,600.43 L1301.0,596.24 L1302.0,592.03 L1303.0,587.80 L1304.0,583.56 L1305.0,579.31 L1306.0,575.06 L1307.0,570.81 L1308.0,566.58 L1309.0,562.35 L1310.0,558.15 L1311.0,553.98 L1312.0,549.83 L1313.0,545.73 L1314.0,541.66 L1315.0,537.65 L1316.0,533.69 L1317.0,529.79 L1318.0,525.96 L1319.0,522.20 L1320.0,518.52 L1321.0,514.92 L1322.0,511.42 L1323.0,508.01 L1324.0,504.70 L1325.0,501.50 L1326.0,498.41 L1327.0,495.44 L1328.0,492.59 L1329.0,489.86 L1330.0,487.27 L1331.0,484.82 L1332.0,482.51 L1333.0,480.34 L1334.0,478.32 L1335.0,476.45 L1336.0,474.74 L1337.0,473.18 L1338.0,471.79 L1339.0,470.56 L1340.0,469.50 L1341.0,468.61 L1342.0,467.88 L1343.0,467.33 L1344.0,466.95 L1345.0,466.74 L1346.0,466.71 L1347.0,466.84 L1348.0,467.15 L1349.0,467.62 L1350.0,468.26 L1351.0,469.07 L1352.0,470.04 L1353.0,471.17 L1354.0,472.47 L1355.0,473.93 L1356.0,475.54 L1357.0,477.30 L1358.0,479.22 L1359.0,481.28 L1360.0,483.49 L1361.0,485.83 L1362.0,488.31 L1363.0,490.93 L1364.0,493.67 L1365.0,496.53 L1366.0,499.51 L1367.0,502.60 L1368.0,505.81 L1369.0,509.11 L1370.0,512.51 L1371.0,516.00 L1372.0,519.58 L1373.0,523.24 L1374.0,526.98 L1375.0,530.78 L1376.0,534.65 L1377.0,538.57 L1378.0,542.55 L1379.0,546.58 L1380.0,550.64 L1381.0,554.75 L1382.0,558.88 L1383.0,563.03 L1384.0,567.21 L1385.0,571.40 L1386.0,575.59 L1387.0,579.79 L1388.0,583.99 L1389.0,588.18 L1390.0,592.36 L1391.0,596.52 L1392.0,600.67 L1393.0,604.78 L1394.0,608.87 L1395.0,612.93 L1396.0,616.94 L1397.0,620.92 L1398.0,624.85 L1399.0,628.74 L1400.0,632.58 L1401.0,636.38 L1402.0,640.34 L1403.0,644.45 L1404.0,648.70 L1405.0,653.06 L1406.0,657.49 L1407.0,661.97 L1408.0,666.47 L1409.0,670.96 L1410.0,675.43 L1411.0,679.84 L1412.0,684.18 L1413.0,688.43 L1414.0,692.57 L1415.0,696.58 L1416.0,700.45 L1417.0,704.17 L1418.0,707.73 L1419.0,711.13 L1420.0,714.35 L1421.0,717.40 L1422.0,720.27 L1423.0,722.97 L1424.0,725.49 L1425.0,727.84 L1426.0,730.03 L1427.0,732.04 L1428.0,733.90 L1429.0,735.61 L1430.0,737.17 L1431.0,738.60 L1432.0,739.90 L1433.0,741.07 L1434.0,742.13 L1435.0,743.09 L1436.0,743.94 L1437.0,744.71 L1438.0,745.39 L1439.0,745.99 L1440.0,746.53 L1441.0,747.00 L1442.0,747.41 L1443.0,747.78 L1444.0,748.10 L1445.0,748.37 L1446.0,748.61 L1447.0,748.82 L1448.0,749.00 L1449.0,749.15 L1450.0,749.28 L1451.0,749.39 L1452.0,749.49 L1453.0,749.56 L1454.0,749.63 L1455.0,749.68 L1456.0,749.72 L1457.0,749.75 L1458.0,749.77 L1459.0,749.78 L1460.0,749.78 L1461.0,749.77 L1462.0,749.76 L1463.0,749.73 L1464.0,749.69 L1465.0,749.63 L1466.0,749.56 L1467.0,749.48 L1468.0,749.37 L1469.0,749.24 L1470.0,749.09 L1471.0,748.90 L1472.0,748.68 L1473.0,748.42 L1474.0,748.11 L1475.0,747.75 L1476.0,747.33 L1477.0,746.84 L1478.0,746.28 L1479.0,745.63 L1480.0,744.88 L1481.0,744.03 L1482.0,743.05 L1483.0,741.95 L1484.0,740.71 L1485.0,739.32 L1486.0,737.75 L1487.0,736.02 L1488.0,734.09 L1489.0,731.96 L1490.0,729.62 L1491.0,727.05 L1492.0,724.26 L1493.0,721.23 L1494.0,717.96 L1495.0,714.45 L1496.0,710.69 L1497.0,706.69 L1498.0,702.46 L1499.0,697.99 L1500.0,693.32 L1501.0,688.44 L1502.0,683.39 L1503.0,678.17 L1504.0,672.83 L1505.0,667.39 L1506.0,661.88 L1507.0,656.34 L1508.0,650.81 L1509.0,645.32 L1510.0,639.93 L1511.0,634.68 L1512.0,629.61 L1513.0,624.77 L1514.0,620.05 L1515.0,615.28 L1516.0,610.47 L1517.0,605.62 L1518.0,600.74 L1519.0,595.85 L1520.0,590.95 L1521.0,586.05 L1522.0,581.15 L1523.0,576.28 L1524.0,571.43 L1525.0,566.63 L1526.0,561.87 L1527.0,557.17 L1528.0,552.54 L1529.0,547.99 L1530.0,543.54 L1531.0,539.18 L1532.0,534.94 L1533.0,530.82 L1534.0,526.84 L1535.0,522.99 L1536.0,519.30 L1537.0,515.77 L1538.0,512.42 L1539.0,509.24 L1540.0,506.25 L1541.0,503.46 L1542.0,500.87 L1543.0,498.50 L1544.0,496.34 L1545.0,494.41 L1546.0,492.71 L1547.0,491.24 L1548.0,490.01 L1549.0,489.02 L1550.0,488.28 L1551.0,487.78 L1552.0,487.53 L1553.0,487.53 L1554.0,487.75 L1555.0,488.20 L1556.0,488.88 L1557.0,489.77 L1558.0,490.89 L1559.0,492.22 L1560.0,493.77 L1561.0,495.52 L1562.0,497.48 L1563.0,499.64 L1564.0,502.00 L1565.0,504.54 L1566.0,507.27 L1567.0,510.17 L1568.0,513.24 L1569.0,516.47 L1570.0,519.86 L1571.0,523.39 L1572.0,527.06 L1573.0,530.85 L1574.0,534.77 L1575.0,538.80 L1576.0,542.93 L1577.0,547.16 L1578.0,551.47 L1579.0,555.86 L1580.0,560.31 L1581.0,564.82 L1582.0,569.37 L1583.0,573.97 L1584.0,578.59 L1585.0,583.24 L1586.0,587.90 L1587.0,592.57 L1588.0,597.23 L1589.0,601.89 L1590.0,606.52 L1591.0,611.13 L1592.0,615.70 L1593.0,620.24 L1594.0,624.73 L1595.0,629.17 L1596.0,633.55 L1597.0,638.08 L1598.0,642.88 L1599.0,647.92 L1600.0,653.15 L1601.0,658.49 L1602.0,663.92 L1603.0,669.37 L1604.0,674.79 L1605.0,680.16 L1606.0,685.42 L1607.0,690.54 L1608.0,695.48 L1609.0,700.23 L1610.0,704.77 L1611.0,709.06 L1612.0,713.11 L1613.0,716.90 L1614.0,720.42 L1615.0,723.69 L1616.0,726.69 L1617.0,729.44 L1618.0,731.94 L1619.0,734.21 L1620.0,736.25 L1621.0,738.08 L1622.0,739.71 L1623.0,741.16 L1624.0,742.43 L1625.0,743.55 L1626.0,744.53 L1627.0,745.37 L1628.0,746.11 L1629.0,746.74 L1630.0,747.28 L1631.0,747.74 L1632.0,748.13 L1633.0,748.46 L1634.0,748.74 L1635.0,748.97 L1636.0,749.16 L1637.0,749.32 L1638.0,749.45 L1639.0,749.56 L1640.0,749.65 L1641.0,749.72 L1642.0,749.78 L1643.0,749.83 L1644.0,749.86 L1645.0,749.89 L1646.0,749.92 L1647.0,749.94 L1648.0,749.95 L1649.0,749.96 L1650.0,749.97 L1651.0,749.98 L1652.0,749.98 L1653.0,749.99 L1654.0,749.99 L1655.0,749.99 L1656.0,749.99 L1657.0,750.00 L1658.0,750.00 L1659.0,750.00 L1660.0,750.00 L1661.0,750.00 L1662.0,750.00 L1663.0,750.00 L1664.0,750.00 L1665.0,750.00 L1666.0,750.00"/><path d="M790.0,750.00 L791.0,750.00 L792.0,750.00 L793.0,750.00 L794.0,750.00 L795.0,750.00 L796.0,750.00 L797.0,750.00 L798.0,750.00 L799.0,750.00 L800.0,750.00 L801.0,750.00 L802.0,750.00 L803.0,750.00 L804.0,750.00 L805.0,750.00 L806.0,750.00 L807.0,750.00 L808.0,750.00 L809.0,750.00 L810.0,750.00 L811.0,750.00 L812.0,750.00 L813.0,750.00 L814.0,750.00 L815.0,750.00 L816.0,750.00 L817.0,750.00 L818.0,750.00 L819.0,750.00 L820.0,750.00 L821.0,750.00 L822.0,750.00 L823.0,750.00 L824.0,750.00 L825.0,750.00 L826.0,750.00 L827.0,750.00 L828.0,750.00 L829.0,750.00 L830.0,750.00 L831.0,750.00 L832.0,750.00 L833.0,750.00 L834.0,750.00 L835.0,750.00 L836.0,750.00 L837.0,750.00 L838.0,750.00 L839.0,750.00 L840.0,750.00 L841.0,750.00 L842.0,750.00 L843.0,750.00 L844.0,750.00 L845.0,750.00 L846.0,750.00 L847.0,750.00 L848.0,750.00 L849.0,750.00 L850.0,750.00 L851.0,750.00 L852.0,750.00 L853.0,750.00 L854.0,750.00 L855.0,750.00 L856.0,750.00 L857.0,750.00 L858.0,750.00 L859.0,750.00 L860.0,750.00 L861.0,750.00 L862.0,750.00 L863.0,750.00 L864.0,750.00 L865.0,750.00 L866.0,750.00 L867.0,750.00 L868.0,750.00 L869.0,750.00 L870.0,750.00 L871.0,750.00 L872.0,750.00 L873.0,750.00 L874.0,750.00 L875.0,750.00 L876.0,750.00 L877.0,750.00 L878.0,750.00 L879.0,750.00 L880.0,749.99 L881.0,749.99 L882.0,749.98 L883.0,749.97 L884.0,749.96 L885.0,749.93 L886.0,749.90 L887.0,749.84 L888.0,749.75 L889.0,749.63 L890.0,749.46 L891.0,749.22 L892.0,748.88 L893.0,748.44 L894.0,747.85 L895.0,747.08 L896.0,746.10 L897.0,744.89 L898.0,743.40 L899.0,741.63 L900.0,739.54 L901.0,737.15 L902.0,734.47 L903.0,731.54 L904.0,728.41 L905.0,725.16 L906.0,721.88 L907.0,718.70 L908.0,715.48 L909.0,712.02 L910.0,708.30 L911.0,704.33 L912.0,700.08 L913.0,695.56 L914.0,690.75 L915.0,685.67 L916.0,680.31 L917.0,674.66 L918.0,668.74 L919.0,662.54 L920.0,656.08 L921.0,649.37 L922.0,642.41 L923.0,635.23 L924.0,627.83 L925.0,620.25 L926.0,612.50 L927.0,604.61 L928.0,596.60 L929.0,588.51 L930.0,580.37 L931.0,572.21 L932.0,564.07 L933.0,555.98 L934.0,547.99 L935.0,540.14 L936.0,532.46 L937.0,524.99 L938.0,517.78 L939.0,510.87 L940.0,504.30 L941.0,498.11 L942.0,492.32 L943.0,486.99 L944.0,482.14 L945.0,477.76 L946.0,473.56 L947.0,469.46 L948.0,465.46 L949.0,461.59 L950.0,457.83 L951.0,454.20 L952.0,450.70 L953.0,447.34 L954.0,444.12 L955.0,441.06 L956.0,438.14 L957.0,435.39 L958.0,432.80 L959.0,430.38 L960.0,428.14 L961.0,426.07 L962.0,424.17 L963.0,422.47 L964.0,420.95 L965.0,419.62 L966.0,418.48 L967.0,417.53 L968.0,416.78 L969.0,416.22 L970.0,415.87 L971.0,415.71 L972.0,415.76 L973.0,416.02 L974.0,416.52 L975.0,417.23 L976.0,418.17 L977.0,419.33 L978.0,420.71 L979.0,422.30 L980.0,424.10 L981.0,426.11 L982.0,428.32 L983.0,430.74 L984.0,433.34 L985.0,436.14 L986.0,439.12 L987.0,442.28 L988.0,445.62 L989.0,449.12 L990.0,452.78 L991.0,456.59 L992.0,460.55 L993.0,464.64 L994.0,468.87 L995.0,473.22 L996.0,477.69 L997.0,482.26 L998.0,486.94 L999.0,491.71 L1000.0,496.56 L1001.0,501.48 L1002.0,506.48 L1003.0,511.53 L1004.0,516.64 L1005.0,521.79 L1006.0,526.98 L1007.0,532.20 L1008.0,537.43 L1009.0,542.68 L1010.0,547.94 L1011.0,553.20 L1012.0,558.45 L1013.0,563.68 L1014.0,568.89 L1015.0,574.08 L1016.0,579.23 L1017.0,584.34 L1018.0,589.41 L1019.0,594.42 L1020.0,599.38 L1021.0,604.28 L1022.0,609.12 L1023.0,613.89 L1024.0,618.58 L1025.0,623.20 L1026.0,627.74 L1027.0,632.19 L1028.0,636.56 L1029.0,640.84 L1030.0,645.03 L1031.0,649.12 L1032.0,653.13 L1033.0,657.03 L1034.0,660.84 L1035.0,664.55 L1036.0,668.16 L1037.0,671.67 L1038.0,675.08 L1039.0,678.39 L1040.0,681.60 L1041.0,684.71 L1042.0,687.72 L1043.0,690.63 L1044.0,693.44 L1045.0,696.16 L1046.0,698.78 L1047.0,701.30 L1048.0,703.74 L1049.0,706.08 L1050.0,708.33 L1051.0,710.49 L1052.0,712.56 L1053.0,714.55 L1054.0,716.46 L1055.0,718.28 L1056.0,720.03 L1057.0,721.70 L1058.0,723.29 L1059.0,724.81 L1060.0,726.26 L1061.0,727.64 L1062.0,728.96 L1063.0,730.21 L1064.0,731.40 L1065.0,732.53 L1066.0,733.60 L1067.0,734.62 L1068.0,735.58 L1069.0,736.49 L1070.0,737.36 L1071.0,738.19 L1072.0,739.04 L1073.0,739.88 L1074.0,740.71 L1075.0,741.52 L1076.0,742.31 L1077.0,743.06 L1078.0,743.77 L1079.0,744.45 L1080.0,745.08 L1081.0,745.66 L1082.0,746.20 L1083.0,746.69 L1084.0,747.13 L1085.0,747.53 L1086.0,747.88 L1087.0,748.20 L1088.0,748.47 L1089.0,748.72 L1090.0,748.93 L1091.0,749.11 L1092.0,749.26 L1093.0,749.39 L1094.0,749.50 L1095.0,749.60 L1096.0,749.67 L1097.0,749.74 L1098.0,749.79 L1099.0,749.83 L1100.0,749.87 L1101.0,749.90 L1102.0,749.92 L1103.0,749.94 L1104.0,749.95 L1105.0,749.96 L1106.0,749.97 L1107.0,749.98 L1108.0,749.98 L1109.0,749.99 L1110.0,749.99 L1111.0,749.99 L1112.0,750.00 L1113.0,750.00 L1114.0,750.00 L1115.0,750.00 L1116.0,750.00 L1117.0,750.00 L1118.0,750.00 L1119.0,750.00 L1120.0,750.00 L1121.0,750.00 L1122.0,750.00 L1123.0,750.00 L1124.0,750.00 L1125.0,750.00 L1126.0,750.00 L1127.0,750.00 L1128.0,750.00 L1129.0,750.00 L1130.0,750.00 L1131.0,750.00 L1132.0,750.00 L1133.0,750.00 L1134.0,750.00 L1135.0,750.00 L1136.0,750.00 L1137.0,750.00 L1138.0,750.00 L1139.0,750.00 L1140.0,750.00 L1141.0,750.00 L1142.0,750.00 L1143.0,750.00 L1144.0,750.00 L1145.0,750.00 L1146.0,750.00 L1147.0,750.00 L1148.0,750.00 L1149.0,750.00 L1150.0,750.00 L1151.0,750.00 L1152.0,750.00 L1153.0,750.00 L1154.0,750.00 L1155.0,750.00 L1156.0,750.00 L1157.0,750.00 L1158.0,750.00 L1159.0,750.00 L1160.0,750.00 L1161.0,750.00 L1162.0,750.00 L1163.0,750.00 L1164.0,750.00 L1165.0,750.00 L1166.0,750.00 L1167.0,750.00 L1168.0,750.00 L1169.0,750.00 L1170.0,750.00 L1171.0,750.00 L1172.0,750.00 L1173.0,750.00 L1174.0,750.00 L1175.0,750.00 L1176.0,750.00 L1177.0,750.00 L1178.0,750.00 L1179.0,750.00 L1180.0,750.00 L1181.0,750.00 L1182.0,750.00 L1183.0,750.00 L1184.0,750.00 L1185.0,750.00 L1186.0,750.00 L1187.0,750.00 L1188.0,750.00 L1189.0,750.00 L1190.0,750.00 L1191.0,750.00 L1192.0,750.00 L1193.0,750.00 L1194.0,750.00 L1195.0,750.00 L1196.0,750.00 L1197.0,750.00 L1198.0,750.00 L1199.0,750.00 L1200.0,750.00 L1201.0,750.00 L1202.0,750.00 L1203.0,750.00 L1204.0,750.00 L1205.0,750.00 L1206.0,750.00 L1207.0,750.00 L1208.0,750.00 L1209.0,750.00 L1210.0,750.00 L1211.0,750.00 L1212.0,750.00 L1213.0,750.00 L1214.0,750.00 L1215.0,750.00 L1216.0,750.00 L1217.0,750.00 L1218.0,750.00 L1219.0,750.00 L1220.0,750.00 L1221.0,750.00 L1222.0,750.00 L1223.0,750.00 L1224.0,750.00 L1225.0,750.00 L1226.0,750.00 L1227.0,750.00 L1228.0,750.00 L1229.0,750.00 L1230.0,750.00 L1231.0,750.00 L1232.0,750.00 L1233.0,750.00 L1234.0,750.00 L1235.0,750.00 L1236.0,750.00 L1237.0,750.00 L1238.0,750.00 L1239.0,750.00 L1240.0,749.99 L1241.0,749.99 L1242.0,749.98 L1243.0,749.96 L1244.0,749.94 L1245.0,749.90 L1246.0,749.83 L1247.0,749.73 L1248.0,749.58 L1249.0,749.35 L1250.0,749.04 L1251.0,748.60 L1252.0,748.02 L1253.0,747.25 L1254.0,746.28 L1255.0,745.07 L1256.0,743.63 L1257.0,741.96 L1258.0,740.08 L1259.0,738.05 L1260.0,735.94 L1261.0,733.83 L1262.0,731.84 L1263.0,729.84 L1264.0,727.67 L1265.0,725.32 L1266.0,722.79 L1267.0,720.08 L1268.0,717.18 L1269.0,714.08 L1270.0,710.78 L1271.0,707.28 L1272.0,703.58 L1273.0,699.69 L1274.0,695.60 L1275.0,691.32 L1276.0,686.85 L1277.0,682.21 L1278.0,677.40 L1279.0,672.44 L1280.0,667.34 L1281.0,662.11 L1282.0,656.79 L1283.0,651.37 L1284.0,645.89 L1285.0,640.38 L1286.0,634.85 L1287.0,629.33 L1288.0,623.85 L1289.0,618.44 L1290.0,613.13 L1291.0,607.95 L1292.0,602.92 L1293.0,598.00 L1294.0,593.00 L1295.0,587.94 L1296.0,582.81 L1297.0,577.63 L1298.0,572.39 L1299.0,567.10 L1300.0,561.76 L1301.0,556.39 L1302.0,550.98 L1303.0,545.54 L1304.0,540.07 L1305.0,534.59 L1306.0,529.10 L1307.0,523.60 L1308.0,518.10 L1309.0,512.61 L1310.0,507.14 L1311.0,501.68 L1312.0,496.26 L1313.0,490.87 L1314.0,485.52 L1315.0,480.23 L1316.0,474.99 L1317.0,469.82 L1318.0,464.72 L1319.0,459.70 L1320.0,454.77 L1321.0,449.93 L1322.0,445.19 L1323.0,440.57 L1324.0,436.06 L1325.0,431.67 L1326.0,427.42 L1327.0,423.30 L1328.0,419.33 L1329.0,415.51 L1330.0,411.84 L1331.0,408.34 L1332.0,405.01 L1333.0,401.86 L1334.0,398.88 L1335.0,396.09 L1336.0,393.49 L1337.0,391.08 L1338.0,388.87 L1339.0,386.87 L1340.0,385.07 L1341.0,383.48 L1342.0,382.10 L1343.0,380.94 L1344.0,379.99 L1345.0,379.27 L1346.0,378.76 L1347.0,378.47 L1348.0,378.40 L1349.0,378.56 L1350.0,378.92 L1351.0,379.50 L1352.0,380.30 L1353.0,381.31 L1354.0,382.53 L1355.0,383.96 L1356.0,385.59 L1357.0,387.43 L1358.0,389.47 L1359.0,391.71 L1360.0,394.14 L1361.0,396.75 L1362.0,399.56 L1363.0,402.54 L1364.0,405.70 L1365.0,409.02 L1366.0,412.51 L1367.0,416.16 L1368.0,419.97 L1369.0,423.91 L1370.0,428.00 L1371.0,432.22 L1372.0,436.57 L1373.0,441.04 L1374.0,445.62 L1375.0,450.31 L1376.0,455.10 L1377.0,459.98 L1378.0,464.94 L1379.0,469.99 L1380.0,475.10 L1381.0,480.28 L1382.0,485.51 L1383.0,490.79 L1384.0,496.12 L1385.0,501.48 L1386.0,506.87 L1387.0,512.28 L1388.0,517.70 L1389.0,523.13 L1390.0,528.57 L1391.0,534.00 L1392.0,539.42 L1393.0,544.82 L1394.0,550.20 L1395.0,555.55 L1396.0,560.87 L1397.0,566.15 L1398.0,571.39 L1399.0,576.57 L1400.0,581.71 L1401.0,586.79 L1402.0,591.80 L1403.0,596.76 L1404.0,601.69 L1405.0,606.84 L1406.0,612.19 L1407.0,617.71 L1408.0,623.36 L1409.0,629.10 L1410.0,634.90 L1411.0,640.72 L1412.0,646.54 L1413.0,652.31 L1414.0,658.02 L1415.0,663.64 L1416.0,669.13 L1417.0,674.49 L1418.0,679.69 L1419.0,684.71 L1420.0,689.53 L1421.0,694.16 L1422.0,698.58 L1423.0,702.77 L1424.0,706.75 L1425.0,710.49 L1426.0,714.02 L1427.0,717.32 L1428.0,720.40 L1429.0,723.26 L1430.0,725.91 L1431.0,728.36 L1432.0,730.62 L1433.0,732.69 L1434.0,734.58 L1435.0,736.30 L1436.0,737.86 L1437.0,739.27 L1438.0,740.55 L1439.0,741.70 L1440.0,742.72 L1441.0,743.64 L1442.0,744.46 L1443.0,745.18 L1444.0,745.83 L1445.0,746.39 L1446.0,746.89 L1447.0,747.32 L1448.0,747.70 L1449.0,748.03 L1450.0,748.32 L1451.0,748.56 L1452.0,748.77 L1453.0,748.95 L1454.0,749.10 L1455.0,749.22 L1456.0,749.33 L1457.0,749.41 L1458.0,749.47 L1459.0,749.51 L1460.0,749.54 L1461.0,749.54 L1462.0,749.53 L1463.0,749.51 L1464.0,749.46 L1465.0,749.39 L1466.0,749.30 L1467.0,749.18 L1468.0,749.04 L1469.0,748.86 L1470.0,748.65 L1471.0,748.40 L1472.0,748.09 L1473.0,747.74 L1474.0,747.32 L1475.0,746.83 L1476.0,746.27 L1477.0,745.62 L1478.0,744.87 L1479.0,744.01 L1480.0,743.03 L1481.0,741.91 L1482.0,740.65 L1483.0,739.23 L1484.0,737.63 L1485.0,735.85 L1486.0,733.86 L1487.0,731.66 L1488.0,729.23 L1489.0,726.55 L1490.0,723.62 L1491.0,720.42 L1492.0,716.94 L1493.0,713.19 L1494.0,709.14 L1495.0,704.81 L1496.0,700.18 L1497.0,695.27 L1498.0,690.08 L1499.0,684.62 L1500.0,678.90 L1501.0,672.94 L1502.0,666.77 L1503.0,660.41 L1504.0,653.89 L1505.0,647.25 L1506.0,640.52 L1507.0,633.74 L1508.0,626.96 L1509.0,620.23 L1510.0,613.60 L1511.0,607.11 L1512.0,600.82 L1513.0,594.79 L1514.0,589.00 L1515.0,583.19 L1516.0,577.32 L1517.0,571.41 L1518.0,565.46 L1519.0,559.48 L1520.0,553.48 L1521.0,547.48 L1522.0,541.49 L1523.0,535.51 L1524.0,529.55 L1525.0,523.63 L1526.0,517.77 L1527.0,511.96 L1528.0,506.23 L1529.0,500.58 L1530.0,495.04 L1531.0,489.60 L1532.0,484.29 L1533.0,479.11 L1534.0,474.08 L1535.0,469.20 L1536.0,464.50 L1537.0,459.98 L1538.0,455.65 L1539.0,451.52 L1540.0,447.61 L1541.0,443.92 L1542.0,440.47 L1543.0,437.26 L1544.0,434.30 L1545.0,431.59 L1546.0,429.15 L1547.0,426.98 L1548.0,425.09 L1549.0,423.49 L1550.0,422.16 L1551.0,421.13 L1552.0,420.39 L1553.0,419.95 L1554.0,419.80 L1555.0,419.93 L1556.0,420.34 L1557.0,421.01 L1558.0,421.94 L1559.0,423.14 L1560.0,424.60 L1561.0,426.31 L1562.0,428.28 L1563.0,430.50 L1564.0,432.95 L1565.0,435.65 L1566.0,438.58 L1567.0,441.72 L1568.0,445.09 L1569.0,448.66 L1570.0,452.44 L1571.0,456.40 L1572.0,460.55 L1573.0,464.87 L1574.0,469.36 L1575.0,474.00 L1576.0,478.78 L1577.0,483.69 L1578.0,488.73 L1579.0,493.89 L1580.0,499.14 L1581.0,504.49 L1582.0,509.92 L1583.0,515.42 L1584.0,520.98 L1585.0,526.59 L1586.0,532.24 L1587.0,537.92 L1588.0,543.61 L1589.0,549.32 L1590.0,555.03 L1591.0,560.73 L1592.0,566.42 L1593.0,572.07 L1594.0,577.70 L1595.0,583.28 L1596.0,588.81 L1597.0,594.29 L1598.0,599.70 L1599.0,605.06 L1600.0,610.69 L1601.0,616.65 L1602.0,622.87 L1603.0,629.30 L1604.0,635.86 L1605.0,642.50 L1606.0,649.17 L1607.0,655.81 L1608.0,662.37 L1609.0,668.80 L1610.0,675.07 L1611.0,681.13 L1612.0,686.96 L1613.0,692.53 L1614.0,697.82 L1615.0,702.82 L1616.0,707.51 L1617.0,711.89 L1618.0,715.95 L1619.0,719.71 L1620.0,723.16 L1621.0,726.31 L1622.0,729.18 L1623.0,731.78 L1624.0,734.12 L1625.0,736.21 L1626.0,738.07 L1627.0,739.73 L1628.0,741.19 L1629.0,742.48 L1630.0,743.60 L1631.0,744.58 L1632.0,745.42 L1633.0,746.15 L1634.0,746.78 L1635.0,747.32 L1636.0,747.77 L1637.0,748.16 L1638.0,748.48 L1639.0,748.76 L1640.0,748.98 L1641.0,749.17 L1642.0,749.33 L1643.0,749.46 L1644.0,749.57 L1645.0,749.65 L1646.0,749.72 L1647.0,749.78 L1648.0,749.83 L1649.0,749.86 L1650.0,749.89 L1651.0,749.92 L1652.0,749.93 L1653.0,749.95 L1654.0,749.96 L1655.0,749.97 L1656.0,749.98 L1657.0,749.98 L1658.0,749.99 L1659.0,749.99 L1660.0,749.99 L1661.0,749.99 L1662.0,750.00 L1663.0,750.00 L1664.0,750.00 L1665.0,750.00 L1666.0,750.00"/><path d="M790.0,750.00 L791.0,750.00 L792.0,750.00 L793.0,750.00 L794.0,750.00 L795.0,750.00 L796.0,750.00 L797.0,750.00 L798.0,750.00 L799.0,750.00 L800.0,750.00 L801.0,750.00 L802.0,750.00 L803.0,750.00 L804.0,750.00 L805.0,750.00 L806.0,750.00 L807.0,750.00 L808.0,750.00 L809.0,750.00 L810.0,750.00 L811.0,750.00 L812.0,750.00 L813.0,750.00 L814.0,750.00 L815.0,750.00 L816.0,750.00 L817.0,750.00 L818.0,750.00 L819.0,750.00 L820.0,750.00 L821.0,750.00 L822.0,750.00 L823.0,750.00 L824.0,750.00 L825.0,750.00 L826.0,750.00 L827.0,750.00 L828.0,750.00 L829.0,750.00 L830.0,750.00 L831.0,750.00 L832.0,750.00 L833.0,750.00 L834.0,750.00 L835.0,750.00 L836.0,750.00 L837.0,750.00 L838.0,750.00 L839.0,750.00 L840.0,750.00 L841.0,750.00 L842.0,750.00 L843.0,750.00 L844.0,750.00 L845.0,750.00 L846.0,750.00 L847.0,750.00 L848.0,750.00 L849.0,750.00 L850.0,750.00 L851.0,750.00 L852.0,750.00 L853.0,750.00 L854.0,750.00 L855.0,750.00 L856.0,750.00 L857.0,750.00 L858.0,750.00 L859.0,750.00 L860.0,750.00 L861.0,750.00 L862.0,750.00 L863.0,750.00 L864.0,750.00 L865.0,750.00 L866.0,750.00 L867.0,750.00 L868.0,750.00 L869.0,750.00 L870.0,750.00 L871.0,750.00 L872.0,750.00 L873.0,750.00 L874.0,750.00 L875.0,750.00 L876.0,750.00 L877.0,750.00 L878.0,750.00 L879.0,750.00 L880.0,749.99 L881.0,749.99 L882.0,749.98 L883.0,749.96 L884.0,749.94 L885.0,749.90 L886.0,749.85 L887.0,749.77 L888.0,749.65 L889.0,749.48 L890.0,749.25 L891.0,748.92 L892.0,748.47 L893.0,747.87 L894.0,747.08 L895.0,746.06 L896.0,744.78 L897.0,743.20 L898.0,741.28 L899.0,738.99 L900.0,736.33 L901.0,733.29 L902.0,729.92 L903.0,726.25 L904.0,722.37 L905.0,718.37 L906.0,714.38 L907.0,710.52 L908.0,706.50 L909.0,702.19 L910.0,697.56 L911.0,692.61 L912.0,687.33 L913.0,681.71 L914.0,675.76 L915.0,669.46 L916.0,662.81 L917.0,655.83 L918.0,648.50 L919.0,640.85 L920.0,632.88 L921.0,624.60 L922.0,616.02 L923.0,607.18 L924.0,598.08 L925.0,588.76 L926.0,579.24 L927.0,569.55 L928.0,559.73 L929.0,549.82 L930.0,539.85 L931.0,529.86 L932.0,519.91 L933.0,510.03 L934.0,500.27 L935.0,490.69 L936.0,481.32 L937.0,472.23 L938.0,463.46 L939.0,455.06 L940.0,447.07 L941.0,439.55 L942.0,432.54 L943.0,426.08 L944.0,420.21 L945.0,414.90 L946.0,409.77 L947.0,404.76 L948.0,399.89 L949.0,395.16 L950.0,390.57 L951.0,386.14 L952.0,381.87 L953.0,377.78 L954.0,373.85 L955.0,370.11 L956.0,366.56 L957.0,363.21 L958.0,360.05 L959.0,357.10 L960.0,354.36 L961.0,351.83 L962.0,349.53 L963.0,347.45 L964.0,345.60 L965.0,343.97 L966.0,342.58 L967.0,341.43 L968.0,340.52 L969.0,339.84 L970.0,339.40 L971.0,339.21 L972.0,339.27 L973.0,339.60 L974.0,340.20 L975.0,341.07 L976.0,342.21 L977.0,343.63 L978.0,345.30 L979.0,347.24 L980.0,349.44 L981.0,351.89 L982.0,354.59 L983.0,357.53 L984.0,360.71 L985.0,364.12 L986.0,367.76 L987.0,371.61 L988.0,375.68 L989.0,379.94 L990.0,384.41 L991.0,389.06 L992.0,393.89 L993.0,398.89 L994.0,404.05 L995.0,409.36 L996.0,414.81 L997.0,420.40 L998.0,426.10 L999.0,431.93 L1000.0,437.85 L1001.0,443.87 L1002.0,449.97 L1003.0,456.15 L1004.0,462.39 L1005.0,468.69 L1006.0,475.03 L1007.0,481.41 L1008.0,487.82 L1009.0,494.24 L1010.0,500.67 L1011.0,507.11 L1012.0,513.53 L1013.0,519.94 L1014.0,526.32 L1015.0,532.68 L1016.0,538.99 L1017.0,545.25 L1018.0,551.46 L1019.0,557.62 L1020.0,563.70 L1021.0,569.71 L1022.0,575.65 L1023.0,581.50 L1024.0,587.26 L1025.0,592.94 L1026.0,598.51 L1027.0,603.99 L1028.0,609.36 L1029.0,614.62 L1030.0,619.77 L1031.0,624.81 L1032.0,629.74 L1033.0,634.55 L1034.0,639.24 L1035.0,643.81 L1036.0,648.26 L1037.0,652.59 L1038.0,656.80 L1039.0,660.88 L1040.0,664.84 L1041.0,668.68 L1042.0,672.40 L1043.0,676.00 L1044.0,679.48 L1045.0,682.84 L1046.0,686.08 L1047.0,689.21 L1048.0,692.22 L1049.0,695.12 L1050.0,697.91 L1051.0,700.59 L1052.0,703.16 L1053.0,705.63 L1054.0,707.99 L1055.0,710.26 L1056.0,712.43 L1057.0,714.51 L1058.0,716.49 L1059.0,718.38 L1060.0,720.19 L1061.0,721.91 L1062.0,723.55 L1063.0,725.11 L1064.0,726.59 L1065.0,728.00 L1066.0,729.34 L1067.0,730.61 L1068.0,731.82 L1069.0,732.96 L1070.0,734.04 L1071.0,735.07 L1072.0,736.10 L1073.0,737.13 L1074.0,738.15 L1075.0,739.16 L1076.0,740.13 L1077.0,741.07 L1078.0,741.97 L1079.0,742.82 L1080.0,743.61 L1081.0,744.35 L1082.0,745.03 L1083.0,745.66 L1084.0,746.23 L1085.0,746.74 L1086.0,747.20 L1087.0,747.61 L1088.0,747.97 L1089.0,748.28 L1090.0,748.56 L1091.0,748.80 L1092.0,749.00 L1093.0,749.18 L1094.0,749.32 L1095.0,749.45 L1096.0,749.55 L1097.0,749.64 L1098.0,749.71 L1099.0,749.77 L1100.0,749.82 L1101.0,749.86 L1102.0,749.89 L1103.0,749.91 L1104.0,749.93 L1105.0,749.95 L1106.0,749.96 L1107.0,749.97 L1108.0,749.98 L1109.0,749.98 L1110.0,749.99 L1111.0,749.99 L1112.0,749.99 L1113.0,749.99 L1114.0,750.00 L1115.0,750.00 L1116.0,750.00 L1117.0,750.00 L1118.0,750.00 L1119.0,750.00 L1120.0,750.00 L1121.0,750.00 L1122.0,750.00 L1123.0,750.00 L1124.0,750.00 L1125.0,750.00 L1126.0,750.00 L1127.0,750.00 L1128.0,750.00 L1129.0,750.00 L1130.0,750.00 L1131.0,750.00 L1132.0,750.00 L1133.0,750.00 L1134.0,750.00 L1135.0,750.00 L1136.0,750.00 L1137.0,750.00 L1138.0,750.00 L1139.0,750.00 L1140.0,750.00 L1141.0,750.00 L1142.0,750.00 L1143.0,750.00 L1144.0,750.00 L1145.0,750.00 L1146.0,750.00 L1147.0,750.00 L1148.0,750.00 L1149.0,750.00 L1150.0,750.00 L1151.0,750.00 L1152.0,750.00 L1153.0,750.00 L1154.0,750.00 L1155.0,750.00 L1156.0,750.00 L1157.0,750.00 L1158.0,750.00 L1159.0,750.00 L1160.0,750.00 L1161.0,750.00 L1162.0,750.00 L1163.0,750.00 L1164.0,750.00 L1165.0,750.00 L1166.0,750.00 L1167.0,750.00 L1168.0,750.00 L1169.0,750.00 L1170.0,750.00 L1171.0,750.00 L1172.0,750.00 L1173.0,750.00 L1174.0,750.00 L1175.0,750.00 L1176.0,750.00 L1177.0,750.00 L1178.0,750.00 L1179.0,750.00 L1180.0,750.00 L1181.0,750.00 L1182.0,750.00 L1183.0,750.00 L1184.0,750.00 L1185.0,750.00 L1186.0,750.00 L1187.0,750.00 L1188.0,750.00 L1189.0,750.00 L1190.0,750.00 L1191.0,750.00 L1192.0,750.00 L1193.0,750.00 L1194.0,750.00 L1195.0,750.00 L1196.0,750.00 L1197.0,750.00 L1198.0,750.00 L1199.0,750.00 L1200.0,750.00 L1201.0,750.00 L1202.0,750.00 L1203.0,750.00 L1204.0,750.00 L1205.0,750.00 L1206.0,750.00 L1207.0,750.00 L1208.0,750.00 L1209.0,750.00 L1210.0,750.00 L1211.0,750.00 L1212.0,750.00 L1213.0,750.00 L1214.0,750.00 L1215.0,750.00 L1216.0,750.00 L1217.0,750.00 L1218.0,750.00 L1219.0,750.00 L1220.0,750.00 L1221.0,750.00 L1222.0,750.00 L1223.0,750.00 L1224.0,750.00 L1225.0,750.00 L1226.0,750.00 L1227.0,750.00 L1228.0,750.00 L1229.0,750.00 L1230.0,750.00 L1231.0,750.00 L1232.0,750.00 L1233.0,750.00 L1234.0,750.00 L1235.0,750.00 L1236.0,750.00 L1237.0,750.00 L1238.0,750.00 L1239.0,750.00 L1240.0,749.99 L1241.0,749.99 L1242.0,749.97 L1243.0,749.96 L1244.0,749.93 L1245.0,749.88 L1246.0,749.80 L1247.0,749.68 L1248.0,749.50 L1249.0,749.24 L1250.0,748.88 L1251.0,748.37 L1252.0,747.69 L1253.0,746.79 L1254.0,745.66 L1255.0,744.26 L1256.0,742.57 L1257.0,740.61 L1258.0,738.40 L1259.0,736.00 L1260.0,733.48 L1261.0,730.95 L1262.0,728.54 L1263.0,726.18 L1264.0,723.63 L1265.0,720.87 L1266.0,717.90 L1267.0,714.71 L1268.0,711.29 L1269.0,707.65 L1270.0,703.77 L1271.0,699.66 L1272.0,695.31 L1273.0,690.72 L1274.0,685.90 L1275.0,680.85 L1276.0,675.59 L1277.0,670.11 L1278.0,664.43 L1279.0,658.56 L1280.0,652.52 L1281.0,646.33 L1282.0,640.01 L1283.0,633.57 L1284.0,627.05 L1285.0,620.48 L1286.0,613.87 L1287.0,607.27 L1288.0,600.70 L1289.0,594.19 L1290.0,587.79 L1291.0,581.52 L1292.0,575.43 L1293.0,569.52 L1294.0,563.59 L1295.0,557.59 L1296.0,551.50 L1297.0,545.34 L1298.0,539.11 L1299.0,532.82 L1300.0,526.48 L1301.0,520.08 L1302.0,513.63 L1303.0,507.15 L1304.0,500.64 L1305.0,494.10 L1306.0,487.54 L1307.0,480.98 L1308.0,474.41 L1309.0,467.84 L1310.0,461.29 L1311.0,454.75 L1312.0,448.25 L1313.0,441.78 L1314.0,435.36 L1315.0,428.99 L1316.0,422.68 L1317.0,416.44 L1318.0,410.29 L1319.0,404.22 L1320.0,398.25 L1321.0,392.38 L1322.0,386.63 L1323.0,381.01 L1324.0,375.51 L1325.0,370.16 L1326.0,364.95 L1327.0,359.90 L1328.0,355.02 L1329.0,350.30 L1330.0,345.77 L1331.0,341.42 L1332.0,337.27 L1333.0,333.32 L1334.0,329.58 L1335.0,326.05 L1336.0,322.75 L1337.0,319.67 L1338.0,316.82 L1339.0,314.20 L1340.0,311.83 L1341.0,309.70 L1342.0,307.81 L1343.0,306.18 L1344.0,304.81 L1345.0,303.69 L1346.0,302.83 L1347.0,302.22 L1348.0,301.88 L1349.0,301.81 L1350.0,301.98 L1351.0,302.42 L1352.0,303.11 L1353.0,304.05 L1354.0,305.24 L1355.0,306.69 L1356.0,308.38 L1357.0,310.32 L1358.0,312.49 L1359.0,314.91 L1360.0,317.56 L1361.0,320.43 L1362.0,323.54 L1363.0,326.86 L1364.0,330.39 L1365.0,334.13 L1366.0,338.08 L1367.0,342.22 L1368.0,346.55 L1369.0,351.06 L1370.0,355.74 L1371.0,360.59 L1372.0,365.60 L1373.0,370.77 L1374.0,376.07 L1375.0,381.52 L1376.0,387.09 L1377.0,392.78 L1378.0,398.58 L1379.0,404.49 L1380.0,410.49 L1381.0,416.57 L1382.0,422.74 L1383.0,428.97 L1384.0,435.26 L1385.0,441.61 L1386.0,448.00 L1387.0,454.43 L1388.0,460.89 L1389.0,467.36 L1390.0,473.85 L1391.0,480.34 L1392.0,486.83 L1393.0,493.31 L1394.0,499.78 L1395.0,506.22 L1396.0,512.63 L1397.0,519.00 L1398.0,525.33 L1399.0,531.62 L1400.0,537.84 L1401.0,544.01 L1402.0,550.11 L1403.0,556.15 L1404.0,562.10 L1405.0,567.98 L1406.0,573.99 L1407.0,580.25 L1408.0,586.74 L1409.0,593.41 L1410.0,600.21 L1411.0,607.10 L1412.0,614.05 L1413.0,621.01 L1414.0,627.95 L1415.0,634.82 L1416.0,641.61 L1417.0,648.27 L1418.0,654.78 L1419.0,661.11 L1420.0,667.25 L1421.0,673.17 L1422.0,678.87 L1423.0,684.32 L1424.0,689.51 L1425.0,694.45 L1426.0,699.12 L1427.0,703.53 L1428.0,707.67 L1429.0,711.54 L1430.0,715.16 L1431.0,718.52 L1432.0,721.63 L1433.0,724.51 L1434.0,727.15 L1435.0,729.58 L1436.0,731.80 L1437.0,733.82 L1438.0,735.66 L1439.0,737.32 L1440.0,738.82 L1441.0,740.17 L1442.0,741.37 L1443.0,742.46 L1444.0,743.42 L1445.0,744.27 L1446.0,745.03 L1447.0,745.70 L1448.0,746.28 L1449.0,746.80 L1450.0,747.24 L1451.0,747.63 L1452.0,747.97 L1453.0,748.26 L1454.0,748.50 L1455.0,748.71 L1456.0,748.88 L1457.0,749.03 L1458.0,749.14 L1459.0,749.23 L1460.0,749.29 L1461.0,749.32 L1462.0,749.34 L1463.0,749.33 L1464.0,749.29 L1465.0,749.23 L1466.0,749.14 L1467.0,749.03 L1468.0,748.88 L1469.0,748.69 L1470.0,748.46 L1471.0,748.18 L1472.0,747.85 L1473.0,747.47 L1474.0,747.01 L1475.0,746.48 L1476.0,745.87 L1477.0,745.16 L1478.0,744.34 L1479.0,743.40 L1480.0,742.34 L1481.0,741.13 L1482.0,739.75 L1483.0,738.21 L1484.0,736.48 L1485.0,734.54 L1486.0,732.38 L1487.0,729.98 L1488.0,727.33 L1489.0,724.42 L1490.0,721.22 L1491.0,717.73 L1492.0,713.93 L1493.0,709.82 L1494.0,705.39 L1495.0,700.63 L1496.0,695.54 L1497.0,690.12 L1498.0,684.37 L1499.0,678.31 L1500.0,671.94 L1501.0,665.29 L1502.0,658.36 L1503.0,651.20 L1504.0,643.82 L1505.0,636.26 L1506.0,628.56 L1507.0,620.76 L1508.0,612.91 L1509.0,605.05 L1510.0,597.25 L1511.0,589.55 L1512.0,582.01 L1513.0,574.68 L1514.0,567.64 L1515.0,560.90 L1516.0,554.18 L1517.0,547.40 L1518.0,540.55 L1519.0,533.67 L1520.0,526.75 L1521.0,519.81 L1522.0,512.86 L1523.0,505.91 L1524.0,498.97 L1525.0,492.05 L1526.0,485.18 L1527.0,478.35 L1528.0,471.59 L1529.0,464.91 L1530.0,458.32 L1531.0,451.83 L1532.0,445.47 L1533.0,439.23 L1534.0,433.14 L1535.0,427.21 L1536.0,421.45 L1537.0,415.88 L1538.0,410.51 L1539.0,405.35 L1540.0,400.41 L1541.0,395.70 L1542.0,391.24 L1543.0,387.04 L1544.0,383.11 L1545.0,379.45 L1546.0,376.08 L1547.0,373.00 L1548.0,370.23 L1549.0,367.76 L1550.0,365.61 L1551.0,363.79 L1552.0,362.28 L1553.0,361.11 L1554.0,360.27 L1555.0,359.77 L1556.0,359.60 L1557.0,359.75 L1558.0,360.21 L1559.0,360.97 L1560.0,362.03 L1561.0,363.39 L1562.0,365.05 L1563.0,367.00 L1564.0,369.24 L1565.0,371.76 L1566.0,374.55 L1567.0,377.62 L1568.0,380.95 L1569.0,384.53 L1570.0,388.37 L1571.0,392.44 L1572.0,396.74 L1573.0,401.26 L1574.0,406.00 L1575.0,410.93 L1576.0,416.06 L1577.0,421.36 L1578.0,426.84 L1579.0,432.46 L1580.0,438.24 L1581.0,444.15 L1582.0,450.18 L1583.0,456.32 L1584.0,462.56 L1585.0,468.89 L1586.0,475.29 L1587.0,481.76 L1588.0,488.28 L1589.0,494.84 L1590.0,501.43 L1591.0,508.04 L1592.0,514.65 L1593.0,521.27 L1594.0,527.87 L1595.0,534.45 L1596.0,541.00 L1597.0,547.51 L1598.0,553.96 L1599.0,560.36 L1600.0,566.70 L1601.0,572.96 L1602.0,579.18 L1603.0,585.74 L1604.0,592.67 L1605.0,599.88 L1606.0,607.33 L1607.0,614.93 L1608.0,622.63 L1609.0,630.36 L1610.0,638.06 L1611.0,645.67 L1612.0,653.14 L1613.0,660.43 L1614.0,667.49 L1615.0,674.29 L1616.0,680.80 L1617.0,687.00 L1618.0,692.87 L1619.0,698.39 L1620.0,703.56 L1621.0,708.37 L1622.0,712.83 L1623.0,716.95 L1624.0,720.72 L1625.0,724.16 L1626.0,727.29 L1627.0,730.12 L1628.0,732.66 L1629.0,734.93 L1630.0,736.96 L1631.0,738.76 L1632.0,740.35 L1633.0,741.75 L1634.0,742.97 L1635.0,744.03 L1636.0,744.96 L1637.0,745.75 L1638.0,746.44 L1639.0,747.02 L1640.0,747.52 L1641.0,747.95 L1642.0,748.30 L1643.0,748.61 L1644.0,748.86 L1645.0,749.07 L1646.0,749.24 L1647.0,749.39 L1648.0,749.51 L1649.0,749.60 L1650.0,749.68 L1651.0,749.75 L1652.0,749.80 L1653.0,749.84 L1654.0,749.87 L1655.0,749.90 L1656.0,749.92 L1657.0,749.94 L1658.0,749.95 L1659.0,749.96 L1660.0,749.97 L1661.0,749.98 L1662.0,749.98 L1663.0,749.99 L1664.0,749.99 L1665.0,749.99 L1666.0,749.99"/><path d="M790.0,750.00 L791.0,750.00 L792.0,750.00 L793.0,750.00 L794.0,750.00 L795.0,750.00 L796.0,750.00 L797.0,750.00 L798.0,750.00 L799.0,750.00 L800.0,750.00 L801.0,750.00 L802.0,750.00 L803.0,750.00 L804.0,750.00 L805.0,750.00 L806.0,750.00 L807.0,750.00 L808.0,750.00 L809.0,750.00 L810.0,750.00 L811.0,750.00 L812.0,750.00 L813.0,750.00 L814.0,750.00 L815.0,750.00 L816.0,750.00 L817.0,750.00 L818.0,750.00 L819.0,750.00 L820.0,750.00 L821.0,750.00 L822.0,750.00 L823.0,750.00 L824.0,750.00 L825.0,750.00 L826.0,750.00 L827.0,750.00 L828.0,750.00 L829.0,750.00 L830.0,750.00 L831.0,750.00 L832.0,750.00 L833.0,750.00 L834.0,750.00 L835.0,750.00 L836.0,750.00 L837.0,750.00 L838.0,750.00 L839.0,750.00 L840.0,750.00 L841.0,750.00 L842.0,750.00 L843.0,750.00 L844.0,750.00 L845.0,750.00 L846.0,750.00 L847.0,750.00 L848.0,750.00 L849.0,750.00 L850.0,750.00 L851.0,750.00 L852.0,750.00 L853.0,750.00 L854.0,750.00 L855.0,750.00 L856.0,750.00 L857.0,750.00 L858.0,750.00 L859.0,750.00 L860.0,750.00 L861.0,750.00 L862.0,750.00 L863.0,750.00 L864.0,750.00 L865.0,750.00 L866.0,750.00 L867.0,750.00 L868.0,750.00 L869.0,750.00 L870.0,750.00 L871.0,750.00 L872.0,750.00 L873.0,750.00 L874.0,750.00 L875.0,750.00 L876.0,750.00 L877.0,750.00 L878.0,750.00 L879.0,749.99 L880.0,749.99 L881.0,749.98 L882.0,749.97 L883.0,749.95 L884.0,749.92 L885.0,749.88 L886.0,749.81 L887.0,749.71 L888.0,749.56 L889.0,749.35 L890.0,749.05 L891.0,748.64 L892.0,748.08 L893.0,747.35 L894.0,746.38 L895.0,745.15 L896.0,743.60 L897.0,741.69 L898.0,739.38 L899.0,736.65 L900.0,733.49 L901.0,729.91 L902.0,725.95 L903.0,721.66 L904.0,717.15 L905.0,712.53 L906.0,707.94 L907.0,703.50 L908.0,698.81 L909.0,693.76 L910.0,688.36 L911.0,682.59 L912.0,676.43 L913.0,669.89 L914.0,662.95 L915.0,655.62 L916.0,647.89 L917.0,639.78 L918.0,631.27 L919.0,622.39 L920.0,613.14 L921.0,603.54 L922.0,593.61 L923.0,583.37 L924.0,572.84 L925.0,562.05 L926.0,551.05 L927.0,539.86 L928.0,528.52 L929.0,517.07 L930.0,505.57 L931.0,494.06 L932.0,482.58 L933.0,471.20 L934.0,459.97 L935.0,448.94 L936.0,438.18 L937.0,427.73 L938.0,417.65 L939.0,408.00 L940.0,398.84 L941.0,390.22 L942.0,382.19 L943.0,374.79 L944.0,368.08 L945.0,361.99 L946.0,356.08 L947.0,350.32 L948.0,344.71 L949.0,339.27 L950.0,333.99 L951.0,328.89 L952.0,323.98 L953.0,319.27 L954.0,314.75 L955.0,310.45 L956.0,306.37 L957.0,302.51 L958.0,298.88 L959.0,295.48 L960.0,292.33 L961.0,289.43 L962.0,286.78 L963.0,284.39 L964.0,282.25 L965.0,280.39 L966.0,278.79 L967.0,277.46 L968.0,276.41 L969.0,275.64 L970.0,275.13 L971.0,274.91 L972.0,274.98 L973.0,275.35 L974.0,276.05 L975.0,277.05 L976.0,278.37 L977.0,279.99 L978.0,281.92 L979.0,284.15 L980.0,286.67 L981.0,289.49 L982.0,292.59 L983.0,295.98 L984.0,299.63 L985.0,303.56 L986.0,307.74 L987.0,312.18 L988.0,316.85 L989.0,321.76 L990.0,326.90 L991.0,332.25 L992.0,337.81 L993.0,343.56 L994.0,349.50 L995.0,355.61 L996.0,361.89 L997.0,368.32 L998.0,374.89 L999.0,381.59 L1000.0,388.42 L1001.0,395.35 L1002.0,402.38 L1003.0,409.50 L1004.0,416.69 L1005.0,423.94 L1006.0,431.25 L1007.0,438.61 L1008.0,445.99 L1009.0,453.40 L1010.0,460.81 L1011.0,468.23 L1012.0,475.64 L1013.0,483.03 L1014.0,490.40 L1015.0,497.73 L1016.0,505.01 L1017.0,512.25 L1018.0,519.42 L1019.0,526.52 L1020.0,533.55 L1021.0,540.50 L1022.0,547.35 L1023.0,554.12 L1024.0,560.78 L1025.0,567.34 L1026.0,573.78 L1027.0,580.12 L1028.0,586.33 L1029.0,592.42 L1030.0,598.38 L1031.0,604.22 L1032.0,609.92 L1033.0,615.49 L1034.0,620.93 L1035.0,626.22 L1036.0,631.38 L1037.0,636.40 L1038.0,641.28 L1039.0,646.01 L1040.0,650.61 L1041.0,655.07 L1042.0,659.38 L1043.0,663.56 L1044.0,667.60 L1045.0,671.50 L1046.0,675.27 L1047.0,678.91 L1048.0,682.41 L1049.0,685.78 L1050.0,689.03 L1051.0,692.14 L1052.0,695.14 L1053.0,698.02 L1054.0,700.77 L1055.0,703.41 L1056.0,705.94 L1057.0,708.36 L1058.0,710.68 L1059.0,712.88 L1060.0,714.99 L1061.0,717.00 L1062.0,718.92 L1063.0,720.74 L1064.0,722.48 L1065.0,724.13 L1066.0,725.69 L1067.0,727.18 L1068.0,728.59 L1069.0,729.93 L1070.0,731.19 L1071.0,732.39 L1072.0,733.57 L1073.0,734.76 L1074.0,735.95 L1075.0,737.11 L1076.0,738.25 L1077.0,739.35 L1078.0,740.40 L1079.0,741.39 L1080.0,742.33 L1081.0,743.20 L1082.0,744.01 L1083.0,744.75 L1084.0,745.43 L1085.0,746.04 L1086.0,746.59 L1087.0,747.08 L1088.0,747.51 L1089.0,747.90 L1090.0,748.23 L1091.0,748.52 L1092.0,748.77 L1093.0,748.98 L1094.0,749.16 L1095.0,749.31 L1096.0,749.44 L1097.0,749.55 L1098.0,749.64 L1099.0,749.71 L1100.0,749.77 L1101.0,749.82 L1102.0,749.86 L1103.0,749.89 L1104.0,749.91 L1105.0,749.93 L1106.0,749.95 L1107.0,749.96 L1108.0,749.97 L1109.0,749.98 L1110.0,749.98 L1111.0,749.99 L1112.0,749.99 L1113.0,749.99 L1114.0,749.99 L1115.0,750.00 L1116.0,750.00 L1117.0,750.00 L1118.0,750.00 L1119.0,750.00 L1120.0,750.00 L1121.0,750.00 L1122.0,750.00 L1123.0,750.00 L1124.0,750.00 L1125.0,750.00 L1126.0,750.00 L1127.0,750.00 L1128.0,750.00 L1129.0,750.00 L1130.0,750.00 L1131.0,750.00 L1132.0,750.00 L1133.0,750.00 L1134.0,750.00 L1135.0,750.00 L1136.0,750.00 L1137.0,750.00 L1138.0,750.00 L1139.0,750.00 L1140.0,750.00 L1141.0,750.00 L1142.0,750.00 L1143.0,750.00 L1144.0,750.00 L1145.0,750.00 L1146.0,750.00 L1147.0,750.00 L1148.0,750.00 L1149.0,750.00 L1150.0,750.00 L1151.0,750.00 L1152.0,750.00 L1153.0,750.00 L1154.0,750.00 L1155.0,750.00 L1156.0,750.00 L1157.0,750.00 L1158.0,750.00 L1159.0,750.00 L1160.0,750.00 L1161.0,750.00 L1162.0,750.00 L1163.0,750.00 L1164.0,750.00 L1165.0,750.00 L1166.0,750.00 L1167.0,750.00 L1168.0,750.00 L1169.0,750.00 L1170.0,750.00 L1171.0,750.00 L1172.0,750.00 L1173.0,750.00 L1174.0,750.00 L1175.0,750.00 L1176.0,750.00 L1177.0,750.00 L1178.0,750.00 L1179.0,750.00 L1180.0,750.00 L1181.0,750.00 L1182.0,750.00 L1183.0,750.00 L1184.0,750.00 L1185.0,750.00 L1186.0,750.00 L1187.0,750.00 L1188.0,750.00 L1189.0,750.00 L1190.0,750.00 L1191.0,750.00 L1192.0,750.00 L1193.0,750.00 L1194.0,750.00 L1195.0,750.00 L1196.0,750.00 L1197.0,750.00 L1198.0,750.00 L1199.0,750.00 L1200.0,750.00 L1201.0,750.00 L1202.0,750.00 L1203.0,750.00 L1204.0,750.00 L1205.0,750.00 L1206.0,750.00 L1207.0,750.00 L1208.0,750.00 L1209.0,750.00 L1210.0,750.00 L1211.0,750.00 L1212.0,750.00 L1213.0,750.00 L1214.0,750.00 L1215.0,750.00 L1216.0,750.00 L1217.0,750.00 L1218.0,750.00 L1219.0,750.00 L1220.0,750.00 L1221.0,750.00 L1222.0,750.00 L1223.0,750.00 L1224.0,750.00 L1225.0,750.00 L1226.0,750.00 L1227.0,750.00 L1228.0,750.00 L1229.0,750.00 L1230.0,750.00 L1231.0,750.00 L1232.0,750.00 L1233.0,750.00 L1234.0,750.00 L1235.0,750.00 L1236.0,750.00 L1237.0,750.00 L1238.0,750.00 L1239.0,750.00 L1240.0,749.99 L1241.0,749.99 L1242.0,749.98 L1243.0,749.96 L1244.0,749.93 L1245.0,749.88 L1246.0,749.81 L1247.0,749.69 L1248.0,749.52 L1249.0,749.27 L1250.0,748.91 L1251.0,748.41 L1252.0,747.73 L1253.0,746.83 L1254.0,745.67 L1255.0,744.22 L1256.0,742.46 L1257.0,740.39 L1258.0,738.03 L1259.0,735.42 L1260.0,732.64 L1261.0,729.79 L1262.0,727.00 L1263.0,724.38 L1264.0,721.62 L1265.0,718.63 L1266.0,715.41 L1267.0,711.96 L1268.0,708.25 L1269.0,704.29 L1270.0,700.07 L1271.0,695.59 L1272.0,690.84 L1273.0,685.83 L1274.0,680.56 L1275.0,675.03 L1276.0,669.25 L1277.0,663.23 L1278.0,656.98 L1279.0,650.51 L1280.0,643.84 L1281.0,636.98 L1282.0,629.97 L1283.0,622.81 L1284.0,615.55 L1285.0,608.20 L1286.0,600.80 L1287.0,593.38 L1288.0,585.97 L1289.0,578.62 L1290.0,571.35 L1291.0,564.21 L1292.0,557.24 L1293.0,550.47 L1294.0,543.87 L1295.0,537.18 L1296.0,530.40 L1297.0,523.54 L1298.0,516.60 L1299.0,509.59 L1300.0,502.51 L1301.0,495.36 L1302.0,488.16 L1303.0,480.92 L1304.0,473.63 L1305.0,466.31 L1306.0,458.96 L1307.0,451.59 L1308.0,444.22 L1309.0,436.84 L1310.0,429.47 L1311.0,422.12 L1312.0,414.79 L1313.0,407.49 L1314.0,400.24 L1315.0,393.04 L1316.0,385.90 L1317.0,378.84 L1318.0,371.85 L1319.0,364.96 L1320.0,358.17 L1321.0,351.48 L1322.0,344.92 L1323.0,338.49 L1324.0,332.19 L1325.0,326.04 L1326.0,320.06 L1327.0,314.24 L1328.0,308.59 L1329.0,303.13 L1330.0,297.86 L1331.0,292.80 L1332.0,287.94 L1333.0,283.31 L1334.0,278.89 L1335.0,274.72 L1336.0,270.78 L1337.0,267.08 L1338.0,263.64 L1339.0,260.46 L1340.0,257.54 L1341.0,254.89 L1342.0,252.51 L1343.0,250.41 L1344.0,248.59 L1345.0,247.06 L1346.0,245.81 L1347.0,244.84 L1348.0,244.17 L1349.0,243.79 L1350.0,243.71 L1351.0,243.91 L1352.0,244.39 L1353.0,245.16 L1354.0,246.21 L1355.0,247.54 L1356.0,249.16 L1357.0,251.04 L1358.0,253.20 L1359.0,255.64 L1360.0,258.33 L1361.0,261.29 L1362.0,264.50 L1363.0,267.96 L1364.0,271.67 L1365.0,275.62 L1366.0,279.80 L1367.0,284.20 L1368.0,288.83 L1369.0,293.66 L1370.0,298.70 L1371.0,303.94 L1372.0,309.36 L1373.0,314.97 L1374.0,320.74 L1375.0,326.67 L1376.0,332.76 L1377.0,339.00 L1378.0,345.36 L1379.0,351.86 L1380.0,358.47 L1381.0,365.18 L1382.0,372.00 L1383.0,378.90 L1384.0,385.89 L1385.0,392.94 L1386.0,400.05 L1387.0,407.22 L1388.0,414.43 L1389.0,421.67 L1390.0,428.93 L1391.0,436.22 L1392.0,443.51 L1393.0,450.80 L1394.0,458.08 L1395.0,465.34 L1396.0,472.58 L1397.0,479.79 L1398.0,486.96 L1399.0,494.08 L1400.0,501.15 L1401.0,508.16 L1402.0,515.11 L1403.0,521.98 L1404.0,528.78 L1405.0,535.50 L1406.0,542.13 L1407.0,548.78 L1408.0,555.71 L1409.0,562.92 L1410.0,570.33 L1411.0,577.92 L1412.0,585.63 L1413.0,593.41 L1414.0,601.22 L1415.0,609.03 L1416.0,616.78 L1417.0,624.44 L1418.0,631.98 L1419.0,639.36 L1420.0,646.56 L1421.0,653.55 L1422.0,660.31 L1423.0,666.82 L1424.0,673.06 L1425.0,679.03 L1426.0,684.70 L1427.0,690.09 L1428.0,695.18 L1429.0,699.97 L1430.0,704.46 L1431.0,708.66 L1432.0,712.58 L1433.0,716.21 L1434.0,719.57 L1435.0,722.68 L1436.0,725.53 L1437.0,728.14 L1438.0,730.52 L1439.0,732.70 L1440.0,734.67 L1441.0,736.45 L1442.0,738.06 L1443.0,739.50 L1444.0,740.79 L1445.0,741.95 L1446.0,742.98 L1447.0,743.89 L1448.0,744.69 L1449.0,745.40 L1450.0,746.03 L1451.0,746.57 L1452.0,747.05 L1453.0,747.45 L1454.0,747.81 L1455.0,748.11 L1456.0,748.36 L1457.0,748.57 L1458.0,748.74 L1459.0,748.88 L1460.0,748.98 L1461.0,749.05 L1462.0,749.08 L1463.0,749.09 L1464.0,749.07 L1465.0,749.01 L1466.0,748.92 L1467.0,748.80 L1468.0,748.63 L1469.0,748.43 L1470.0,748.17 L1471.0,747.86 L1472.0,747.49 L1473.0,747.06 L1474.0,746.55 L1475.0,745.95 L1476.0,745.26 L1477.0,744.46 L1478.0,743.54 L1479.0,742.50 L1480.0,741.31 L1481.0,739.96 L1482.0,738.43 L1483.0,736.72 L1484.0,734.79 L1485.0,732.65 L1486.0,730.26 L1487.0,727.61 L1488.0,724.69 L1489.0,721.48 L1490.0,717.96 L1491.0,714.12 L1492.0,709.95 L1493.0,705.44 L1494.0,700.57 L1495.0,695.35 L1496.0,689.76 L1497.0,683.82 L1498.0,677.52 L1499.0,670.87 L1500.0,663.89 L1501.0,656.59 L1502.0,648.99 L1503.0,641.11 L1504.0,633.00 L1505.0,624.68 L1506.0,616.19 L1507.0,607.58 L1508.0,598.90 L1509.0,590.20 L1510.0,581.53 L1511.0,572.95 L1512.0,564.53 L1513.0,556.32 L1514.0,548.39 L1515.0,540.80 L1516.0,533.39 L1517.0,525.90 L1518.0,518.35 L1519.0,510.75 L1520.0,503.10 L1521.0,495.43 L1522.0,487.73 L1523.0,480.03 L1524.0,472.34 L1525.0,464.67 L1526.0,457.03 L1527.0,449.43 L1528.0,441.90 L1529.0,434.45 L1530.0,427.09 L1531.0,419.83 L1532.0,412.69 L1533.0,405.69 L1534.0,398.83 L1535.0,392.14 L1536.0,385.63 L1537.0,379.31 L1538.0,373.20 L1539.0,367.30 L1540.0,361.64 L1541.0,356.23 L1542.0,351.08 L1543.0,346.20 L1544.0,341.60 L1545.0,337.29 L1546.0,333.29 L1547.0,329.61 L1548.0,326.24 L1549.0,323.21 L1550.0,320.52 L1551.0,318.17 L1552.0,316.17 L1553.0,314.53 L1554.0,313.25 L1555.0,312.33 L1556.0,311.78 L1557.0,311.60 L1558.0,311.77 L1559.0,312.27 L1560.0,313.10 L1561.0,314.26 L1562.0,315.74 L1563.0,317.55 L1564.0,319.68 L1565.0,322.13 L1566.0,324.88 L1567.0,327.94 L1568.0,331.29 L1569.0,334.93 L1570.0,338.85 L1571.0,343.05 L1572.0,347.51 L1573.0,352.22 L1574.0,357.17 L1575.0,362.36 L1576.0,367.77 L1577.0,373.39 L1578.0,379.21 L1579.0,385.21 L1580.0,391.40 L1581.0,397.74 L1582.0,404.24 L1583.0,410.87 L1584.0,417.63 L1585.0,424.50 L1586.0,431.47 L1587.0,438.53 L1588.0,445.66 L1589.0,452.86 L1590.0,460.10 L1591.0,467.38 L1592.0,474.69 L1593.0,482.02 L1594.0,489.35 L1595.0,496.67 L1596.0,503.97 L1597.0,511.24 L1598.0,518.47 L1599.0,525.66 L1600.0,532.79 L1601.0,539.85 L1602.0,546.83 L1603.0,553.73 L1604.0,560.71 L1605.0,568.12 L1606.0,575.91 L1607.0,583.99 L1608.0,592.29 L1609.0,600.75 L1610.0,609.29 L1611.0,617.85 L1612.0,626.35 L1613.0,634.75 L1614.0,642.99 L1615.0,651.01 L1616.0,658.78 L1617.0,666.25 L1618.0,673.41 L1619.0,680.22 L1620.0,686.66 L1621.0,692.73 L1622.0,698.42 L1623.0,703.71 L1624.0,708.62 L1625.0,713.15 L1626.0,717.31 L1627.0,721.11 L1628.0,724.56 L1629.0,727.69 L1630.0,730.50 L1631.0,733.03 L1632.0,735.28 L1633.0,737.28 L1634.0,739.06 L1635.0,740.62 L1636.0,741.99 L1637.0,743.18 L1638.0,744.22 L1639.0,745.12 L1640.0,745.89 L1641.0,746.56 L1642.0,747.13 L1643.0,747.61 L1644.0,748.02 L1645.0,748.37 L1646.0,748.66 L1647.0,748.90 L1648.0,749.10 L1649.0,749.27 L1650.0,749.41 L1651.0,749.52 L1652.0,749.62 L1653.0,749.69 L1654.0,749.76 L1655.0,749.81 L1656.0,749.85 L1657.0,749.88 L1658.0,749.90 L1659.0,749.93 L1660.0,749.94 L1661.0,749.95 L1662.0,749.97 L1663.0,749.97 L1664.0,749.98 L1665.0,749.98 L1666.0,749.99"/><path d="M790.0,750.00 L791.0,750.00 L792.0,750.00 L793.0,750.00 L794.0,750.00 L795.0,750.00 L796.0,750.00 L797.0,750.00 L798.0,750.00 L799.0,750.00 L800.0,750.00 L801.0,750.00 L802.0,750.00 L803.0,750.00 L804.0,750.00 L805.0,750.00 L806.0,750.00 L807.0,750.00 L808.0,750.00 L809.0,750.00 L810.0,750.00 L811.0,750.00 L812.0,750.00 L813.0,750.00 L814.0,750.00 L815.0,750.00 L816.0,750.00 L817.0,750.00 L818.0,750.00 L819.0,750.00 L820.0,750.00 L821.0,750.00 L822.0,750.00 L823.0,750.00 L824.0,750.00 L825.0,750.00 L826.0,750.00 L827.0,750.00 L828.0,750.00 L829.0,750.00 L830.0,750.00 L831.0,750.00 L832.0,750.00 L833.0,750.00 L834.0,750.00 L835.0,750.00 L836.0,750.00 L837.0,750.00 L838.0,750.00 L839.0,750.00 L840.0,750.00 L841.0,750.00 L842.0,750.00 L843.0,750.00 L844.0,750.00 L845.0,750.00 L846.0,750.00 L847.0,750.00 L848.0,750.00 L849.0,750.00 L850.0,750.00 L851.0,750.00 L852.0,750.00 L853.0,750.00 L854.0,750.00 L855.0,750.00 L856.0,750.00 L857.0,750.00 L858.0,750.00 L859.0,750.00 L860.0,750.00 L861.0,750.00 L862.0,750.00 L863.0,750.00 L864.0,750.00 L865.0,750.00 L866.0,750.00 L867.0,750.00 L868.0,750.00 L869.0,750.00 L870.0,750.00 L871.0,750.00 L872.0,750.00 L873.0,750.00 L874.0,750.00 L875.0,750.00 L876.0,750.00 L877.0,750.00 L878.0,750.00 L879.0,749.99 L880.0,749.99 L881.0,749.98 L882.0,749.96 L883.0,749.94 L884.0,749.90 L885.0,749.85 L886.0,749.76 L887.0,749.64 L888.0,749.47 L889.0,749.21 L890.0,748.86 L891.0,748.38 L892.0,747.72 L893.0,746.85 L894.0,745.73 L895.0,744.29 L896.0,742.49 L897.0,740.29 L898.0,737.63 L899.0,734.50 L900.0,730.89 L901.0,726.82 L902.0,722.33 L903.0,717.49 L904.0,712.42 L905.0,707.25 L906.0,702.14 L907.0,697.16 L908.0,691.87 L909.0,686.18 L910.0,680.08 L911.0,673.57 L912.0,666.63 L913.0,659.26 L914.0,651.45 L915.0,643.20 L916.0,634.51 L917.0,625.38 L918.0,615.82 L919.0,605.85 L920.0,595.46 L921.0,584.69 L922.0,573.55 L923.0,562.06 L924.0,550.26 L925.0,538.18 L926.0,525.86 L927.0,513.33 L928.0,500.64 L929.0,487.84 L930.0,474.98 L931.0,462.12 L932.0,449.30 L933.0,436.60 L934.0,424.06 L935.0,411.76 L936.0,399.75 L937.0,388.10 L938.0,376.87 L939.0,366.13 L940.0,355.93 L941.0,346.34 L942.0,337.41 L943.0,329.19 L944.0,321.74 L945.0,314.96 L946.0,308.36 L947.0,301.93 L948.0,295.68 L949.0,289.60 L950.0,283.71 L951.0,278.02 L952.0,272.55 L953.0,267.29 L954.0,262.25 L955.0,257.45 L956.0,252.90 L957.0,248.59 L958.0,244.54 L959.0,240.75 L960.0,237.24 L961.0,234.00 L962.0,231.05 L963.0,228.38 L964.0,226.00 L965.0,223.92 L966.0,222.14 L967.0,220.66 L968.0,219.49 L969.0,218.62 L970.0,218.06 L971.0,217.81 L972.0,217.89 L973.0,218.31 L974.0,219.08 L975.0,220.20 L976.0,221.67 L977.0,223.48 L978.0,225.63 L979.0,228.11 L980.0,230.93 L981.0,234.07 L982.0,237.53 L983.0,241.30 L984.0,245.38 L985.0,249.76 L986.0,254.43 L987.0,259.37 L988.0,264.59 L989.0,270.07 L990.0,275.80 L991.0,281.77 L992.0,287.97 L993.0,294.39 L994.0,301.02 L995.0,307.84 L996.0,314.84 L997.0,322.02 L998.0,329.36 L999.0,336.84 L1000.0,344.46 L1001.0,352.20 L1002.0,360.05 L1003.0,368.00 L1004.0,376.03 L1005.0,384.13 L1006.0,392.30 L1007.0,400.51 L1008.0,408.76 L1009.0,417.04 L1010.0,425.33 L1011.0,433.62 L1012.0,441.90 L1013.0,450.17 L1014.0,458.40 L1015.0,466.60 L1016.0,474.75 L1017.0,482.84 L1018.0,490.86 L1019.0,498.81 L1020.0,506.67 L1021.0,514.44 L1022.0,522.12 L1023.0,529.69 L1024.0,537.15 L1025.0,544.50 L1026.0,551.72 L1027.0,558.81 L1028.0,565.77 L1029.0,572.60 L1030.0,579.28 L1031.0,585.82 L1032.0,592.22 L1033.0,598.46 L1034.0,604.56 L1035.0,610.50 L1036.0,616.29 L1037.0,621.92 L1038.0,627.39 L1039.0,632.71 L1040.0,637.87 L1041.0,642.88 L1042.0,647.73 L1043.0,652.42 L1044.0,656.96 L1045.0,661.35 L1046.0,665.59 L1047.0,669.67 L1048.0,673.61 L1049.0,677.41 L1050.0,681.06 L1051.0,684.57 L1052.0,687.94 L1053.0,691.18 L1054.0,694.29 L1055.0,697.26 L1056.0,700.11 L1057.0,702.84 L1058.0,705.45 L1059.0,707.94 L1060.0,710.32 L1061.0,712.59 L1062.0,714.75 L1063.0,716.81 L1064.0,718.77 L1065.0,720.63 L1066.0,722.40 L1067.0,724.08 L1068.0,725.68 L1069.0,727.19 L1070.0,728.62 L1071.0,729.97 L1072.0,731.29 L1073.0,732.62 L1074.0,733.95 L1075.0,735.26 L1076.0,736.54 L1077.0,737.78 L1078.0,738.96 L1079.0,740.09 L1080.0,741.16 L1081.0,742.15 L1082.0,743.07 L1083.0,743.92 L1084.0,744.69 L1085.0,745.40 L1086.0,746.03 L1087.0,746.59 L1088.0,747.09 L1089.0,747.53 L1090.0,747.92 L1091.0,748.26 L1092.0,748.55 L1093.0,748.79 L1094.0,749.01 L1095.0,749.18 L1096.0,749.34 L1097.0,749.46 L1098.0,749.57 L1099.0,749.65 L1100.0,749.72 L1101.0,749.78 L1102.0,749.83 L1103.0,749.86 L1104.0,749.89 L1105.0,749.92 L1106.0,749.94 L1107.0,749.95 L1108.0,749.96 L1109.0,749.97 L1110.0,749.98 L1111.0,749.98 L1112.0,749.99 L1113.0,749.99 L1114.0,749.99 L1115.0,750.00 L1116.0,750.00 L1117.0,750.00 L1118.0,750.00 L1119.0,750.00 L1120.0,750.00 L1121.0,750.00 L1122.0,750.00 L1123.0,750.00 L1124.0,750.00 L1125.0,750.00 L1126.0,750.00 L1127.0,750.00 L1128.0,750.00 L1129.0,750.00 L1130.0,750.00 L1131.0,750.00 L1132.0,750.00 L1133.0,750.00 L1134.0,750.00 L1135.0,750.00 L1136.0,750.00 L1137.0,750.00 L1138.0,750.00 L1139.0,750.00 L1140.0,750.00 L1141.0,750.00 L1142.0,750.00 L1143.0,750.00 L1144.0,750.00 L1145.0,750.00 L1146.0,750.00 L1147.0,750.00 L1148.0,750.00 L1149.0,750.00 L1150.0,750.00 L1151.0,750.00 L1152.0,750.00 L1153.0,750.00 L1154.0,750.00 L1155.0,750.00 L1156.0,750.00 L1157.0,750.00 L1158.0,750.00 L1159.0,750.00 L1160.0,750.00 L1161.0,750.00 L1162.0,750.00 L1163.0,750.00 L1164.0,750.00 L1165.0,750.00 L1166.0,750.00 L1167.0,750.00 L1168.0,750.00 L1169.0,750.00 L1170.0,750.00 L1171.0,750.00 L1172.0,750.00 L1173.0,750.00 L1174.0,750.00 L1175.0,750.00 L1176.0,750.00 L1177.0,750.00 L1178.0,750.00 L1179.0,750.00 L1180.0,750.00 L1181.0,750.00 L1182.0,750.00 L1183.0,750.00 L1184.0,750.00 L1185.0,750.00 L1186.0,750.00 L1187.0,750.00 L1188.0,750.00 L1189.0,750.00 L1190.0,750.00 L1191.0,750.00 L1192.0,750.00 L1193.0,750.00 L1194.0,750.00 L1195.0,750.00 L1196.0,750.00 L1197.0,750.00 L1198.0,750.00 L1199.0,750.00 L1200.0,750.00 L1201.0,750.00 L1202.0,750.00 L1203.0,750.00 L1204.0,750.00 L1205.0,750.00 L1206.0,750.00 L1207.0,750.00 L1208.0,750.00 L1209.0,750.00 L1210.0,750.00 L1211.0,750.00 L1212.0,750.00 L1213.0,750.00 L1214.0,750.00 L1215.0,750.00 L1216.0,750.00 L1217.0,750.00 L1218.0,750.00 L1219.0,750.00 L1220.0,750.00 L1221.0,750.00 L1222.0,750.00 L1223.0,750.00 L1224.0,750.00 L1225.0,750.00 L1226.0,750.00 L1227.0,750.00 L1228.0,750.00 L1229.0,750.00 L1230.0,750.00 L1231.0,750.00 L1232.0,750.00 L1233.0,750.00 L1234.0,750.00 L1235.0,750.00 L1236.0,750.00 L1237.0,750.00 L1238.0,750.00 L1239.0,750.00 L1240.0,749.99 L1241.0,749.99 L1242.0,749.98 L1243.0,749.96 L1244.0,749.94 L1245.0,749.90 L1246.0,749.83 L1247.0,749.73 L1248.0,749.57 L1249.0,749.34 L1250.0,749.01 L1251.0,748.53 L1252.0,747.89 L1253.0,747.02 L1254.0,745.90 L1255.0,744.47 L1256.0,742.71 L1257.0,740.61 L1258.0,738.18 L1259.0,735.44 L1260.0,732.46 L1261.0,729.35 L1262.0,726.23 L1263.0,723.24 L1264.0,720.33 L1265.0,717.18 L1266.0,713.78 L1267.0,710.13 L1268.0,706.20 L1269.0,702.01 L1270.0,697.53 L1271.0,692.76 L1272.0,687.71 L1273.0,682.37 L1274.0,676.74 L1275.0,670.83 L1276.0,664.63 L1277.0,658.17 L1278.0,651.44 L1279.0,644.46 L1280.0,637.25 L1281.0,629.83 L1282.0,622.22 L1283.0,614.44 L1284.0,606.51 L1285.0,598.48 L1286.0,590.36 L1287.0,582.20 L1288.0,574.03 L1289.0,565.89 L1290.0,557.82 L1291.0,549.85 L1292.0,542.04 L1293.0,534.43 L1294.0,527.05 L1295.0,519.76 L1296.0,512.37 L1297.0,504.88 L1298.0,497.30 L1299.0,489.64 L1300.0,481.89 L1301.0,474.07 L1302.0,466.19 L1303.0,458.25 L1304.0,450.26 L1305.0,442.22 L1306.0,434.15 L1307.0,426.05 L1308.0,417.94 L1309.0,409.82 L1310.0,401.69 L1311.0,393.58 L1312.0,385.49 L1313.0,377.42 L1314.0,369.39 L1315.0,361.42 L1316.0,353.50 L1317.0,345.65 L1318.0,337.89 L1319.0,330.21 L1320.0,322.64 L1321.0,315.17 L1322.0,307.83 L1323.0,300.62 L1324.0,293.56 L1325.0,286.65 L1326.0,279.90 L1327.0,273.33 L1328.0,266.94 L1329.0,260.75 L1330.0,254.76 L1331.0,248.98 L1332.0,243.42 L1333.0,238.10 L1334.0,233.01 L1335.0,228.18 L1336.0,223.59 L1337.0,219.27 L1338.0,215.23 L1339.0,211.45 L1340.0,207.97 L1341.0,204.77 L1342.0,201.86 L1343.0,199.26 L1344.0,196.95 L1345.0,194.96 L1346.0,193.28 L1347.0,191.91 L1348.0,190.85 L1349.0,190.12 L1350.0,189.70 L1351.0,189.61 L1352.0,189.83 L1353.0,190.36 L1354.0,191.20 L1355.0,192.35 L1356.0,193.81 L1357.0,195.58 L1358.0,197.65 L1359.0,200.02 L1360.0,202.68 L1361.0,205.63 L1362.0,208.87 L1363.0,212.40 L1364.0,216.19 L1365.0,220.26 L1366.0,224.58 L1367.0,229.17 L1368.0,234.00 L1369.0,239.07 L1370.0,244.37 L1371.0,249.90 L1372.0,255.64 L1373.0,261.59 L1374.0,267.74 L1375.0,274.08 L1376.0,280.59 L1377.0,287.28 L1378.0,294.12 L1379.0,301.11 L1380.0,308.24 L1381.0,315.50 L1382.0,322.88 L1383.0,330.37 L1384.0,337.96 L1385.0,345.64 L1386.0,353.39 L1387.0,361.21 L1388.0,369.09 L1389.0,377.02 L1390.0,384.99 L1391.0,392.99 L1392.0,401.01 L1393.0,409.03 L1394.0,417.06 L1395.0,425.08 L1396.0,433.08 L1397.0,441.06 L1398.0,449.01 L1399.0,456.92 L1400.0,464.77 L1401.0,472.58 L1402.0,480.31 L1403.0,487.98 L1404.0,495.58 L1405.0,503.09 L1406.0,510.51 L1407.0,517.84 L1408.0,525.11 L1409.0,532.66 L1410.0,540.51 L1411.0,548.61 L1412.0,556.92 L1413.0,565.37 L1414.0,573.92 L1415.0,582.52 L1416.0,591.12 L1417.0,599.68 L1418.0,608.15 L1419.0,616.51 L1420.0,624.70 L1421.0,632.70 L1422.0,640.49 L1423.0,648.02 L1424.0,655.29 L1425.0,662.28 L1426.0,668.97 L1427.0,675.34 L1428.0,681.40 L1429.0,687.13 L1430.0,692.53 L1431.0,697.61 L1432.0,702.37 L1433.0,706.81 L1434.0,710.94 L1435.0,714.77 L1436.0,718.31 L1437.0,721.57 L1438.0,724.56 L1439.0,727.29 L1440.0,729.79 L1441.0,732.06 L1442.0,734.11 L1443.0,735.97 L1444.0,737.64 L1445.0,739.14 L1446.0,740.49 L1447.0,741.68 L1448.0,742.75 L1449.0,743.69 L1450.0,744.52 L1451.0,745.26 L1452.0,745.90 L1453.0,746.45 L1454.0,746.94 L1455.0,747.35 L1456.0,747.71 L1457.0,748.01 L1458.0,748.26 L1459.0,748.46 L1460.0,748.62 L1461.0,748.74 L1462.0,748.82 L1463.0,748.87 L1464.0,748.87 L1465.0,748.84 L1466.0,748.78 L1467.0,748.67 L1468.0,748.52 L1469.0,748.32 L1470.0,748.07 L1471.0,747.77 L1472.0,747.41 L1473.0,746.97 L1474.0,746.46 L1475.0,745.86 L1476.0,745.16 L1477.0,744.35 L1478.0,743.42 L1479.0,742.36 L1480.0,741.15 L1481.0,739.78 L1482.0,738.23 L1483.0,736.48 L1484.0,734.51 L1485.0,732.32 L1486.0,729.87 L1487.0,727.15 L1488.0,724.15 L1489.0,720.84 L1490.0,717.21 L1491.0,713.24 L1492.0,708.92 L1493.0,704.23 L1494.0,699.15 L1495.0,693.69 L1496.0,687.84 L1497.0,681.59 L1498.0,674.94 L1499.0,667.89 L1500.0,660.46 L1501.0,652.66 L1502.0,644.51 L1503.0,636.02 L1504.0,627.23 L1505.0,618.16 L1506.0,608.86 L1507.0,599.37 L1508.0,589.74 L1509.0,580.01 L1510.0,570.24 L1511.0,560.50 L1512.0,550.85 L1513.0,541.34 L1514.0,532.06 L1515.0,523.06 L1516.0,514.41 L1517.0,506.08 L1518.0,497.71 L1519.0,489.27 L1520.0,480.76 L1521.0,472.20 L1522.0,463.60 L1523.0,454.98 L1524.0,446.34 L1525.0,437.71 L1526.0,429.08 L1527.0,420.49 L1528.0,411.95 L1529.0,403.46 L1530.0,395.05 L1531.0,386.73 L1532.0,378.52 L1533.0,370.43 L1534.0,362.48 L1535.0,354.68 L1536.0,347.06 L1537.0,339.62 L1538.0,332.38 L1539.0,325.37 L1540.0,318.58 L1541.0,312.04 L1542.0,305.77 L1543.0,299.77 L1544.0,294.06 L1545.0,288.66 L1546.0,283.57 L1547.0,278.80 L1548.0,274.38 L1549.0,270.30 L1550.0,266.58 L1551.0,263.23 L1552.0,260.25 L1553.0,257.66 L1554.0,255.45 L1555.0,253.64 L1556.0,252.22 L1557.0,251.21 L1558.0,250.60 L1559.0,250.40 L1560.0,250.58 L1561.0,251.14 L1562.0,252.05 L1563.0,253.33 L1564.0,254.98 L1565.0,256.98 L1566.0,259.33 L1567.0,262.03 L1568.0,265.08 L1569.0,268.45 L1570.0,272.16 L1571.0,276.19 L1572.0,280.53 L1573.0,285.17 L1574.0,290.11 L1575.0,295.33 L1576.0,300.81 L1577.0,306.56 L1578.0,312.56 L1579.0,318.80 L1580.0,325.26 L1581.0,331.92 L1582.0,338.79 L1583.0,345.84 L1584.0,353.07 L1585.0,360.45 L1586.0,367.98 L1587.0,375.63 L1588.0,383.40 L1589.0,391.28 L1590.0,399.24 L1591.0,407.28 L1592.0,415.39 L1593.0,423.54 L1594.0,431.72 L1595.0,439.93 L1596.0,448.15 L1597.0,456.37 L1598.0,464.58 L1599.0,472.76 L1600.0,480.90 L1601.0,489.00 L1602.0,497.04 L1603.0,505.01 L1604.0,512.90 L1605.0,520.71 L1606.0,528.43 L1607.0,536.38 L1608.0,544.81 L1609.0,553.62 L1610.0,562.75 L1611.0,572.11 L1612.0,581.62 L1613.0,591.21 L1614.0,600.80 L1615.0,610.33 L1616.0,619.73 L1617.0,628.95 L1618.0,637.93 L1619.0,646.62 L1620.0,654.99 L1621.0,663.00 L1622.0,670.63 L1623.0,677.85 L1624.0,684.66 L1625.0,691.05 L1626.0,697.00 L1627.0,702.53 L1628.0,707.64 L1629.0,712.34 L1630.0,716.64 L1631.0,720.56 L1632.0,724.11 L1633.0,727.32 L1634.0,730.20 L1635.0,732.78 L1636.0,735.08 L1637.0,737.12 L1638.0,738.92 L1639.0,740.51 L1640.0,741.89 L1641.0,743.10 L1642.0,744.16 L1643.0,745.06 L1644.0,745.85 L1645.0,746.52 L1646.0,747.09 L1647.0,747.58 L1648.0,747.99 L1649.0,748.34 L1650.0,748.64 L1651.0,748.88 L1652.0,749.09 L1653.0,749.26 L1654.0,749.40 L1655.0,749.51 L1656.0,749.61 L1657.0,749.69 L1658.0,749.75 L1659.0,749.80 L1660.0,749.84 L1661.0,749.87 L1662.0,749.90 L1663.0,749.92 L1664.0,749.94 L1665.0,749.95 L1666.0,749.96"/><path d="M790.0,750.00 L791.0,750.00 L792.0,750.00 L793.0,750.00 L794.0,750.00 L795.0,750.00 L796.0,750.00 L797.0,750.00 L798.0,750.00 L799.0,750.00 L800.0,750.00 L801.0,750.00 L802.0,750.00 L803.0,750.00 L804.0,750.00 L805.0,750.00 L806.0,750.00 L807.0,750.00 L808.0,750.00 L809.0,750.00 L810.0,750.00 L811.0,750.00 L812.0,750.00 L813.0,750.00 L814.0,750.00 L815.0,750.00 L816.0,750.00 L817.0,750.00 L818.0,750.00 L819.0,750.00 L820.0,750.00 L821.0,750.00 L822.0,750.00 L823.0,750.00 L824.0,750.00 L825.0,750.00 L826.0,750.00 L827.0,750.00 L828.0,750.00 L829.0,750.00 L830.0,750.00 L831.0,750.00 L832.0,750.00 L833.0,750.00 L834.0,750.00 L835.0,750.00 L836.0,750.00 L837.0,750.00 L838.0,750.00 L839.0,750.00 L840.0,750.00 L841.0,750.00 L842.0,750.00 L843.0,750.00 L844.0,750.00 L845.0,750.00 L846.0,750.00 L847.0,750.00 L848.0,750.00 L849.0,750.00 L850.0,750.00 L851.0,750.00 L852.0,750.00 L853.0,750.00 L854.0,750.00 L855.0,750.00 L856.0,750.00 L857.0,750.00 L858.0,750.00 L859.0,750.00 L860.0,750.00 L861.0,750.00 L862.0,750.00 L863.0,750.00 L864.0,750.00 L865.0,750.00 L866.0,750.00 L867.0,750.00 L868.0,750.00 L869.0,750.00 L870.0,750.00 L871.0,750.00 L872.0,750.00 L873.0,750.00 L874.0,750.00 L875.0,750.00 L876.0,750.00 L877.0,750.00 L878.0,749.99 L879.0,749.99 L880.0,749.98 L881.0,749.97 L882.0,749.96 L883.0,749.93 L884.0,749.89 L885.0,749.82 L886.0,749.72 L887.0,749.58 L888.0,749.37 L889.0,749.08 L890.0,748.68 L891.0,748.12 L892.0,747.37 L893.0,746.38 L894.0,745.10 L895.0,743.47 L896.0,741.43 L897.0,738.94 L898.0,735.96 L899.0,732.45 L900.0,728.42 L901.0,723.89 L902.0,718.90 L903.0,713.55 L904.0,707.97 L905.0,702.29 L906.0,696.72 L907.0,691.24 L908.0,685.37 L909.0,679.08 L910.0,672.34 L911.0,665.14 L912.0,657.47 L913.0,649.33 L914.0,640.71 L915.0,631.61 L916.0,622.02 L917.0,611.96 L918.0,601.43 L919.0,590.44 L920.0,579.00 L921.0,567.14 L922.0,554.88 L923.0,542.25 L924.0,529.27 L925.0,515.99 L926.0,502.45 L927.0,488.69 L928.0,474.76 L929.0,460.71 L930.0,446.60 L931.0,432.48 L932.0,418.43 L933.0,404.50 L934.0,390.76 L935.0,377.28 L936.0,364.13 L937.0,351.38 L938.0,339.09 L939.0,327.34 L940.0,316.19 L941.0,305.71 L942.0,295.95 L943.0,286.98 L944.0,278.85 L945.0,271.43 L946.0,264.21 L947.0,257.16 L948.0,250.30 L949.0,243.64 L950.0,237.19 L951.0,230.96 L952.0,224.96 L953.0,219.20 L954.0,213.68 L955.0,208.43 L956.0,203.44 L957.0,198.72 L958.0,194.28 L959.0,190.14 L960.0,186.29 L961.0,182.74 L962.0,179.51 L963.0,176.58 L964.0,173.98 L965.0,171.70 L966.0,169.75 L967.0,168.13 L968.0,166.85 L969.0,165.90 L970.0,165.29 L971.0,165.02 L972.0,165.09 L973.0,165.56 L974.0,166.40 L975.0,167.63 L976.0,169.23 L977.0,171.21 L978.0,173.57 L979.0,176.29 L980.0,179.38 L981.0,182.82 L982.0,186.61 L983.0,190.74 L984.0,195.21 L985.0,200.00 L986.0,205.11 L987.0,210.53 L988.0,216.25 L989.0,222.25 L990.0,228.53 L991.0,235.07 L992.0,241.86 L993.0,248.89 L994.0,256.16 L995.0,263.63 L996.0,271.31 L997.0,279.17 L998.0,287.21 L999.0,295.42 L1000.0,303.77 L1001.0,312.25 L1002.0,320.86 L1003.0,329.57 L1004.0,338.38 L1005.0,347.27 L1006.0,356.22 L1007.0,365.23 L1008.0,374.28 L1009.0,383.36 L1010.0,392.45 L1011.0,401.55 L1012.0,410.64 L1013.0,419.71 L1014.0,428.74 L1015.0,437.74 L1016.0,446.68 L1017.0,455.56 L1018.0,464.37 L1019.0,473.10 L1020.0,481.74 L1021.0,490.28 L1022.0,498.71 L1023.0,507.03 L1024.0,515.22 L1025.0,523.29 L1026.0,531.23 L1027.0,539.03 L1028.0,546.68 L1029.0,554.18 L1030.0,561.54 L1031.0,568.73 L1032.0,575.76 L1033.0,582.64 L1034.0,589.34 L1035.0,595.88 L1036.0,602.25 L1037.0,608.45 L1038.0,614.48 L1039.0,620.34 L1040.0,626.02 L1041.0,631.54 L1042.0,636.88 L1043.0,642.05 L1044.0,647.06 L1045.0,651.89 L1046.0,656.57 L1047.0,661.07 L1048.0,665.42 L1049.0,669.60 L1050.0,673.63 L1051.0,677.51 L1052.0,681.23 L1053.0,684.81 L1054.0,688.24 L1055.0,691.52 L1056.0,694.67 L1057.0,697.69 L1058.0,700.57 L1059.0,703.32 L1060.0,705.95 L1061.0,708.46 L1062.0,710.85 L1063.0,713.13 L1064.0,715.30 L1065.0,717.36 L1066.0,719.32 L1067.0,721.18 L1068.0,722.95 L1069.0,724.62 L1070.0,726.21 L1071.0,727.71 L1072.0,729.16 L1073.0,730.62 L1074.0,732.08 L1075.0,733.52 L1076.0,734.93 L1077.0,736.30 L1078.0,737.61 L1079.0,738.86 L1080.0,740.04 L1081.0,741.15 L1082.0,742.18 L1083.0,743.13 L1084.0,743.99 L1085.0,744.78 L1086.0,745.49 L1087.0,746.12 L1088.0,746.69 L1089.0,747.19 L1090.0,747.62 L1091.0,748.00 L1092.0,748.33 L1093.0,748.62 L1094.0,748.86 L1095.0,749.06 L1096.0,749.23 L1097.0,749.38 L1098.0,749.50 L1099.0,749.60 L1100.0,749.68 L1101.0,749.74 L1102.0,749.80 L1103.0,749.84 L1104.0,749.88 L1105.0,749.90 L1106.0,749.93 L1107.0,749.94 L1108.0,749.96 L1109.0,749.97 L1110.0,749.98 L1111.0,749.98 L1112.0,749.99 L1113.0,749.99 L1114.0,749.99 L1115.0,749.99 L1116.0,750.00 L1117.0,750.00 L1118.0,750.00 L1119.0,750.00 L1120.0,750.00 L1121.0,750.00 L1122.0,750.00 L1123.0,750.00 L1124.0,750.00 L1125.0,750.00 L1126.0,750.00 L1127.0,750.00 L1128.0,750.00 L1129.0,750.00 L1130.0,750.00 L1131.0,750.00 L1132.0,750.00 L1133.0,750.00 L1134.0,750.00 L1135.0,750.00 L1136.0,750.00 L1137.0,750.00 L1138.0,750.00 L1139.0,750.00 L1140.0,750.00 L1141.0,750.00 L1142.0,750.00 L1143.0,750.00 L1144.0,750.00 L1145.0,750.00 L1146.0,750.00 L1147.0,750.00 L1148.0,750.00 L1149.0,750.00 L1150.0,750.00 L1151.0,750.00 L1152.0,750.00 L1153.0,750.00 L1154.0,750.00 L1155.0,750.00 L1156.0,750.00 L1157.0,750.00 L1158.0,750.00 L1159.0,750.00 L1160.0,750.00 L1161.0,750.00 L1162.0,750.00 L1163.0,750.00 L1164.0,750.00 L1165.0,750.00 L1166.0,750.00 L1167.0,750.00 L1168.0,750.00 L1169.0,750.00 L1170.0,750.00 L1171.0,750.00 L1172.0,750.00 L1173.0,750.00 L1174.0,750.00 L1175.0,750.00 L1176.0,750.00 L1177.0,750.00 L1178.0,750.00 L1179.0,750.00 L1180.0,750.00 L1181.0,750.00 L1182.0,750.00 L1183.0,750.00 L1184.0,750.00 L1185.0,750.00 L1186.0,750.00 L1187.0,750.00 L1188.0,750.00 L1189.0,750.00 L1190.0,750.00 L1191.0,750.00 L1192.0,750.00 L1193.0,750.00 L1194.0,750.00 L1195.0,750.00 L1196.0,750.00 L1197.0,750.00 L1198.0,750.00 L1199.0,750.00 L1200.0,750.00 L1201.0,750.00 L1202.0,750.00 L1203.0,750.00 L1204.0,750.00 L1205.0,750.00 L1206.0,750.00 L1207.0,750.00 L1208.0,750.00 L1209.0,750.00 L1210.0,750.00 L1211.0,750.00 L1212.0,750.00 L1213.0,750.00 L1214.0,750.00 L1215.0,750.00 L1216.0,750.00 L1217.0,750.00 L1218.0,750.00 L1219.0,750.00 L1220.0,750.00 L1221.0,750.00 L1222.0,750.00 L1223.0,750.00 L1224.0,750.00 L1225.0,750.00 L1226.0,750.00 L1227.0,750.00 L1228.0,750.00 L1229.0,750.00 L1230.0,750.00 L1231.0,750.00 L1232.0,750.00 L1233.0,750.00 L1234.0,750.00 L1235.0,750.00 L1236.0,750.00 L1237.0,750.00 L1238.0,750.00 L1239.0,750.00 L1240.0,749.99 L1241.0,749.99 L1242.0,749.98 L1243.0,749.97 L1244.0,749.94 L1245.0,749.90 L1246.0,749.84 L1247.0,749.74 L1248.0,749.59 L1249.0,749.37 L1250.0,749.05 L1251.0,748.59 L1252.0,747.95 L1253.0,747.10 L1254.0,745.98 L1255.0,744.55 L1256.0,742.78 L1257.0,740.63 L1258.0,738.12 L1259.0,735.28 L1260.0,732.15 L1261.0,728.83 L1262.0,725.45 L1263.0,722.16 L1264.0,719.05 L1265.0,715.75 L1266.0,712.19 L1267.0,708.35 L1268.0,704.23 L1269.0,699.82 L1270.0,695.11 L1271.0,690.09 L1272.0,684.77 L1273.0,679.13 L1274.0,673.19 L1275.0,666.93 L1276.0,660.38 L1277.0,653.53 L1278.0,646.39 L1279.0,638.98 L1280.0,631.32 L1281.0,623.41 L1282.0,615.29 L1283.0,606.98 L1284.0,598.51 L1285.0,589.89 L1286.0,581.18 L1287.0,572.40 L1288.0,563.60 L1289.0,554.81 L1290.0,546.07 L1291.0,537.43 L1292.0,528.93 L1293.0,520.61 L1294.0,512.54 L1295.0,504.69 L1296.0,496.77 L1297.0,488.75 L1298.0,480.63 L1299.0,472.42 L1300.0,464.11 L1301.0,455.72 L1302.0,447.26 L1303.0,438.74 L1304.0,430.15 L1305.0,421.51 L1306.0,412.84 L1307.0,404.12 L1308.0,395.39 L1309.0,386.64 L1310.0,377.88 L1311.0,369.13 L1312.0,360.40 L1313.0,351.69 L1314.0,343.01 L1315.0,334.39 L1316.0,325.82 L1317.0,317.32 L1318.0,308.90 L1319.0,300.57 L1320.0,292.34 L1321.0,284.23 L1322.0,276.24 L1323.0,268.38 L1324.0,260.68 L1325.0,253.13 L1326.0,245.75 L1327.0,238.56 L1328.0,231.55 L1329.0,224.75 L1330.0,218.16 L1331.0,211.79 L1332.0,205.65 L1333.0,199.75 L1334.0,194.11 L1335.0,188.73 L1336.0,183.61 L1337.0,178.78 L1338.0,174.23 L1339.0,169.97 L1340.0,166.01 L1341.0,162.35 L1342.0,159.01 L1343.0,155.99 L1344.0,153.29 L1345.0,150.92 L1346.0,148.88 L1347.0,147.17 L1348.0,145.80 L1349.0,144.77 L1350.0,144.09 L1351.0,143.74 L1352.0,143.74 L1353.0,144.08 L1354.0,144.75 L1355.0,145.75 L1356.0,147.09 L1357.0,148.76 L1358.0,150.75 L1359.0,153.07 L1360.0,155.71 L1361.0,158.66 L1362.0,161.92 L1363.0,165.49 L1364.0,169.37 L1365.0,173.53 L1366.0,177.98 L1367.0,182.71 L1368.0,187.71 L1369.0,192.98 L1370.0,198.50 L1371.0,204.27 L1372.0,210.28 L1373.0,216.52 L1374.0,222.98 L1375.0,229.65 L1376.0,236.52 L1377.0,243.58 L1378.0,250.81 L1379.0,258.22 L1380.0,265.78 L1381.0,273.50 L1382.0,281.35 L1383.0,289.32 L1384.0,297.41 L1385.0,305.60 L1386.0,313.89 L1387.0,322.26 L1388.0,330.70 L1389.0,339.20 L1390.0,347.75 L1391.0,356.35 L1392.0,364.97 L1393.0,373.61 L1394.0,382.26 L1395.0,390.91 L1396.0,399.55 L1397.0,408.18 L1398.0,416.77 L1399.0,425.33 L1400.0,433.84 L1401.0,442.31 L1402.0,450.71 L1403.0,459.04 L1404.0,467.30 L1405.0,475.47 L1406.0,483.56 L1407.0,491.55 L1408.0,499.44 L1409.0,507.28 L1410.0,515.44 L1411.0,523.92 L1412.0,532.67 L1413.0,541.63 L1414.0,550.75 L1415.0,559.96 L1416.0,569.23 L1417.0,578.50 L1418.0,587.72 L1419.0,596.85 L1420.0,605.85 L1421.0,614.67 L1422.0,623.29 L1423.0,631.67 L1424.0,639.79 L1425.0,647.62 L1426.0,655.15 L1427.0,662.35 L1428.0,669.22 L1429.0,675.75 L1430.0,681.93 L1431.0,687.76 L1432.0,693.24 L1433.0,698.37 L1434.0,703.16 L1435.0,707.62 L1436.0,711.76 L1437.0,715.58 L1438.0,719.10 L1439.0,722.34 L1440.0,725.30 L1441.0,728.00 L1442.0,730.46 L1443.0,732.69 L1444.0,734.70 L1445.0,736.51 L1446.0,738.14 L1447.0,739.60 L1448.0,740.90 L1449.0,742.06 L1450.0,743.09 L1451.0,743.99 L1452.0,744.79 L1453.0,745.48 L1454.0,746.09 L1455.0,746.62 L1456.0,747.07 L1457.0,747.46 L1458.0,747.78 L1459.0,748.05 L1460.0,748.27 L1461.0,748.44 L1462.0,748.56 L1463.0,748.64 L1464.0,748.68 L1465.0,748.68 L1466.0,748.63 L1467.0,748.55 L1468.0,748.41 L1469.0,748.23 L1470.0,747.99 L1471.0,747.69 L1472.0,747.33 L1473.0,746.90 L1474.0,746.39 L1475.0,745.79 L1476.0,745.09 L1477.0,744.28 L1478.0,743.35 L1479.0,742.28 L1480.0,741.06 L1481.0,739.67 L1482.0,738.11 L1483.0,736.34 L1484.0,734.35 L1485.0,732.13 L1486.0,729.65 L1487.0,726.90 L1488.0,723.85 L1489.0,720.49 L1490.0,716.79 L1491.0,712.75 L1492.0,708.34 L1493.0,703.54 L1494.0,698.35 L1495.0,692.76 L1496.0,686.75 L1497.0,680.32 L1498.0,673.46 L1499.0,666.19 L1500.0,658.50 L1501.0,650.41 L1502.0,641.93 L1503.0,633.07 L1504.0,623.88 L1505.0,614.38 L1506.0,604.59 L1507.0,594.57 L1508.0,584.37 L1509.0,574.02 L1510.0,563.59 L1511.0,553.14 L1512.0,542.73 L1513.0,532.43 L1514.0,522.30 L1515.0,512.43 L1516.0,502.87 L1517.0,493.70 L1518.0,484.80 L1519.0,475.83 L1520.0,466.78 L1521.0,457.66 L1522.0,448.49 L1523.0,439.29 L1524.0,430.05 L1525.0,420.81 L1526.0,411.56 L1527.0,402.34 L1528.0,393.15 L1529.0,384.01 L1530.0,374.93 L1531.0,365.93 L1532.0,357.04 L1533.0,348.25 L1534.0,339.60 L1535.0,331.10 L1536.0,322.76 L1537.0,314.60 L1538.0,306.64 L1539.0,298.90 L1540.0,291.39 L1541.0,284.12 L1542.0,277.12 L1543.0,270.39 L1544.0,263.95 L1545.0,257.83 L1546.0,252.02 L1547.0,246.55 L1548.0,241.42 L1549.0,236.65 L1550.0,232.24 L1551.0,228.22 L1552.0,224.59 L1553.0,221.35 L1554.0,218.51 L1555.0,216.09 L1556.0,214.09 L1557.0,212.50 L1558.0,211.34 L1559.0,210.61 L1560.0,210.31 L1561.0,210.42 L1562.0,210.93 L1563.0,211.83 L1564.0,213.11 L1565.0,214.77 L1566.0,216.82 L1567.0,219.24 L1568.0,222.03 L1569.0,225.19 L1570.0,228.71 L1571.0,232.57 L1572.0,236.78 L1573.0,241.32 L1574.0,246.19 L1575.0,251.37 L1576.0,256.85 L1577.0,262.62 L1578.0,268.68 L1579.0,275.00 L1580.0,281.58 L1581.0,288.40 L1582.0,295.45 L1583.0,302.72 L1584.0,310.19 L1585.0,317.84 L1586.0,325.67 L1587.0,333.66 L1588.0,341.79 L1589.0,350.06 L1590.0,358.43 L1591.0,366.91 L1592.0,375.48 L1593.0,384.12 L1594.0,392.82 L1595.0,401.57 L1596.0,410.34 L1597.0,419.14 L1598.0,427.93 L1599.0,436.73 L1600.0,445.50 L1601.0,454.24 L1602.0,462.93 L1603.0,471.58 L1604.0,480.15 L1605.0,488.65 L1606.0,497.07 L1607.0,505.39 L1608.0,513.67 L1609.0,522.37 L1610.0,531.54 L1611.0,541.09 L1612.0,550.95 L1613.0,561.03 L1614.0,571.25 L1615.0,581.52 L1616.0,591.78 L1617.0,601.94 L1618.0,611.96 L1619.0,621.76 L1620.0,631.29 L1621.0,640.52 L1622.0,649.39 L1623.0,657.87 L1624.0,665.95 L1625.0,673.59 L1626.0,680.79 L1627.0,687.53 L1628.0,693.83 L1629.0,699.67 L1630.0,705.06 L1631.0,710.03 L1632.0,714.57 L1633.0,718.71 L1634.0,722.46 L1635.0,725.86 L1636.0,728.91 L1637.0,731.64 L1638.0,734.07 L1639.0,736.24 L1640.0,738.15 L1641.0,739.83 L1642.0,741.31 L1643.0,742.59 L1644.0,743.71 L1645.0,744.68 L1646.0,745.52 L1647.0,746.24 L1648.0,746.85 L1649.0,747.38 L1650.0,747.82 L1651.0,748.20 L1652.0,748.51 L1653.0,748.78 L1654.0,749.00 L1655.0,749.18 L1656.0,749.34 L1657.0,749.46 L1658.0,749.57 L1659.0,749.65 L1660.0,749.72 L1661.0,749.78 L1662.0,749.82 L1663.0,749.86 L1664.0,749.89 L1665.0,749.91 L1666.0,749.93"/></g><polyline points="771.80,751.50 778.60,718.50 790.00,728.50 801.00,738.00" fill="none" stroke="#000" stroke-width="5" stroke-linejoin="round" stroke-linecap="round"/><path d="M777,717.5 L781,717.5 L790,727 L801,737 L815,740.5 L830,742.5 L860,745.3 L885,747 L892,752.5 L800,752.8 L786,753.5 L781.5,748 L780,735 L777.5,726 Z" fill="#000"/><circle cx="789.5" cy="741" r="2.2" fill="#f8f8f8"/><circle cx="942.2" cy="747.4" r="3.4" fill="#000"/><circle cx="967.6" cy="747.4" r="3.4" fill="#000"/><circle cx="993.0" cy="747.4" r="3.4" fill="#000"/><circle cx="1018.1" cy="747.4" r="3.4" fill="#000"/><circle cx="1295.0" cy="748.5" r="3.4" fill="#000"/><circle cx="1320.6" cy="748.5" r="3.4" fill="#000"/><circle cx="1346.2" cy="748.5" r="3.4" fill="#000"/><circle cx="1371.7" cy="748.5" r="3.4" fill="#000"/><circle cx="1523.3" cy="748.8" r="3.4" fill="#000"/><circle cx="1547.8" cy="748.8" r="3.4" fill="#000"/><circle cx="1573.3" cy="748.8" r="3.4" fill="#000"/><line x1="803.50" y1="722.30" x2="857.00" y2="722.30" stroke="#000" stroke-width="5.6" stroke-linecap="round"/><polygon points="853.70,708.00 881.50,722.30 853.70,735.50" fill="#000" stroke="#000" stroke-width="1" stroke-linejoin="miter" stroke-linecap="butt"/><line x1="844.00" y1="501.70" x2="844.00" y2="328.00" stroke="#9a9a9a" stroke-width="1.6" stroke-linecap="butt"/><polygon points="837.00,330.70 844.00,318.70 850.00,330.70" fill="#000" stroke="#000" stroke-width="0.8" stroke-linejoin="miter" stroke-linecap="butt"/><text transform="translate(746.23,137.20) scale(0.9346,1)" font-size="84.37" fill="#000"><tspan font-size="84.37">A</tspan></text><text transform="translate(805.95,293.80) scale(0.9136,1)" font-size="82.71" fill="#000"><tspan font-size="82.71">11</tspan></text><text transform="translate(821.47,584.00) scale(0.9962,1)" font-size="81.80" fill="#000"><tspan font-size="81.80">1</tspan></text><text transform="translate(636.47,219.86) scale(1.0344,1)" font-size="65.06" fill="#000"><tspan font-size="65.06">30</tspan></text><text transform="translate(638.74,406.35) scale(0.9906,1)" font-size="66.39" fill="#000"><tspan font-size="66.39">20</tspan></text><text transform="translate(639.63,590.65) scale(0.9929,1)" font-size="66.24" fill="#000"><tspan font-size="66.24">10</tspan></text><text transform="translate(673.04,777.16) scale(0.9937,1)" font-size="65.06" fill="#000"><tspan font-size="65.06">0</tspan></text><text transform="translate(704.03,844.98) scale(0.9646,1)" font-size="64.63" fill="#000"><tspan font-size="64.63">0.4</tspan></text><text transform="translate(845.13,844.98) scale(1.0021,1)" font-size="64.63" fill="#000"><tspan font-size="64.63">0.6</tspan></text><text transform="translate(987.32,844.98) scale(1.0067,1)" font-size="64.63" fill="#000"><tspan font-size="64.63">0.8</tspan></text><text transform="translate(1144.89,844.98) scale(0.9869,1)" font-size="64.63" fill="#000"><tspan font-size="64.63">1.0</tspan></text><text transform="translate(1286.86,844.98) scale(0.9692,1)" font-size="64.91" fill="#000"><tspan font-size="64.91">1.2</tspan></text><text transform="translate(1443.68,844.98) scale(0.9632,1)" font-size="65.10" fill="#000"><tspan font-size="65.10">1.4</tspan></text><text transform="translate(1585.45,844.98) scale(0.9913,1)" font-size="64.91" fill="#000"><tspan font-size="64.91">1.6</tspan></text><text transform="translate(975.76,916.80) scale(1.0066,1)" font-size="62.01" fill="#000"><tspan font-size="62.01">(E </tspan><tspan font-style="italic" font-size="62.01">vs</tspan><tspan font-size="62.01">. Ag/</tspan><tspan font-size="71.31">Agcl</tspan><tspan font-size="62.01">) / V</tspan></text><text transform="translate(592.70,580.73) rotate(-90) scale(0.9888,1)" font-size="82.01" fill="#000"><tspan font-size="82.01">I / µA</tspan></text><polygon points="199.00,940.00 802.50,940.00 802.50,1395.30 199.00,1395.30" fill="none" stroke="#000" stroke-width="4.6" stroke-linejoin="miter" stroke-linecap="butt"/><line x1="190.00" y1="980.60" x2="199.00" y2="980.60" stroke="#000" stroke-width="4" stroke-linecap="butt"/><line x1="193.00" y1="1030.60" x2="199.00" y2="1030.60" stroke="#000" stroke-width="4" stroke-linecap="butt"/><line x1="190.00" y1="1082.00" x2="199.00" y2="1082.00" stroke="#000" stroke-width="4" stroke-linecap="butt"/><line x1="193.00" y1="1135.30" x2="199.00" y2="1135.30" stroke="#000" stroke-width="4" stroke-linecap="butt"/><line x1="190.00" y1="1188.40" x2="199.00" y2="1188.40" stroke="#000" stroke-width="4" stroke-linecap="butt"/><line x1="193.00" y1="1240.00" x2="199.00" y2="1240.00" stroke="#000" stroke-width="4" stroke-linecap="butt"/><line x1="190.00" y1="1293.00" x2="199.00" y2="1293.00" stroke="#000" stroke-width="4" stroke-linecap="butt"/><line x1="193.00" y1="1344.70" x2="199.00" y2="1344.70" stroke="#000" stroke-width="4" stroke-linecap="butt"/><line x1="190.00" y1="1397.80" x2="199.00" y2="1397.80" stroke="#000" stroke-width="4" stroke-linecap="butt"/><line x1="203.00" y1="1395.30" x2="203.00" y2="1404.30" stroke="#000" stroke-width="4" stroke-linecap="butt"/><line x1="280.60" y1="1395.30" x2="280.60" y2="1400.30" stroke="#000" stroke-width="4" stroke-linecap="butt"/><line x1="356.80" y1="1395.30" x2="356.80" y2="1404.30" stroke="#000" stroke-width="4" stroke-linecap="butt"/><line x1="430.00" y1="1395.30" x2="430.00" y2="1400.30" stroke="#000" stroke-width="4" stroke-linecap="butt"/><line x1="505.00" y1="1395.30" x2="505.00" y2="1404.30" stroke="#000" stroke-width="4" stroke-linecap="butt"/><line x1="581.00" y1="1395.30" x2="581.00" y2="1400.30" stroke="#000" stroke-width="4" stroke-linecap="butt"/><line x1="654.40" y1="1395.30" x2="654.40" y2="1404.30" stroke="#000" stroke-width="4" stroke-linecap="butt"/><line x1="730.60" y1="1395.30" x2="730.60" y2="1400.30" stroke="#000" stroke-width="4" stroke-linecap="butt"/><text transform="translate(106.33,1006.56) scale(0.9885,1)" font-size="65.19" fill="#000"><tspan font-size="65.19">32</tspan></text><text transform="translate(107.72,1104.00) scale(0.9306,1)" font-size="66.00" fill="#000"><tspan font-size="66.00">24</tspan></text><text transform="translate(108.49,1203.36) scale(0.9426,1)" font-size="65.04" fill="#000"><tspan font-size="65.04">16</tspan></text><text transform="translate(137.86,1309.67) scale(0.9972,1)" font-size="64.76" fill="#000"><tspan font-size="64.76">8</tspan></text><text transform="translate(137.48,1412.77) scale(1.0202,1)" font-size="64.76" fill="#000"><tspan font-size="64.76">0</tspan></text><text transform="translate(196.25,1461.37) scale(1.0062,1)" font-size="64.02" fill="#000"><tspan font-size="64.02">0</tspan></text><text transform="translate(318.45,1461.37) scale(1.0433,1)" font-size="64.02" fill="#000"><tspan font-size="64.02">10</tspan></text><text transform="translate(474.84,1461.37) scale(1.0256,1)" font-size="64.02" fill="#000"><tspan font-size="64.02">20</tspan></text><text transform="translate(620.29,1461.37) scale(1.0444,1)" font-size="64.02" fill="#000"><tspan font-size="64.02">30</tspan></text><text transform="translate(761.35,1461.37) scale(0.9719,1)" font-size="64.02" fill="#000"><tspan font-size="64.02">40</tspan></text><text transform="translate(211.93,1010.96) scale(0.9281,1)" font-size="82.56" fill="#000"><tspan font-size="82.56">B</tspan></text><text transform="translate(645.79,1359.00) scale(0.9581,1)" font-size="61.80" fill="#000"><tspan font-size="61.80">PAR</tspan></text><polyline points="216.00,1369.50 412.30,1221.10 600.00,1077.50 748.20,956.80" fill="none" stroke="#000" stroke-width="3.4" stroke-linejoin="round" stroke-linecap="butt"/><polygon points="212.80,1374.50 220.80,1365.50 228.80,1374.50 220.80,1383.50" fill="#000" stroke="#000" stroke-width="2" stroke-linejoin="round" stroke-linecap="butt"/><line x1="251.80" y1="1336.70" x2="251.80" y2="1357.30" stroke="#000" stroke-width="3" stroke-linecap="butt"/><line x1="238.80" y1="1336.70" x2="264.80" y2="1336.70" stroke="#000" stroke-width="4.5" stroke-linecap="butt"/><line x1="238.80" y1="1357.30" x2="264.80" y2="1357.30" stroke="#000" stroke-width="4.5" stroke-linecap="butt"/><polygon points="243.80,1347.00 251.80,1338.00 259.80,1347.00 251.80,1356.00" fill="#000" stroke="#000" stroke-width="2" stroke-linejoin="round" stroke-linecap="butt"/><line x1="281.00" y1="1321.00" x2="281.00" y2="1333.00" stroke="#000" stroke-width="3" stroke-linecap="butt"/><line x1="268.00" y1="1321.00" x2="294.00" y2="1321.00" stroke="#000" stroke-width="4.5" stroke-linecap="butt"/><line x1="268.00" y1="1333.00" x2="294.00" y2="1333.00" stroke="#000" stroke-width="4.5" stroke-linecap="butt"/><polygon points="273.00,1326.00 281.00,1317.00 289.00,1326.00 281.00,1335.00" fill="#000" stroke="#000" stroke-width="2" stroke-linejoin="round" stroke-linecap="butt"/><line x1="351.60" y1="1235.00" x2="351.60" y2="1276.40" stroke="#000" stroke-width="3" stroke-linecap="butt"/><line x1="338.60" y1="1235.00" x2="364.60" y2="1235.00" stroke="#000" stroke-width="4.5" stroke-linecap="butt"/><line x1="338.60" y1="1276.40" x2="364.60" y2="1276.40" stroke="#000" stroke-width="4.5" stroke-linecap="butt"/><polygon points="343.60,1255.70 351.60,1246.70 359.60,1255.70 351.60,1264.70" fill="#000" stroke="#000" stroke-width="2" stroke-linejoin="round" stroke-linecap="butt"/><line x1="424.00" y1="1195.50" x2="424.00" y2="1221.30" stroke="#000" stroke-width="3" stroke-linecap="butt"/><line x1="411.00" y1="1195.50" x2="437.00" y2="1195.50" stroke="#000" stroke-width="4.5" stroke-linecap="butt"/><line x1="411.00" y1="1221.30" x2="437.00" y2="1221.30" stroke="#000" stroke-width="4.5" stroke-linecap="butt"/><polygon points="416.00,1207.50 424.00,1198.50 432.00,1207.50 424.00,1216.50" fill="#000" stroke="#000" stroke-width="2" stroke-linejoin="round" stroke-linecap="butt"/><line x1="491.00" y1="1131.80" x2="491.00" y2="1162.80" stroke="#000" stroke-width="3" stroke-linecap="butt"/><line x1="478.00" y1="1131.80" x2="504.00" y2="1131.80" stroke="#000" stroke-width="4.5" stroke-linecap="butt"/><line x1="478.00" y1="1162.80" x2="504.00" y2="1162.80" stroke="#000" stroke-width="4.5" stroke-linecap="butt"/><polygon points="483.00,1147.00 491.00,1138.00 499.00,1147.00 491.00,1156.00" fill="#000" stroke="#000" stroke-width="2" stroke-linejoin="round" stroke-linecap="butt"/><line x1="561.70" y1="1064.60" x2="561.70" y2="1111.00" stroke="#000" stroke-width="3" stroke-linecap="butt"/><line x1="548.70" y1="1064.60" x2="574.70" y2="1064.60" stroke="#000" stroke-width="4.5" stroke-linecap="butt"/><line x1="548.70" y1="1111.00" x2="574.70" y2="1111.00" stroke="#000" stroke-width="4.5" stroke-linecap="butt"/><polygon points="553.70,1087.00 561.70,1078.00 569.70,1087.00 561.70,1096.00" fill="#000" stroke="#000" stroke-width="2" stroke-linejoin="round" stroke-linecap="butt"/><line x1="627.70" y1="1019.50" x2="627.70" y2="1071.20" stroke="#000" stroke-width="3" stroke-linecap="butt"/><line x1="614.70" y1="1019.50" x2="640.70" y2="1019.50" stroke="#000" stroke-width="4.5" stroke-linecap="butt"/><line x1="614.70" y1="1071.20" x2="640.70" y2="1071.20" stroke="#000" stroke-width="4.5" stroke-linecap="butt"/><polygon points="619.70,1045.40 627.70,1036.40 635.70,1045.40 627.70,1054.40" fill="#000" stroke="#000" stroke-width="2" stroke-linejoin="round" stroke-linecap="butt"/><line x1="692.00" y1="990.00" x2="692.00" y2="1021.70" stroke="#000" stroke-width="3" stroke-linecap="butt"/><line x1="679.00" y1="990.00" x2="705.00" y2="990.00" stroke="#000" stroke-width="4.5" stroke-linecap="butt"/><line x1="679.00" y1="1021.70" x2="705.00" y2="1021.70" stroke="#000" stroke-width="4.5" stroke-linecap="butt"/><polygon points="684.00,1006.00 692.00,997.00 700.00,1006.00 692.00,1015.00" fill="#000" stroke="#000" stroke-width="2" stroke-linejoin="round" stroke-linecap="butt"/><line x1="756.25" y1="954.10" x2="756.25" y2="985.80" stroke="#000" stroke-width="3" stroke-linecap="butt"/><line x1="743.25" y1="954.10" x2="769.25" y2="954.10" stroke="#000" stroke-width="4.5" stroke-linecap="butt"/><line x1="743.25" y1="985.80" x2="769.25" y2="985.80" stroke="#000" stroke-width="4.5" stroke-linecap="butt"/><polygon points="748.25,970.20 756.25,961.20 764.25,970.20 756.25,979.20" fill="#000" stroke="#000" stroke-width="2" stroke-linejoin="round" stroke-linecap="butt"/><text transform="translate(256.43,1549.70) scale(1.0871,1)" font-size="59.71" fill="#000"><tspan font-size="59.71">C</tspan><tspan dy="14.93" font-size="34.34">PAR</tspan><tspan dy="-14.93" font-size="59.71"> / (µmol L</tspan><tspan dy="-20.30" font-size="34.34">-1</tspan><tspan dy="20.30" font-size="59.71">)</tspan></text><text transform="translate(89.70,1250.85) rotate(-90) scale(1.0211,1)" font-size="53.76" fill="#000"><tspan font-size="53.76">I</tspan><tspan dy="15.05" font-size="33.33">p</tspan><tspan dy="-15.05" font-size="53.76"> / µA</tspan></text><polygon points="946.30,945.30 1554.20,945.30 1554.20,1397.50 946.30,1397.50" fill="none" stroke="#000" stroke-width="4.6" stroke-linejoin="miter" stroke-linecap="butt"/><line x1="937.30" y1="990.00" x2="946.30" y2="990.00" stroke="#000" stroke-width="4" stroke-linecap="butt"/><line x1="940.30" y1="1041.60" x2="946.30" y2="1041.60" stroke="#000" stroke-width="4" stroke-linecap="butt"/><line x1="937.30" y1="1091.60" x2="946.30" y2="1091.60" stroke="#000" stroke-width="4" stroke-linecap="butt"/><line x1="940.30" y1="1143.00" x2="946.30" y2="1143.00" stroke="#000" stroke-width="4" stroke-linecap="butt"/><line x1="937.30" y1="1191.60" x2="946.30" y2="1191.60" stroke="#000" stroke-width="4" stroke-linecap="butt"/><line x1="940.30" y1="1241.60" x2="946.30" y2="1241.60" stroke="#000" stroke-width="4" stroke-linecap="butt"/><line x1="937.30" y1="1291.60" x2="946.30" y2="1291.60" stroke="#000" stroke-width="4" stroke-linecap="butt"/><line x1="940.30" y1="1340.00" x2="946.30" y2="1340.00" stroke="#000" stroke-width="4" stroke-linecap="butt"/><line x1="937.30" y1="1391.60" x2="946.30" y2="1391.60" stroke="#000" stroke-width="4" stroke-linecap="butt"/><line x1="951.60" y1="1397.50" x2="951.60" y2="1406.50" stroke="#000" stroke-width="4" stroke-linecap="butt"/><line x1="1027.80" y1="1397.50" x2="1027.80" y2="1402.50" stroke="#000" stroke-width="4" stroke-linecap="butt"/><line x1="1102.50" y1="1397.50" x2="1102.50" y2="1406.50" stroke="#000" stroke-width="4" stroke-linecap="butt"/><line x1="1177.30" y1="1397.50" x2="1177.30" y2="1402.50" stroke="#000" stroke-width="4" stroke-linecap="butt"/><line x1="1253.50" y1="1397.50" x2="1253.50" y2="1406.50" stroke="#000" stroke-width="4" stroke-linecap="butt"/><line x1="1329.70" y1="1397.50" x2="1329.70" y2="1402.50" stroke="#000" stroke-width="4" stroke-linecap="butt"/><line x1="1401.50" y1="1397.50" x2="1401.50" y2="1406.50" stroke="#000" stroke-width="4" stroke-linecap="butt"/><line x1="1479.20" y1="1397.50" x2="1479.20" y2="1402.50" stroke="#000" stroke-width="4" stroke-linecap="butt"/><text transform="translate(853.17,995.66) scale(0.9910,1)" font-size="65.19" fill="#000"><tspan font-size="65.19">32</tspan></text><text transform="translate(854.41,1093.10) scale(0.9354,1)" font-size="66.00" fill="#000"><tspan font-size="66.00">24</tspan></text><text transform="translate(855.38,1192.37) scale(0.9464,1)" font-size="64.89" fill="#000"><tspan font-size="64.89">16</tspan></text><text transform="translate(884.75,1297.19) scale(1.0363,1)" font-size="62.54" fill="#000"><tspan font-size="62.54">8</tspan></text><text transform="translate(884.74,1403.16) scale(0.9848,1)" font-size="65.65" fill="#000"><tspan font-size="65.65">0</tspan></text><text transform="translate(944.72,1458.38) scale(1.0627,1)" font-size="63.72" fill="#000"><tspan font-size="63.72">0</tspan></text><text transform="translate(1066.94,1458.38) scale(1.0500,1)" font-size="63.72" fill="#000"><tspan font-size="63.72">10</tspan></text><text transform="translate(1223.24,1458.38) scale(1.0321,1)" font-size="63.72" fill="#000"><tspan font-size="63.72">20</tspan></text><text transform="translate(1368.84,1458.38) scale(1.0255,1)" font-size="63.72" fill="#000"><tspan font-size="63.72">30</tspan></text><text transform="translate(1508.53,1458.38) scale(0.9979,1)" font-size="63.72" fill="#000"><tspan font-size="63.72">40</tspan></text><text transform="translate(954.21,1012.08) scale(1.0252,1)" font-size="83.80" fill="#000"><tspan font-size="83.80">C</tspan></text><text transform="translate(1376.18,1360.47) scale(0.9836,1)" font-size="64.89" fill="#0d0da6"><tspan font-size="64.89">COD</tspan></text><polygon points="958.70,1381.40 968.70,1373.90 978.70,1381.40 968.70,1388.90" fill="#0606c4" stroke="#0606c4" stroke-width="2" stroke-linejoin="round" stroke-linecap="butt"/><polygon points="989.70,1359.00 999.70,1351.50 1009.70,1359.00 999.70,1366.50" fill="#0606c4" stroke="#0606c4" stroke-width="2" stroke-linejoin="round" stroke-linecap="butt"/><polygon points="1019.00,1329.80 1029.00,1322.30 1039.00,1329.80 1029.00,1337.30" fill="#0606c4" stroke="#0606c4" stroke-width="2" stroke-linejoin="round" stroke-linecap="butt"/><polygon points="1089.60,1261.00 1099.60,1253.50 1109.60,1261.00 1099.60,1268.50" fill="#0606c4" stroke="#0606c4" stroke-width="2" stroke-linejoin="round" stroke-linecap="butt"/><polygon points="1161.90,1199.00 1171.90,1191.50 1181.90,1199.00 1171.90,1206.50" fill="#0606c4" stroke="#0606c4" stroke-width="2" stroke-linejoin="round" stroke-linecap="butt"/><polygon points="1229.00,1138.70 1239.00,1131.20 1249.00,1138.70 1239.00,1146.20" fill="#0606c4" stroke="#0606c4" stroke-width="2" stroke-linejoin="round" stroke-linecap="butt"/><polygon points="1299.60,1085.30 1309.60,1077.80 1319.60,1085.30 1309.60,1092.80" fill="#0606c4" stroke="#0606c4" stroke-width="2" stroke-linejoin="round" stroke-linecap="butt"/><polygon points="1365.30,1048.70 1375.30,1041.20 1385.30,1048.70 1375.30,1056.20" fill="#0606c4" stroke="#0606c4" stroke-width="2" stroke-linejoin="round" stroke-linecap="butt"/><polygon points="1429.00,1008.40 1439.00,1000.90 1449.00,1008.40 1439.00,1015.90" fill="#0606c4" stroke="#0606c4" stroke-width="2" stroke-linejoin="round" stroke-linecap="butt"/><polygon points="1494.20,976.80 1504.20,969.30 1514.20,976.80 1504.20,984.30" fill="#0606c4" stroke="#0606c4" stroke-width="2" stroke-linejoin="round" stroke-linecap="butt"/><polyline points="968.70,1371.00 1504.00,952.70" fill="none" stroke="#22227a" stroke-width="3.3" stroke-linejoin="miter" stroke-linecap="butt"/><text transform="translate(1033.30,1538.70) scale(1.0942,1)" font-size="59.87" fill="#000"><tspan font-size="59.87">C</tspan><tspan dy="14.97" font-size="34.42">COD</tspan><tspan dy="-14.97" font-size="59.87"> / (µmol L</tspan><tspan dy="-20.35" font-size="34.42">-1</tspan><tspan dy="20.35" font-size="59.87">)</tspan></text><text transform="translate(846.00,1248.47) rotate(-90) scale(0.9843,1)" font-size="53.45" fill="#000"><tspan font-size="53.45">I</tspan><tspan dy="14.97" font-size="33.14">p</tspan><tspan dy="-14.97" font-size="53.45"> / µA</tspan></text><polygon points="1699.50,942.90 2301.00,942.90 2301.00,1395.40 1699.50,1395.40" fill="none" stroke="#000" stroke-width="4.6" stroke-linejoin="miter" stroke-linecap="butt"/><line x1="1690.50" y1="963.50" x2="1699.50" y2="963.50" stroke="#000" stroke-width="4" stroke-linecap="butt"/><line x1="1693.50" y1="1036.25" x2="1699.50" y2="1036.25" stroke="#000" stroke-width="4" stroke-linecap="butt"/><line x1="1690.50" y1="1108.00" x2="1699.50" y2="1108.00" stroke="#000" stroke-width="4" stroke-linecap="butt"/><line x1="1693.50" y1="1180.00" x2="1699.50" y2="1180.00" stroke="#000" stroke-width="4" stroke-linecap="butt"/><line x1="1690.50" y1="1250.30" x2="1699.50" y2="1250.30" stroke="#000" stroke-width="4" stroke-linecap="butt"/><line x1="1693.50" y1="1322.20" x2="1699.50" y2="1322.20" stroke="#000" stroke-width="4" stroke-linecap="butt"/><line x1="1690.50" y1="1395.40" x2="1699.50" y2="1395.40" stroke="#000" stroke-width="4" stroke-linecap="butt"/><line x1="1780.60" y1="1395.40" x2="1780.60" y2="1404.40" stroke="#000" stroke-width="4" stroke-linecap="butt"/><line x1="1848.00" y1="1395.40" x2="1848.00" y2="1400.40" stroke="#000" stroke-width="4" stroke-linecap="butt"/><line x1="1911.40" y1="1395.40" x2="1911.40" y2="1404.40" stroke="#000" stroke-width="4" stroke-linecap="butt"/><line x1="1977.50" y1="1395.40" x2="1977.50" y2="1400.40" stroke="#000" stroke-width="4" stroke-linecap="butt"/><line x1="2042.20" y1="1395.40" x2="2042.20" y2="1404.40" stroke="#000" stroke-width="4" stroke-linecap="butt"/><line x1="2107.00" y1="1395.40" x2="2107.00" y2="1400.40" stroke="#000" stroke-width="4" stroke-linecap="butt"/><line x1="2170.20" y1="1395.40" x2="2170.20" y2="1404.40" stroke="#000" stroke-width="4" stroke-linecap="butt"/><line x1="2237.70" y1="1395.40" x2="2237.70" y2="1400.40" stroke="#000" stroke-width="4" stroke-linecap="butt"/><text transform="translate(1610.02,985.62) scale(1.0162,1)" font-size="64.83" fill="#000"><tspan font-size="64.83">30</tspan></text><text transform="translate(1608.29,1129.37) scale(0.9943,1)" font-size="64.83" fill="#000"><tspan font-size="64.83">20</tspan></text><text transform="translate(1608.74,1269.99) scale(1.0499,1)" font-size="62.54" fill="#000"><tspan font-size="62.54">10</tspan></text><text transform="translate(1639.67,1412.17) scale(1.0215,1)" font-size="64.91" fill="#000"><tspan font-size="64.91">0</tspan></text><text transform="translate(1752.01,1455.57) scale(1.0001,1)" font-size="64.02" fill="#000"><tspan font-size="64.02">20</tspan></text><text transform="translate(1884.65,1455.57) scale(0.9719,1)" font-size="64.02" fill="#000"><tspan font-size="64.02">40</tspan></text><text transform="translate(2009.77,1455.57) scale(1.0170,1)" font-size="64.02" fill="#000"><tspan font-size="64.02">60</tspan></text><text transform="translate(2137.89,1455.57) scale(0.9924,1)" font-size="64.02" fill="#000"><tspan font-size="64.02">80</tspan></text><text transform="translate(2258.69,1455.57) scale(0.9586,1)" font-size="64.02" fill="#000"><tspan font-size="64.02">100</tspan></text><text transform="translate(1705.10,1010.84) scale(1.0386,1)" font-size="82.22" fill="#000"><tspan font-size="82.22">D</tspan></text><text transform="translate(2125.06,1360.17) scale(0.9983,1)" font-size="64.45" fill="#a8141c"><tspan font-size="64.45">CAF</tspan></text><polygon points="1708.40,1372.80 1718.40,1365.30 1728.40,1372.80 1718.40,1380.30" fill="#c81208" stroke="#c81208" stroke-width="2" stroke-linejoin="round" stroke-linecap="butt"/><polygon points="1772.00,1336.70 1782.00,1329.20 1792.00,1336.70 1782.00,1344.20" fill="#c81208" stroke="#c81208" stroke-width="2" stroke-linejoin="round" stroke-linecap="butt"/><polygon points="1835.80,1285.00 1845.80,1277.50 1855.80,1285.00 1845.80,1292.50" fill="#c81208" stroke="#c81208" stroke-width="2" stroke-linejoin="round" stroke-linecap="butt"/><polygon points="1899.50,1236.80 1909.50,1229.30 1919.50,1236.80 1909.50,1244.30" fill="#c81208" stroke="#c81208" stroke-width="2" stroke-linejoin="round" stroke-linecap="butt"/><polygon points="1958.00,1188.60 1968.00,1181.10 1978.00,1188.60 1968.00,1196.10" fill="#c81208" stroke="#c81208" stroke-width="2" stroke-linejoin="round" stroke-linecap="butt"/><polygon points="2014.90,1135.20 2024.90,1127.70 2034.90,1135.20 2024.90,1142.70" fill="#c81208" stroke="#c81208" stroke-width="2" stroke-linejoin="round" stroke-linecap="butt"/><polygon points="2073.40,1088.70 2083.40,1081.20 2093.40,1088.70 2083.40,1096.20" fill="#c81208" stroke="#c81208" stroke-width="2" stroke-linejoin="round" stroke-linecap="butt"/><polygon points="2130.20,1050.90 2140.20,1043.40 2150.20,1050.90 2140.20,1058.40" fill="#c81208" stroke="#c81208" stroke-width="2" stroke-linejoin="round" stroke-linecap="butt"/><polygon points="2185.30,1004.40 2195.30,996.90 2205.30,1004.40 2195.30,1011.90" fill="#c81208" stroke="#c81208" stroke-width="2" stroke-linejoin="round" stroke-linecap="butt"/><polygon points="2238.70,973.40 2248.70,965.90 2258.70,973.40 2248.70,980.90" fill="#c81208" stroke="#c81208" stroke-width="2" stroke-linejoin="round" stroke-linecap="butt"/><polyline points="1718.40,1378.00 2252.00,971.70" fill="none" stroke="#a83a3a" stroke-width="3.3" stroke-linejoin="miter" stroke-linecap="butt"/><text transform="translate(1794.39,1525.60) scale(1.0650,1)" font-size="59.87" fill="#000"><tspan font-size="59.87">C</tspan><tspan dy="14.97" font-size="39.51">CAF</tspan><tspan dy="-14.97" font-size="59.87"> / (µmol L</tspan><tspan dy="-20.35" font-size="34.42">-1</tspan><tspan dy="20.35" font-size="59.87">)</tspan></text><text transform="translate(1597.90,1250.33) rotate(-90) scale(0.9764,1)" font-size="55.59" fill="#000"><tspan font-size="55.59">I</tspan><tspan dy="15.57" font-size="34.47">p</tspan><tspan dy="-15.57" font-size="55.59"> / µA</tspan></text></svg>
</div>
</body></html>
